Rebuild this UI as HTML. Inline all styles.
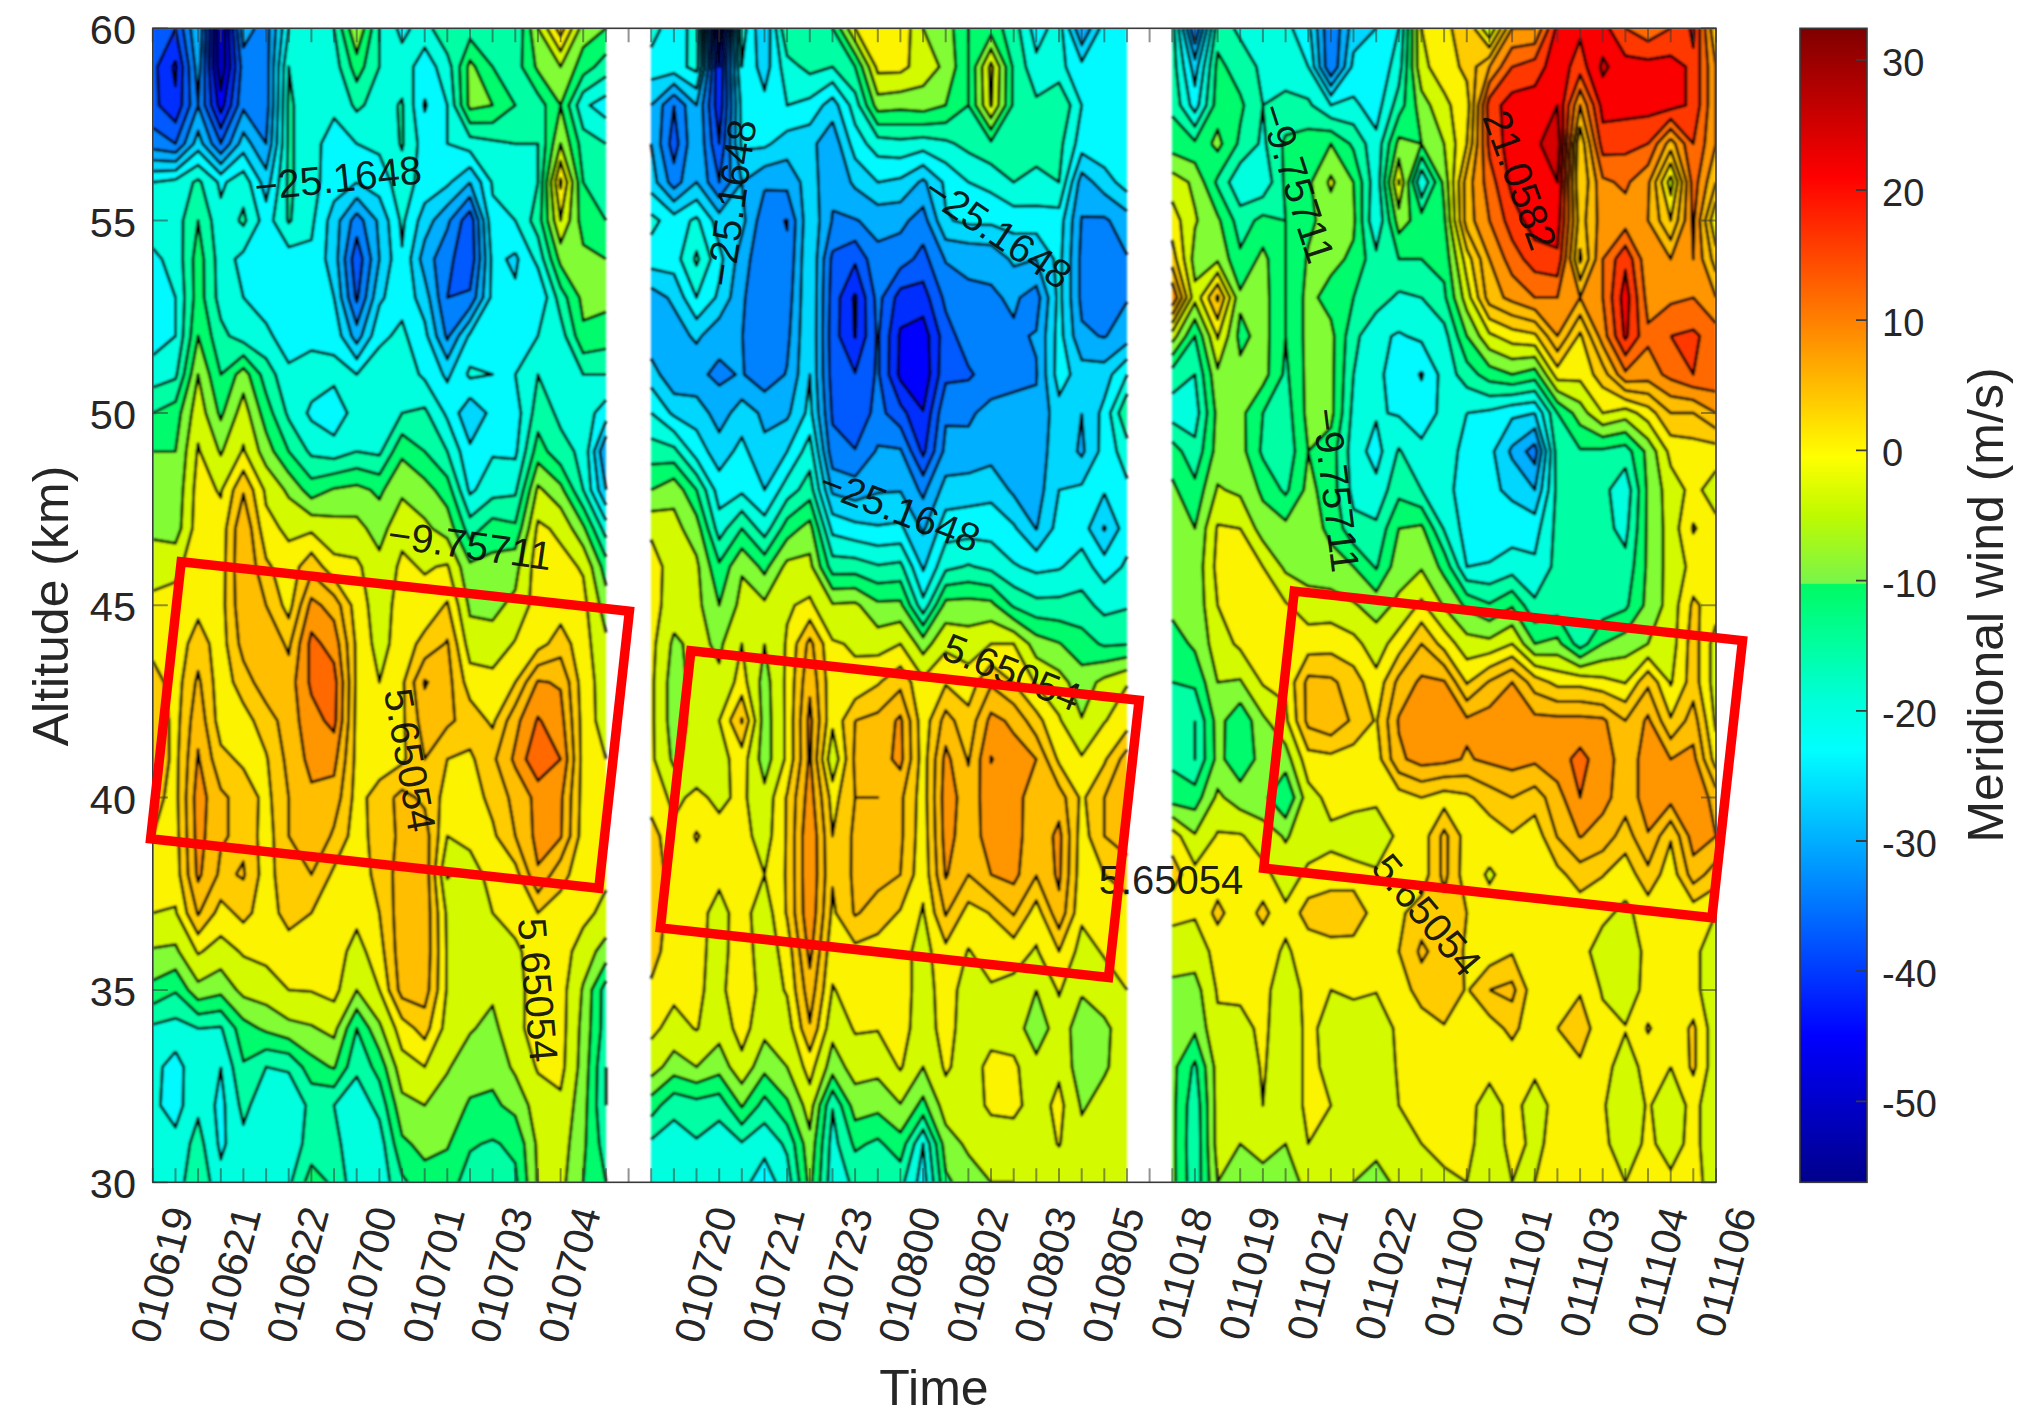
<!DOCTYPE html>
<html><head><meta charset="utf-8"><title>Meridional wind</title>
<style>html,body{margin:0;padding:0;background:#fff}svg{display:block}</style></head>
<body>
<svg width="2027" height="1421" viewBox="0 0 2027 1421">
<rect width="2027" height="1421" fill="#fff"/>
<defs><filter id="bl" x="-2%" y="-2%" width="104%" height="104%"><feGaussianBlur stdDeviation="0.8"/></filter>
<clipPath id="pc"><rect x="152.8" y="28.3" width="1563.2" height="1154"/></clipPath></defs>
<g clip-path="url(#pc)"><g filter="url(#bl)">
<rect x="152.8" y="28.3" width="453.1" height="1154" fill="#0000c8"/>
<path d="M152.8,28.3 175.5,28.3 198.1,28.3 217,28.3 217.3,66.8 220.8,90.4 225,66.8 224.9,28.3 243.4,28.3 266.1,28.3 288.7,28.3 311.4,28.3 334,28.3 356.7,28.3 379.4,28.3 402,28.3 424.7,28.3 447.3,28.3 470,28.3 492.6,28.3 515.3,28.3 537.9,28.3 560.6,28.3 583.2,28.3 605.9,28.3 605.9,66.8 605.9,105.2 605.9,143.7 605.9,182.2 605.9,220.6 605.9,259.1 605.9,297.6 605.9,336 605.9,374.5 605.9,413 605.9,451.4 605.9,489.9 605.9,528.4 605.9,566.8 605.9,605.3 605.9,643.8 605.9,682.2 605.9,720.7 605.9,759.2 605.9,797.6 605.9,836.1 605.9,874.6 605.9,913 605.9,951.5 605.9,990 605.9,1028.4 605.9,1066.9 605.9,1105.4 605.9,1143.8 605.9,1182.3 583.2,1182.3 560.6,1182.3 537.9,1182.3 515.3,1182.3 492.6,1182.3 470,1182.3 447.3,1182.3 424.7,1182.3 402,1182.3 379.4,1182.3 356.7,1182.3 334,1182.3 311.4,1182.3 288.7,1182.3 266.1,1182.3 243.4,1182.3 220.8,1182.3 198.1,1182.3 175.5,1182.3 152.8,1182.3 152.8,1143.8 152.8,1105.4 152.8,1066.9 152.8,1028.4 152.8,990 152.8,951.5 152.8,913 152.8,874.6 152.8,836.1 152.8,797.6 152.8,759.2 152.8,720.7 152.8,682.2 152.8,643.8 152.8,605.3 152.8,566.8 152.8,528.4 152.8,489.9 152.8,451.4 152.8,413 152.8,374.5 152.8,336 152.8,297.6 152.8,259.1 152.8,220.6 152.8,182.2 152.8,143.7 152.8,105.2 152.8,66.8Z" fill="#0000ff" fill-rule="evenodd"/>
<path d="M152.8,28.3 175.5,28.3 198.1,28.3 213.2,28.3 213.1,66.8 217.5,105.2 220.8,112.9 224.2,105.2 230.2,66.8 229,28.3 243.4,28.3 266.1,28.3 288.7,28.3 311.4,28.3 334,28.3 356.7,28.3 379.4,28.3 402,28.3 424.7,28.3 447.3,28.3 470,28.3 492.6,28.3 515.3,28.3 537.9,28.3 560.6,28.3 583.2,28.3 605.9,28.3 605.9,66.8 605.9,105.2 605.9,143.7 605.9,182.2 605.9,220.6 605.9,259.1 605.9,297.6 605.9,336 605.9,374.5 605.9,413 605.9,451.4 605.9,489.9 605.9,528.4 605.9,566.8 605.9,605.3 605.9,643.8 605.9,682.2 605.9,720.7 605.9,759.2 605.9,797.6 605.9,836.1 605.9,874.6 605.9,913 605.9,951.5 605.9,990 605.9,1028.4 605.9,1066.9 605.9,1105.4 605.9,1143.8 605.9,1182.3 583.2,1182.3 560.6,1182.3 537.9,1182.3 515.3,1182.3 492.6,1182.3 470,1182.3 447.3,1182.3 424.7,1182.3 402,1182.3 379.4,1182.3 356.7,1182.3 334,1182.3 311.4,1182.3 288.7,1182.3 266.1,1182.3 243.4,1182.3 220.8,1182.3 198.1,1182.3 175.5,1182.3 152.8,1182.3 152.8,1143.8 152.8,1105.4 152.8,1066.9 152.8,1028.4 152.8,990 152.8,951.5 152.8,913 152.8,874.6 152.8,836.1 152.8,797.6 152.8,759.2 152.8,720.7 152.8,682.2 152.8,643.8 152.8,605.3 152.8,566.8 152.8,528.4 152.8,489.9 152.8,451.4 152.8,413 152.8,374.5 152.8,336 152.8,297.6 152.8,259.1 152.8,220.6 152.8,182.2 152.8,143.7 152.8,105.2 152.8,66.8ZM175.5,60.4 172.4,66.8 175.5,86 176.7,66.8Z" fill="#002dff" fill-rule="evenodd"/>
<path d="M152.8,28.3 175.5,28.3 157.3,66.8 159,105.2 175.5,122.3 181.9,105.2 182.8,66.8 175.5,28.3 198.1,28.3 209.4,28.3 208.8,66.8 211.1,105.2 220.8,128.3 231.1,105.2 235.5,66.8 233.1,28.3 243.4,28.3 266.1,28.3 288.7,28.3 311.4,28.3 334,28.3 356.7,28.3 379.4,28.3 402,28.3 424.7,28.3 447.3,28.3 470,28.3 492.6,28.3 515.3,28.3 537.9,28.3 560.6,28.3 583.2,28.3 605.9,28.3 605.9,66.8 605.9,105.2 605.9,143.7 605.9,182.2 605.9,220.6 605.9,259.1 605.9,297.6 605.9,336 605.9,374.5 605.9,413 605.9,451.4 605.9,489.9 605.9,528.4 605.9,566.8 605.9,605.3 605.9,643.8 605.9,682.2 605.9,720.7 605.9,759.2 605.9,797.6 605.9,836.1 605.9,874.6 605.9,913 605.9,951.5 605.9,990 605.9,1028.4 605.9,1066.9 605.9,1105.4 605.9,1143.8 605.9,1182.3 583.2,1182.3 560.6,1182.3 537.9,1182.3 515.3,1182.3 492.6,1182.3 470,1182.3 447.3,1182.3 424.7,1182.3 402,1182.3 379.4,1182.3 356.7,1182.3 334,1182.3 311.4,1182.3 288.7,1182.3 266.1,1182.3 243.4,1182.3 220.8,1182.3 198.1,1182.3 175.5,1182.3 152.8,1182.3 152.8,1143.8 152.8,1105.4 152.8,1066.9 152.8,1028.4 152.8,990 152.8,951.5 152.8,913 152.8,874.6 152.8,836.1 152.8,797.6 152.8,759.2 152.8,720.7 152.8,682.2 152.8,643.8 152.8,605.3 152.8,566.8 152.8,528.4 152.8,489.9 152.8,451.4 152.8,413 152.8,374.5 152.8,336 152.8,297.6 152.8,259.1 152.8,220.6 152.8,182.2 152.8,143.7 152.8,105.2 152.8,66.8Z" fill="#005aff" fill-rule="evenodd"/>
<path d="M183,28.3 198.1,28.3 205.7,28.3 204.5,66.8 204.6,105.2 220.8,143.7 220.8,143.7 220.8,143.7 237.9,105.2 240.8,66.8 237.2,28.3 243.4,28.3 266.1,28.3 288.7,28.3 311.4,28.3 334,28.3 356.7,28.3 379.4,28.3 402,28.3 424.7,28.3 447.3,28.3 470,28.3 492.6,28.3 515.3,28.3 537.9,28.3 560.6,28.3 583.2,28.3 605.9,28.3 605.9,66.8 605.9,105.2 605.9,143.7 605.9,182.2 605.9,220.6 605.9,259.1 605.9,297.6 605.9,336 605.9,374.5 605.9,413 605.9,451.4 605.9,489.9 605.9,528.4 605.9,566.8 605.9,605.3 605.9,643.8 605.9,682.2 605.9,720.7 605.9,759.2 605.9,797.6 605.9,836.1 605.9,874.6 605.9,913 605.9,951.5 605.9,990 605.9,1028.4 605.9,1066.9 605.9,1105.4 605.9,1143.8 605.9,1182.3 583.2,1182.3 560.6,1182.3 537.9,1182.3 515.3,1182.3 492.6,1182.3 470,1182.3 447.3,1182.3 424.7,1182.3 402,1182.3 379.4,1182.3 356.7,1182.3 334,1182.3 311.4,1182.3 288.7,1182.3 266.1,1182.3 243.4,1182.3 220.8,1182.3 198.1,1182.3 175.5,1182.3 152.8,1182.3 152.8,1143.8 152.8,1105.4 152.8,1066.9 152.8,1028.4 152.8,990 152.8,951.5 152.8,913 152.8,874.6 152.8,836.1 152.8,797.6 152.8,759.2 152.8,720.7 152.8,682.2 152.8,643.8 152.8,605.3 152.8,566.8 152.8,528.4 152.8,489.9 152.8,451.4 152.8,413 152.8,374.5 152.8,336 152.8,297.6 152.8,259.1 152.8,220.6 152.8,182.2 152.8,143.7 152.8,127.7 175.5,143.7 175.5,143.7 175.5,143.7 190,105.2 188.9,66.8ZM356.7,236.7 351.7,259.1 355.3,297.6 356.7,302.1 358.2,297.6 362.6,259.1ZM470,210.7 461.6,220.6 453.5,259.1 447.3,297.6 447.3,297.6 447.3,297.6 447.3,297.6 470,289.9 474.4,259.1 473.5,220.6Z" fill="#0082ff" fill-rule="evenodd"/>
<path d="M190.6,28.3 198.1,28.3 201.9,28.3 200.2,66.8 198.1,105.2 195,66.8ZM241.4,28.3 243.4,28.3 254.7,28.3 243.4,47.5ZM269.3,28.3 288.7,28.3 311.4,28.3 334,28.3 356.7,28.3 379.4,28.3 402,28.3 424.7,28.3 447.3,28.3 470,28.3 492.6,28.3 515.3,28.3 537.9,28.3 560.6,28.3 583.2,28.3 605.9,28.3 605.9,66.8 605.9,105.2 605.9,143.7 605.9,182.2 605.9,220.6 605.9,259.1 605.9,297.6 605.9,336 605.9,374.5 605.9,413 605.9,451.4 605.9,451.4 605.9,451.4 605.9,489.9 605.9,528.4 605.9,566.8 605.9,605.3 605.9,643.8 605.9,682.2 605.9,720.7 605.9,759.2 605.9,797.6 605.9,836.1 605.9,874.6 605.9,913 605.9,951.5 605.9,990 605.9,1028.4 605.9,1066.9 605.9,1105.4 605.9,1143.8 605.9,1182.3 583.2,1182.3 560.6,1182.3 537.9,1182.3 515.3,1182.3 492.6,1182.3 470,1182.3 447.3,1182.3 424.7,1182.3 402,1182.3 379.4,1182.3 356.7,1182.3 334,1182.3 311.4,1182.3 288.7,1182.3 266.1,1182.3 243.4,1182.3 220.8,1182.3 198.1,1182.3 175.5,1182.3 152.8,1182.3 152.8,1143.8 152.8,1105.4 152.8,1066.9 152.8,1028.4 152.8,990 152.8,951.5 152.8,913 152.8,874.6 152.8,836.1 152.8,797.6 152.8,759.2 152.8,720.7 152.8,682.2 152.8,643.8 152.8,605.3 152.8,566.8 152.8,528.4 152.8,489.9 152.8,451.4 152.8,413 152.8,374.5 152.8,336 152.8,297.6 152.8,259.1 152.8,220.6 152.8,182.2 152.8,149.2 175.5,152.6 184.5,143.7 198.1,105.2 211.7,143.7 220.8,153.8 229.8,143.7 243.4,109.8 266.1,143.7 266.1,143.7 266.1,143.7 268.5,105.2 268.6,66.8ZM356.7,212.9 351,220.6 344.7,259.1 348.2,297.6 356.7,324.7 365.8,297.6 371,259.1 363.4,220.6ZM470,196.4 449.7,220.6 447.3,229.2 434.1,259.1 438.3,297.6 445.5,336 447.3,339.9 449.2,336 470,307.8 475.8,297.6 479.9,259.1 478.5,220.6Z" fill="#00afff" fill-rule="evenodd"/>
<path d="M275.8,28.3 288.7,28.3 311.4,28.3 334,28.3 356.7,28.3 379.4,28.3 402,28.3 424.7,28.3 447.3,28.3 470,28.3 492.6,28.3 515.3,28.3 537.9,28.3 560.6,28.3 583.2,28.3 605.9,28.3 605.9,66.8 605.9,105.2 605.9,143.7 605.9,182.2 605.9,220.6 605.9,259.1 605.9,297.6 605.9,336 605.9,374.5 605.9,413 605.9,436 599.9,451.4 605.9,489.9 605.9,489.9 605.9,528.4 605.9,566.8 605.9,605.3 605.9,643.8 605.9,682.2 605.9,720.7 605.9,759.2 605.9,797.6 605.9,836.1 605.9,874.6 605.9,913 605.9,951.5 605.9,990 605.9,1028.4 605.9,1066.9 605.9,1105.4 605.9,1143.8 605.9,1182.3 583.2,1182.3 560.6,1182.3 537.9,1182.3 515.3,1182.3 492.6,1182.3 470,1182.3 447.3,1182.3 424.7,1182.3 402,1182.3 379.4,1182.3 356.7,1182.3 334,1182.3 311.4,1182.3 288.7,1182.3 266.1,1182.3 243.4,1182.3 220.8,1182.3 198.1,1182.3 175.5,1182.3 152.8,1182.3 152.8,1143.8 152.8,1105.4 152.8,1066.9 152.8,1028.4 152.8,990 152.8,951.5 152.8,913 152.8,874.6 152.8,836.1 152.8,797.6 152.8,759.2 152.8,720.7 152.8,682.2 152.8,643.8 152.8,605.3 152.8,566.8 152.8,528.4 152.8,489.9 152.8,451.4 152.8,413 152.8,374.5 152.8,336 152.8,297.6 152.8,259.1 152.8,220.6 152.8,182.2 152.8,160.2 175.5,161.6 193.6,143.7 198.1,130.9 202.6,143.7 220.8,163.9 238.9,143.7 243.4,132.4 251,143.7 266.1,169.3 271.5,143.7 273.3,105.2 273.6,66.8ZM356.7,197.6 339.7,220.6 337.6,259.1 341.1,297.6 351.5,336 356.7,343.7 361.6,336 373.3,297.6 379.4,259.1 379.4,259.1 379.4,259.1 376.7,220.6ZM470,182.2 470,182.2 447.3,205.2 433.4,220.6 424.7,239.9 419.9,259.1 424.7,278.3 429.2,297.6 436.4,336 447.3,359.1 458.6,336 470,320.6 483.1,297.6 485.4,259.1 483.6,220.6 470,182.2Z" fill="#00d7ff" fill-rule="evenodd"/>
<path d="M282.3,28.3 288.7,28.3 311.4,28.3 334,28.3 356.7,28.3 379.4,28.3 402,28.3 424.7,28.3 447.3,28.3 470,28.3 492.6,28.3 515.3,28.3 537.9,28.3 560.6,28.3 583.2,28.3 605.9,28.3 605.9,66.8 605.9,105.2 605.9,143.7 605.9,182.2 605.9,220.6 605.9,259.1 605.9,297.6 605.9,336 605.9,374.5 605.9,413 605.9,420.7 594,451.4 598.3,489.9 605.9,505.3 605.9,528.4 605.9,566.8 605.9,605.3 605.9,643.8 605.9,682.2 605.9,720.7 605.9,759.2 605.9,797.6 605.9,836.1 605.9,874.6 605.9,913 605.9,951.5 605.9,990 605.9,1028.4 605.9,1066.9 605.9,1105.4 605.9,1143.8 605.9,1182.3 583.2,1182.3 560.6,1182.3 537.9,1182.3 515.3,1182.3 492.6,1182.3 470,1182.3 447.3,1182.3 424.7,1182.3 402,1182.3 379.4,1182.3 356.7,1182.3 334,1182.3 311.4,1182.3 288.7,1182.3 266.1,1182.3 243.4,1182.3 220.8,1182.3 198.1,1182.3 175.5,1182.3 152.8,1182.3 152.8,1143.8 152.8,1105.4 152.8,1066.9 152.8,1028.4 152.8,990 152.8,951.5 152.8,913 152.8,874.6 152.8,836.1 152.8,797.6 152.8,759.2 152.8,720.7 152.8,682.2 152.8,643.8 152.8,605.3 152.8,566.8 152.8,528.4 152.8,489.9 152.8,451.4 152.8,413 152.8,374.5 152.8,336 152.8,297.6 152.8,259.1 152.8,220.6 152.8,182.2 152.8,171.2 175.5,170.5 198.1,150.8 220.8,174.1 243.4,152.9 260.7,182.2 266.1,201.4 270.3,182.2 276.9,143.7 278.1,105.2 278.7,66.8ZM356.7,182.2 356.7,182.2 334,201.4 327.4,220.6 325.3,259.1 334,297.6 334,297.6 341.2,336 356.7,359.1 371.5,336 379.4,305.3 384.4,297.6 391.3,259.1 388.4,220.6 379.4,197 356.7,182.2ZM424.7,98.8 423.6,105.2 424.7,111.6 426.7,105.2ZM470,166.8 451.1,182.2 447.3,186 424.7,203.1 418,220.6 410.5,259.1 415.2,297.6 424.7,321.6 427.4,336 442.8,374.5 447.3,382.2 450.6,374.5 468.1,336 470,333.5 490.4,297.6 491,259.1 488.6,220.6 480.8,182.2ZM515.3,252.7 506.2,259.1 515.3,278.3 518.3,259.1ZM537.9,297.6 537.9,297.6 537.9,297.6 537.9,297.6ZM470,397.6 458.6,413 470,443.7 486.4,413Z" fill="#00faff" fill-rule="evenodd"/>
<path d="M283.7,66.8 288.7,28.3 288.7,28.3 311.4,28.3 334,28.3 356.7,28.3 379.4,28.3 396.8,28.3 402,42.7 410.5,28.3 424.7,28.3 447.3,28.3 470,28.3 492.6,28.3 515.3,28.3 537.9,28.3 560.6,28.3 583.2,28.3 605.9,28.3 605.9,66.8 605.9,95.6 589.7,105.2 605.9,118.1 605.9,143.7 605.9,182.2 605.9,220.6 605.9,259.1 605.9,297.6 605.9,336 605.9,374.5 605.9,400.1 594.6,413 588,451.4 590.8,489.9 605.9,520.7 605.9,528.4 605.9,566.8 605.9,605.3 605.9,643.8 605.9,682.2 605.9,720.7 605.9,759.2 605.9,797.6 605.9,836.1 605.9,874.6 605.9,913 605.9,951.5 605.9,990 605.9,1028.4 605.9,1066.9 605.9,1105.4 605.9,1143.8 605.9,1182.3 583.2,1182.3 560.6,1182.3 537.9,1182.3 515.3,1182.3 492.6,1182.3 470,1182.3 447.3,1182.3 424.7,1182.3 402,1182.3 379.4,1182.3 356.7,1182.3 334,1182.3 311.4,1182.3 288.7,1182.3 266.1,1182.3 243.4,1182.3 220.8,1182.3 198.1,1182.3 175.5,1182.3 152.8,1182.3 152.8,1143.8 152.8,1105.4 152.8,1066.9 152.8,1028.4 152.8,990 152.8,951.5 152.8,913 152.8,874.6 152.8,836.1 152.8,797.6 152.8,759.2 152.8,720.7 152.8,682.2 152.8,643.8 152.8,605.3 152.8,566.8 152.8,528.4 152.8,489.9 152.8,451.4 152.8,413 152.8,374.5 152.8,355.3 175.5,336 175.5,336 175.5,297.6 175.5,297.6 161.9,259.1 152.8,248.1 152.8,220.6 152.8,182.2 152.8,182.2 175.5,179.5 198.1,165.1 217.5,182.2 220.8,197.6 226.4,182.2 243.4,171.2 249.9,182.2 259.4,220.6 243.4,251.4 234.9,259.1 243.4,297.6 243.4,297.6 266.1,323.2 272.9,336 288.7,363 311.4,350.5 334,355.3 356.7,374.5 356.7,374.5 356.7,374.5 379.4,347 390.7,336 402,320.6 407,336 419,374.5 424.7,380 444.1,413 447.3,419.4 459.9,451.4 468.3,489.9 470,494.4 475.6,489.9 492.6,456.9 515.3,459.1 517,451.4 520.9,413 515.3,374.5 537.9,336 537.9,336 547,297.6 537.9,268 533.4,259.1 515.3,220.6 515.3,220.6 492.6,195 491.5,182.2 470,151.4 447.3,143.7 447.3,105.2 447.3,105.2 436,66.8 424.7,47.5 413.3,66.8 413.3,105.2 417.6,143.7 414.6,182.2 404.7,220.6 402,246.3 399.7,220.6 390.7,182.2 379.4,154.7 356.7,143.7 356.7,143.7 334,118.1 321.1,143.7 319.9,182.2 314.1,220.6 311.4,239.9 288.7,247.1 273.2,220.6 278.7,182.2 282.3,143.7 282.9,105.2ZM175.5,1051.5 162.5,1066.9 160.4,1105.4 175.5,1127.3 183,1105.4 183.7,1066.9ZM220.8,1066.9 220.8,1066.9 214.6,1105.4 217.9,1143.8 220.8,1159.2 225.8,1143.8 225,1105.4 220.8,1066.9ZM311.4,402 306.9,413 311.4,420.7 334,435.4 347.3,413 334,386ZM466.7,374.5 470,366.8 492.6,374.5 470,378.3Z" fill="#00ffde" fill-rule="evenodd"/>
<path d="M334,28.3 356.7,28.3 379.4,28.3 379.4,66.8 364.2,105.2 356.7,111.6 352.2,105.2 339.7,66.8ZM432.2,28.3 447.3,28.3 470,28.3 492.6,28.3 515.3,28.3 515.3,28.3 515.3,28.3 537.9,28.3 560.6,28.3 583.2,28.3 605.9,28.3 605.9,66.8 605.9,76.4 583.2,91.9 576.8,105.2 583.2,128.9 605.9,143.7 605.9,143.7 605.9,182.2 605.9,220.6 605.9,259.1 605.9,297.6 605.9,336 605.9,374.5 583.2,374.5 565.5,336 560.6,316.8 556.1,297.6 543.2,259.1 537.9,236.7 530.4,220.6 537.9,182.2 537.9,182.2 537.9,143.7 537.9,143.7 515.3,143.7 492.6,140.2 470,136.8 454.2,105.2 451.4,66.8 447.3,53.9ZM287.8,105.2 288.7,66.8 293.8,105.2 293.8,143.7 293.8,182.2 291.2,220.6 288.7,223 287.3,220.6 287.1,182.2 287.7,143.7ZM397.5,105.2 402,98.8 403,105.2 403.4,143.7 402,150.1 399.5,143.7ZM193.1,182.2 198.1,179.3 201.3,182.2 211.4,220.6 215.1,259.1 216,297.6 220.8,319.5 229.3,336 243.4,342.4 266.1,358.5 275.5,374.5 286.1,413 288.7,419.4 307.6,451.4 311.4,456 334,458.8 356.7,451.4 379.4,455.3 381.6,451.4 402,413 402,413 424.7,407.5 427.9,413 447.3,451.4 447.3,451.4 459.9,489.9 470,517.1 492.6,498 515.3,495.4 516.6,489.9 525.4,451.4 532.3,413 537.9,374.5 554.1,413 560.6,428.4 574.2,451.4 583.2,489.9 583.2,489.9 601.7,528.4 605.9,538 605.9,566.8 605.9,605.3 605.9,643.8 605.9,682.2 605.9,720.7 605.9,759.2 605.9,797.6 605.9,836.1 605.9,874.6 605.9,913 605.9,951.5 605.9,990 605.9,1028.4 605.9,1066.9 605.9,1066.9 605.9,1105.4 605.9,1105.4 605.9,1143.8 605.9,1182.3 583.2,1182.3 560.6,1182.3 537.9,1182.3 515.3,1182.3 492.6,1182.3 470,1182.3 447.3,1182.3 424.7,1182.3 402,1182.3 389.9,1182.3 384.3,1143.8 379.4,1119.8 371.8,1105.4 356.7,1076.5 334,1105.4 334,1105.4 334,1105.4 340.8,1143.8 346.1,1182.3 334,1182.3 311.4,1182.3 291.4,1182.3 302.3,1143.8 305.7,1105.4 288.7,1072.4 266.1,1066.9 266.1,1066.9 266.1,1066.9 250.2,1105.4 243.4,1124.6 239.2,1105.4 232.7,1066.9 222.1,1028.4 220.8,1026.8 198.1,1028.4 175.5,1018.2 152.8,1024.4 152.8,990 152.8,951.5 152.8,913 152.8,874.6 152.8,836.1 152.8,797.6 152.8,759.2 152.8,720.7 152.8,682.2 152.8,643.8 152.8,605.3 152.8,566.8 152.8,528.4 152.8,489.9 152.8,451.4 152.8,413 152.8,387.3 175.5,379 176.9,374.5 183,336 184.5,297.6 182.7,259.1 183,220.6ZM238.4,220.6 243.4,207.8 246.1,220.6 243.4,225.8ZM189.9,1143.8 198.1,1118.2 203.8,1143.8 210.2,1182.3 198.1,1182.3 184.2,1182.3Z" fill="#00ffa5" fill-rule="evenodd"/>
<path d="M341.6,28.3 356.7,28.3 371.8,28.3 364.2,66.8 356.7,81.6 351,66.8ZM459.5,66.8 470,39 492.6,66.8 492.6,66.8 515.3,105.2 492.6,122.7 470,123.1 461,105.2ZM522.8,28.3 537.9,28.3 560.6,28.3 583.2,28.3 605.9,28.3 605.9,53.9 594.6,66.8 583.2,75.1 568.7,105.2 578.7,143.7 583.2,182.2 583.2,182.2 605.9,220.6 605.9,220.6 605.9,259.1 605.9,297.6 605.9,336 605.9,348.9 583.2,353.1 575.4,336 566.9,297.6 560.6,286.9 550.8,259.1 541.2,220.6 542.3,182.2 545.5,143.7 545.5,105.2 537.9,93.9 521.9,66.8ZM193,259.1 198.1,220.6 203.8,259.1 204.1,297.6 211.4,336 220.8,374.5 220.8,374.5 220.8,374.5 243.4,355.3 260.4,374.5 266.1,393.7 272.7,413 288.7,451.4 288.7,451.4 311.4,478.6 334,473.6 356.7,468.2 379.4,474.5 392.9,451.4 402,434.3 424.7,451.4 424.7,451.4 447.3,477.1 451.5,489.9 464.6,528.4 470,539.7 481.3,528.4 492.6,518.2 515.3,522.9 523.3,489.9 533.7,451.4 537.9,432.2 547.4,451.4 560.6,464.9 573.4,489.9 583.2,507.4 593.3,528.4 605.9,557.2 605.9,566.8 605.9,605.3 605.9,643.8 605.9,682.2 605.9,720.7 605.9,759.2 605.9,797.6 605.9,836.1 605.9,874.6 605.9,913 605.9,951.5 605.9,980.8 601.2,990 600.8,1028.4 597.2,1066.9 596.5,1105.4 599.2,1143.8 605.9,1182.3 583.2,1182.3 560.6,1182.3 537.9,1182.3 517.3,1182.3 515.3,1163.1 500.2,1143.8 492.6,1139.6 481.3,1143.8 470,1151.5 458.6,1182.3 447.3,1182.3 424.7,1182.3 407.7,1182.3 402,1174.6 394.1,1143.8 386,1105.4 379.4,1080.9 371.8,1066.9 356.7,1028.4 356.7,1028.4 356.7,1028.4 347.2,1066.9 334,1087 311.4,1083.4 302.3,1066.9 288.7,1053.6 266.1,1049.4 243.4,1061.4 235.4,1028.4 220.8,1010.8 198.1,1014.2 175.5,992.5 152.8,1004.1 152.8,990 152.8,951.5 152.8,913 152.8,874.6 152.8,836.1 152.8,797.6 152.8,759.2 152.8,720.7 152.8,682.2 152.8,643.8 152.8,605.3 152.8,566.8 152.8,528.4 152.8,489.9 152.8,451.4 152.8,413 152.8,413 175.5,401.7 184,374.5 190.6,336 193.6,297.6ZM304.7,1182.3 311.4,1164.8 327.6,1182.3 311.4,1182.3Z" fill="#00fc6c" fill-rule="evenodd"/>
<path d="M349.1,28.3 356.7,28.3 364.2,28.3 356.7,53.9ZM467.5,66.8 470,60.4 475.2,66.8 492.6,105.2 470,109.4 467.9,105.2ZM530.4,28.3 537.9,28.3 560.6,28.3 583.2,28.3 605.9,28.3 583.2,47.5 575.7,66.8 560.6,105.2 537.9,71.3 535.3,66.8ZM553,143.7 560.6,105.2 569.7,143.7 577.9,182.2 578.7,220.6 583.2,244.7 605.9,259.1 605.9,259.1 605.9,297.6 605.9,312 583.2,320.6 579.5,297.6 560.6,265.5 558.3,259.1 547.6,220.6 546.6,182.2ZM191,374.5 198.1,336 209.4,374.5 218.2,413 220.8,420 223.4,413 235.9,374.5 243.4,368.1 249.1,374.5 260.4,413 266.1,432.2 273.6,451.4 288.7,472.8 302.7,489.9 311.4,498.3 330.3,489.9 334,488.4 356.7,484.9 370.3,489.9 379.4,499.5 383.9,489.9 402,459.1 424.7,478.9 434.7,489.9 447.3,507.4 453.8,528.4 470,562.3 492.6,552.4 515.3,548.9 521.3,528.4 529.9,489.9 537.9,462.7 560.6,484.1 563.5,489.9 583.2,524.9 584.9,528.4 601.2,566.8 605.9,586.1 605.9,605.3 605.9,643.8 605.9,682.2 605.9,720.7 605.9,759.2 605.9,797.6 605.9,836.1 605.9,874.6 605.9,913 605.9,951.5 605.9,962.5 591.7,990 590.5,1028.4 588.5,1066.9 587,1105.4 585.9,1143.8 583.2,1182.3 583.2,1182.3 560.6,1182.3 537.9,1182.3 527.1,1182.3 524.3,1143.8 515.3,1115.9 501.7,1105.4 492.6,1090 470,1097.7 466.2,1105.4 449.6,1143.8 447.3,1149.3 424.7,1160.3 411.1,1143.8 402,1135.3 395.4,1105.4 385.5,1066.9 379.4,1050.4 369.3,1028.4 356.7,1009.2 346.8,1028.4 335.2,1066.9 334,1068.7 329.5,1066.9 311.4,1055.1 288.7,1038.8 266.1,1031.9 258.5,1028.4 243.4,1019.4 220.8,994.8 198.1,999.9 188.2,990 175.5,969.6 152.8,980.3 152.8,951.5 152.8,913 152.8,874.6 152.8,836.1 152.8,797.6 152.8,759.2 152.8,720.7 152.8,682.2 152.8,643.8 152.8,605.3 152.8,566.8 152.8,528.4 152.8,489.9 152.8,451.4 175.5,451.4 175.5,451.4 180.8,413Z" fill="#82fc34" fill-rule="evenodd"/>
<path d="M537.9,28.3 560.6,28.3 579.5,28.3 560.6,66.8ZM551,182.2 560.6,143.7 572.5,182.2 569.7,220.6 560.6,243.3 554.1,220.6ZM191.6,413 198.1,374.5 205.7,413 218.9,451.4 220.8,455.3 222.7,451.4 236.8,413 243.4,393.7 249.1,413 259,451.4 266.1,466.2 284.2,489.9 288.7,497.6 311.4,515 334,516.5 356.7,516.8 366.4,528.4 379.4,550.3 387.6,528.4 402,498.4 424.7,518.7 432.2,528.4 447.3,538.6 460.4,566.8 468,605.3 470,616.3 492.6,620.7 504,605.3 515.3,589.9 519.1,566.8 528.9,528.4 536.6,489.9 537.9,485.4 543,489.9 560.6,507.9 571.9,528.4 583.2,546.5 591.7,566.8 599.6,605.3 605.9,632.8 605.9,643.8 605.9,682.2 605.9,720.7 605.9,759.2 605.9,797.6 605.9,836.1 605.9,874.6 605.9,913 605.9,937.5 595.8,951.5 583.2,983.6 581.7,990 579.2,1028.4 577.9,1066.9 573.5,1105.4 569.3,1143.8 565.8,1182.3 560.6,1182.3 537.9,1182.3 537,1182.3 535.7,1143.8 528.5,1105.4 515.3,1075.4 510.2,1066.9 498.8,1028.4 492.6,1005.4 475.6,1028.4 470,1033.9 450.6,1066.9 447.3,1073.3 424.7,1105.4 402,1092.5 395.8,1066.9 382,1028.4 379.4,1022 356.7,990 356.7,990 356.7,990 337,1028.4 334,1038 317,1028.4 311.4,1025.1 288.7,1019.6 266.1,1004.8 243.4,996.8 236.6,990 220.8,969.3 198.1,981.7 178.9,951.5 175.5,944.5 152.8,948 152.8,913 152.8,874.6 152.8,836.1 152.8,797.6 152.8,759.2 152.8,720.7 152.8,682.2 152.8,643.8 152.8,605.3 152.8,566.8 152.8,539.4 175.5,543.2 181.1,528.4 183,489.9 186.2,451.4ZM447.3,871.1 446.7,874.6 447.3,878.8 451.1,874.6Z" fill="#d4fa00" fill-rule="evenodd"/>
<path d="M547,28.3 560.6,28.3 571.9,28.3 560.6,51.4ZM555.4,182.2 560.6,161.2 567.1,182.2 560.6,220.6ZM197,451.4 198.1,443.7 200,451.4 216.2,489.9 220.8,497.6 221.9,489.9 241.5,451.4 243.4,445 244.8,451.4 263.9,489.9 266.1,505.3 279.7,528.4 288.7,541.2 311.4,532.4 334,554 356.7,558.3 361.7,566.8 368,605.3 371.8,643.8 379.4,682.2 379.4,682.2 379.4,682.2 389.4,643.8 391.9,605.3 397,566.8 402,551.4 417.1,566.8 424.7,574.5 436,566.8 447.3,564.3 448.5,566.8 458.2,605.3 465.6,643.8 470,663 492.6,668.2 512.4,643.8 515.3,639.5 529.2,605.3 531.6,566.8 536.4,528.4 537.9,520.7 549.3,528.4 560.6,543.8 577.6,566.8 583.2,576.4 587,605.3 590.8,643.8 594.6,682.2 595.6,720.7 605.9,759.2 605.9,759.2 605.9,797.6 605.9,836.1 605.9,874.6 605.9,890 594.6,913 583.2,927.5 571.9,951.5 566.6,990 565.9,1028.4 564.6,1066.9 560.6,1090 537.9,1073.3 535.4,1066.9 524.3,1028.4 525,990 521.8,951.5 515.3,938.7 492.6,913 492.6,913 482.6,874.6 470,850.5 447.3,836.1 447.3,836.1 447.3,836.1 440.8,874.6 445.8,913 446.5,951.5 446.4,990 442.3,1028.4 424.7,1066.9 402,1049.8 395.3,1028.4 379.4,990 379.4,990 365.8,951.5 356.7,929.5 346.6,951.5 339.3,990 334,1001.5 311.4,991.6 288.7,990 288.7,990 266.1,965.9 243.4,956.3 238.9,951.5 220.8,936.1 202.6,951.5 198.1,954.2 196.4,951.5 176.5,913 175.5,906.6 152.8,913 152.8,874.6 152.8,836.1 152.8,797.6 152.8,759.2 152.8,720.7 152.8,682.2 152.8,643.8 152.8,605.3 152.8,590.9 175.5,582.2 181.9,566.8 192.4,528.4 193.8,489.9Z" fill="#fcf300" fill-rule="evenodd"/>
<path d="M556.1,28.3 560.6,28.3 564.4,28.3 560.6,36ZM559.7,182.2 560.6,178.7 561.7,182.2 560.6,188.6ZM233.2,489.9 243.4,470.7 253.1,489.9 260,528.4 266.1,558.3 271.7,566.8 282.3,605.3 288.7,618.1 292.1,605.3 299.2,566.8 311.4,552.7 322.7,566.8 334,578.5 351.3,605.3 355.1,643.8 355.4,682.2 354.8,720.7 354.1,759.2 352.2,797.6 348,836.1 334,866.9 330.3,874.6 311.4,913 311.4,913 288.7,930.1 278.7,913 274.8,874.6 273.6,836.1 271.3,797.6 267.7,759.2 266.1,752.8 253.5,720.7 243.4,703.6 233.1,682.2 226.7,643.8 224.9,605.3 225.3,566.8 226.2,528.4ZM444.1,605.3 447.3,601.5 448.3,605.3 456.9,643.8 464,682.2 470,699.7 487,720.7 492.6,728.4 495,720.7 515.3,682.2 515.3,682.2 537.9,649.9 548,643.8 560.6,624.5 570.9,643.8 578.5,682.2 580,720.7 580.6,759.2 579.8,797.6 578.9,836.1 569.1,874.6 560.6,891.1 537.9,913 519.2,874.6 515.3,863.6 496.4,836.1 492.6,820.7 484.1,797.6 474.5,759.2 470,749.5 447.3,759.2 447.3,759.2 439.8,797.6 438.3,836.1 434.8,874.6 437.9,913 438.4,951.5 437.7,990 429.7,1028.4 424.7,1039.4 414.6,1028.4 402,1018.3 388.8,990 383.9,951.5 379.4,913 379.4,913 370.9,874.6 368,836.1 366.8,797.6 379.4,780.1 402,764.3 405.8,759.2 404.7,720.7 404,682.2 416.2,643.8 424.7,630.9ZM187.8,643.8 198.1,619.7 209.4,643.8 213.2,682.2 215.6,720.7 220.8,744.7 234.4,759.2 243.4,768.8 258.5,797.6 257.4,836.1 259,874.6 251.9,913 243.4,922.6 233.7,913 220.8,900.2 214.7,913 198.1,934.2 186.8,913 179.7,874.6 178.7,836.1 177.9,797.6 178.3,759.2 179.8,720.7 182.1,682.2ZM152.8,682.2 152.8,660.9 164.1,682.2 169,720.7 169.3,759.2 164.1,797.6 152.8,836.1 152.8,797.6 152.8,759.2 152.8,720.7Z" fill="#ffcc00" fill-rule="evenodd"/>
<path d="M235.3,528.4 243.4,493.7 251.3,528.4 256,566.8 266.1,605.3 266.1,605.3 284.2,643.8 288.7,654.8 290.5,643.8 300.5,605.3 311.4,574 334,595.3 340.5,605.3 347,643.8 349.1,682.2 348.5,720.7 345.4,759.2 340.8,797.6 334,826.5 330.3,836.1 311.4,874.6 288.7,836.1 288.7,797.6 288.7,797.6 283.9,759.2 277.4,720.7 266.1,703.2 253.7,682.2 243.4,660.9 238.7,643.8 235.2,605.3 234.4,566.8ZM444.5,643.8 447.3,639.9 448.2,643.8 452.1,682.2 454.9,720.7 447.3,727.1 424.7,759.2 418,720.7 413.8,682.2 424.7,658.7ZM195.4,682.2 198.1,671.2 200.6,682.2 205.3,720.7 212,759.2 220.8,789.1 228.3,797.6 228.3,836.1 220.8,848.9 217.5,874.6 199.6,913 198.1,915 197.1,913 188,874.6 186.8,836.1 186,797.6 187.7,759.2 190.6,720.7ZM526.1,682.2 537.9,665.3 560.6,657.5 569.1,682.2 571.9,720.7 573.9,759.2 571,797.6 570.2,836.1 560.6,859.6 550.7,874.6 537.9,892.8 529.1,874.6 515.3,836.1 515.3,836.1 508.5,797.6 495.9,759.2 506.9,720.7 515.3,704.9ZM393.5,797.6 402,789.9 415.6,797.6 424.7,808.6 429.2,836.1 428.8,874.6 430.1,913 430.3,951.5 429,990 424.7,1007.5 402,998.1 398.2,990 395.2,951.5 393.5,913 392.6,874.6 395.5,836.1ZM235.9,874.6 243.4,861.7 244.8,874.6 243.4,879.4Z" fill="#ffbe00" fill-rule="evenodd"/>
<path d="M308.9,605.3 311.4,598.1 321.1,605.3 334,620.7 338.9,643.8 342.9,682.2 342.2,720.7 336.7,759.2 334,775.7 311.4,782.2 304.6,759.2 299,720.7 295.4,682.2 299.6,643.8ZM423.7,682.2 424.7,680.1 427.9,682.2 424.7,688.6ZM536.9,682.2 537.9,680.7 549.3,682.2 560.6,689.9 563.8,720.7 567.3,759.2 562.3,797.6 561.5,836.1 560.6,838.2 537.9,864.9 532.7,836.1 531.1,797.6 515.3,767.7 512,759.2 515.3,743.8 520.1,720.7ZM197.2,759.2 198.1,749.5 199.4,759.2 206.8,797.6 205.1,836.1 201.3,874.6 198.1,881.6 196.4,874.6 194.9,836.1 194.1,797.6Z" fill="#ff9600" fill-rule="evenodd"/>
<path d="M308.7,643.8 311.4,632.2 321.1,643.8 334,663 336.6,682.2 335.9,720.7 334,732.2 324.3,720.7 311.4,695.1 308.7,682.2ZM536.3,720.7 537.9,716.9 541.2,720.7 560.6,759.2 537.9,780.8 525.9,759.2Z" fill="#ff6900" fill-rule="evenodd"/>
<path d="M217,28.3 217.3,66.8 220.8,90.4 225,66.8 224.9,28.3M175.5,60.4 172.4,66.8 175.5,86 176.7,66.8 175.5,60.4M213.2,28.3 213.1,66.8 217.5,105.2 220.8,112.9 224.2,105.2 230.2,66.8 229,28.3M175.5,28.3 157.3,66.8 159,105.2 175.5,122.3 181.9,105.2 182.8,66.8 175.5,28.3M209.4,28.3 208.8,66.8 211.1,105.2 220.8,128.3 231.1,105.2 235.5,66.8 233.1,28.3M205.7,28.3 204.5,66.8 204.6,105.2 220.8,143.7 220.8,143.7 220.8,143.7 237.9,105.2 240.8,66.8 237.2,28.3M152.8,127.7 175.5,143.7 175.5,143.7 175.5,143.7 190,105.2 188.9,66.8 183,28.3M470,210.7 461.6,220.6 453.5,259.1 447.3,297.6 447.3,297.6 447.3,297.6 447.3,297.6 470,289.9 474.4,259.1 473.5,220.6 470,210.7M356.7,236.7 351.7,259.1 355.3,297.6 356.7,302.1 358.2,297.6 362.6,259.1 356.7,236.7M201.9,28.3 200.2,66.8 198.1,105.2 195,66.8 190.6,28.3M254.7,28.3 243.4,47.5 241.4,28.3M152.8,149.2 175.5,152.6 184.5,143.7 198.1,105.2 211.7,143.7 220.8,153.8 229.8,143.7 243.4,109.8 266.1,143.7 266.1,143.7 266.1,143.7 268.5,105.2 268.6,66.8 269.3,28.3M356.7,212.9 351,220.6 344.7,259.1 348.2,297.6 356.7,324.7 365.8,297.6 371,259.1 363.4,220.6 356.7,212.9M470,196.4 449.7,220.6 447.3,229.2 434.1,259.1 438.3,297.6 445.5,336 447.3,339.9 449.2,336 470,307.8 475.8,297.6 479.9,259.1 478.5,220.6 470,196.4M605.9,451.4 605.9,451.4 605.9,451.4M152.8,160.2 175.5,161.6 193.6,143.7 198.1,130.9 202.6,143.7 220.8,163.9 238.9,143.7 243.4,132.4 251,143.7 266.1,169.3 271.5,143.7 273.3,105.2 273.6,66.8 275.8,28.3M470,182.2 470,182.2 447.3,205.2 433.4,220.6 424.7,239.9 419.9,259.1 424.7,278.3 429.2,297.6 436.4,336 447.3,359.1 458.6,336 470,320.6 483.1,297.6 485.4,259.1 483.6,220.6 470,182.2 470,182.2M356.7,197.6 339.7,220.6 337.6,259.1 341.1,297.6 351.5,336 356.7,343.7 361.6,336 373.3,297.6 379.4,259.1 379.4,259.1 379.4,259.1 376.7,220.6 356.7,197.6M605.9,436 599.9,451.4 605.9,489.9 605.9,489.9M424.7,98.8 423.6,105.2 424.7,111.6 426.7,105.2 424.7,98.8M152.8,171.2 175.5,170.5 198.1,150.8 220.8,174.1 243.4,152.9 260.7,182.2 266.1,201.4 270.3,182.2 276.9,143.7 278.1,105.2 278.7,66.8 282.3,28.3M356.7,182.2 356.7,182.2 334,201.4 327.4,220.6 325.3,259.1 334,297.6 334,297.6 341.2,336 356.7,359.1 371.5,336 379.4,305.3 384.4,297.6 391.3,259.1 388.4,220.6 379.4,197 356.7,182.2 356.7,182.2M470,166.8 451.1,182.2 447.3,186 424.7,203.1 418,220.6 410.5,259.1 415.2,297.6 424.7,321.6 427.4,336 442.8,374.5 447.3,382.2 450.6,374.5 468.1,336 470,333.5 490.4,297.6 491,259.1 488.6,220.6 480.8,182.2 470,166.8M515.3,252.7 506.2,259.1 515.3,278.3 518.3,259.1 515.3,252.7M537.9,297.6 537.9,297.6 537.9,297.6 537.9,297.6 537.9,297.6M470,397.6 458.6,413 470,443.7 486.4,413 470,397.6M605.9,420.7 594,451.4 598.3,489.9 605.9,505.3M396.8,28.3 402,42.7 410.5,28.3M605.9,95.6 589.7,105.2 605.9,118.1M152.8,182.2 152.8,182.2 175.5,179.5 198.1,165.1 217.5,182.2 220.8,197.6 226.4,182.2 243.4,171.2 249.9,182.2 259.4,220.6 243.4,251.4 234.9,259.1 243.4,297.6 243.4,297.6 266.1,323.2 272.9,336 288.7,363 311.4,350.5 334,355.3 356.7,374.5 356.7,374.5 356.7,374.5 379.4,347 390.7,336 402,320.6 407,336 419,374.5 424.7,380 444.1,413 447.3,419.4 459.9,451.4 468.3,489.9 470,494.4 475.6,489.9 492.6,456.9 515.3,459.1 517,451.4 520.9,413 515.3,374.5 537.9,336 537.9,336 547,297.6 537.9,268 533.4,259.1 515.3,220.6 515.3,220.6 492.6,195 491.5,182.2 470,151.4 447.3,143.7 447.3,105.2 447.3,105.2 436,66.8 424.7,47.5 413.3,66.8 413.3,105.2 417.6,143.7 414.6,182.2 404.7,220.6 402,246.3 399.7,220.6 390.7,182.2 379.4,154.7 356.7,143.7 356.7,143.7 334,118.1 321.1,143.7 319.9,182.2 314.1,220.6 311.4,239.9 288.7,247.1 273.2,220.6 278.7,182.2 282.3,143.7 282.9,105.2 283.7,66.8 288.7,28.3 288.7,28.3M152.8,355.3 175.5,336 175.5,336 175.5,297.6 175.5,297.6 161.9,259.1 152.8,248.1M466.7,374.5 470,366.8 492.6,374.5 470,378.3 466.7,374.5M311.4,402 306.9,413 311.4,420.7 334,435.4 347.3,413 334,386 311.4,402M605.9,400.1 594.6,413 588,451.4 590.8,489.9 605.9,520.7M175.5,1051.5 162.5,1066.9 160.4,1105.4 175.5,1127.3 183,1105.4 183.7,1066.9 175.5,1051.5M220.8,1066.9 220.8,1066.9 214.6,1105.4 217.9,1143.8 220.8,1159.2 225.8,1143.8 225,1105.4 220.8,1066.9 220.8,1066.9M379.4,28.3 379.4,66.8 364.2,105.2 356.7,111.6 352.2,105.2 339.7,66.8 334,28.3M515.3,28.3 515.3,28.3 515.3,28.3M287.8,105.2 288.7,66.8 293.8,105.2 293.8,143.7 293.8,182.2 291.2,220.6 288.7,223 287.3,220.6 287.1,182.2 287.7,143.7 287.8,105.2M397.5,105.2 402,98.8 403,105.2 403.4,143.7 402,150.1 399.5,143.7 397.5,105.2M605.9,76.4 583.2,91.9 576.8,105.2 583.2,128.9 605.9,143.7 605.9,143.7M238.4,220.6 243.4,207.8 246.1,220.6 243.4,225.8 238.4,220.6M605.9,374.5 583.2,374.5 565.5,336 560.6,316.8 556.1,297.6 543.2,259.1 537.9,236.7 530.4,220.6 537.9,182.2 537.9,182.2 537.9,143.7 537.9,143.7 515.3,143.7 492.6,140.2 470,136.8 454.2,105.2 451.4,66.8 447.3,53.9 432.2,28.3M152.8,387.3 175.5,379 176.9,374.5 183,336 184.5,297.6 182.7,259.1 183,220.6 193.1,182.2 198.1,179.3 201.3,182.2 211.4,220.6 215.1,259.1 216,297.6 220.8,319.5 229.3,336 243.4,342.4 266.1,358.5 275.5,374.5 286.1,413 288.7,419.4 307.6,451.4 311.4,456 334,458.8 356.7,451.4 379.4,455.3 381.6,451.4 402,413 402,413 424.7,407.5 427.9,413 447.3,451.4 447.3,451.4 459.9,489.9 470,517.1 492.6,498 515.3,495.4 516.6,489.9 525.4,451.4 532.3,413 537.9,374.5 554.1,413 560.6,428.4 574.2,451.4 583.2,489.9 583.2,489.9 601.7,528.4 605.9,538M605.9,1066.9 605.9,1066.9 605.9,1105.4 605.9,1105.4M184.2,1182.3 189.9,1143.8 198.1,1118.2 203.8,1143.8 210.2,1182.3M291.4,1182.3 302.3,1143.8 305.7,1105.4 288.7,1072.4 266.1,1066.9 266.1,1066.9 266.1,1066.9 250.2,1105.4 243.4,1124.6 239.2,1105.4 232.7,1066.9 222.1,1028.4 220.8,1026.8 198.1,1028.4 175.5,1018.2 152.8,1024.4M389.9,1182.3 384.3,1143.8 379.4,1119.8 371.8,1105.4 356.7,1076.5 334,1105.4 334,1105.4 334,1105.4 340.8,1143.8 346.1,1182.3M371.8,28.3 364.2,66.8 356.7,81.6 351,66.8 341.6,28.3M459.5,66.8 470,39 492.6,66.8 492.6,66.8 515.3,105.2 492.6,122.7 470,123.1 461,105.2 459.5,66.8M605.9,53.9 594.6,66.8 583.2,75.1 568.7,105.2 578.7,143.7 583.2,182.2 583.2,182.2 605.9,220.6 605.9,220.6M605.9,348.9 583.2,353.1 575.4,336 566.9,297.6 560.6,286.9 550.8,259.1 541.2,220.6 542.3,182.2 545.5,143.7 545.5,105.2 537.9,93.9 521.9,66.8 522.8,28.3M152.8,413 152.8,413 175.5,401.7 184,374.5 190.6,336 193.6,297.6 193,259.1 198.1,220.6 203.8,259.1 204.1,297.6 211.4,336 220.8,374.5 220.8,374.5 220.8,374.5 243.4,355.3 260.4,374.5 266.1,393.7 272.7,413 288.7,451.4 288.7,451.4 311.4,478.6 334,473.6 356.7,468.2 379.4,474.5 392.9,451.4 402,434.3 424.7,451.4 424.7,451.4 447.3,477.1 451.5,489.9 464.6,528.4 470,539.7 481.3,528.4 492.6,518.2 515.3,522.9 523.3,489.9 533.7,451.4 537.9,432.2 547.4,451.4 560.6,464.9 573.4,489.9 583.2,507.4 593.3,528.4 605.9,557.2M605.9,980.8 601.2,990 600.8,1028.4 597.2,1066.9 596.5,1105.4 599.2,1143.8 605.9,1182.3M304.7,1182.3 311.4,1164.8 327.6,1182.3M407.7,1182.3 402,1174.6 394.1,1143.8 386,1105.4 379.4,1080.9 371.8,1066.9 356.7,1028.4 356.7,1028.4 356.7,1028.4 347.2,1066.9 334,1087 311.4,1083.4 302.3,1066.9 288.7,1053.6 266.1,1049.4 243.4,1061.4 235.4,1028.4 220.8,1010.8 198.1,1014.2 175.5,992.5 152.8,1004.1M517.3,1182.3 515.3,1163.1 500.2,1143.8 492.6,1139.6 481.3,1143.8 470,1151.5 458.6,1182.3M364.2,28.3 356.7,53.9 349.1,28.3M467.5,66.8 470,60.4 475.2,66.8 492.6,105.2 470,109.4 467.9,105.2 467.5,66.8M605.9,28.3 583.2,47.5 575.7,66.8 560.6,105.2 537.9,71.3 535.3,66.8 530.4,28.3M605.9,312 583.2,320.6 579.5,297.6 560.6,265.5 558.3,259.1 547.6,220.6 546.6,182.2 553,143.7 560.6,105.2 569.7,143.7 577.9,182.2 578.7,220.6 583.2,244.7 605.9,259.1 605.9,259.1M152.8,451.4 175.5,451.4 175.5,451.4 180.8,413 191,374.5 198.1,336 209.4,374.5 218.2,413 220.8,420 223.4,413 235.9,374.5 243.4,368.1 249.1,374.5 260.4,413 266.1,432.2 273.6,451.4 288.7,472.8 302.7,489.9 311.4,498.3 330.3,489.9 334,488.4 356.7,484.9 370.3,489.9 379.4,499.5 383.9,489.9 402,459.1 424.7,478.9 434.7,489.9 447.3,507.4 453.8,528.4 470,562.3 492.6,552.4 515.3,548.9 521.3,528.4 529.9,489.9 537.9,462.7 560.6,484.1 563.5,489.9 583.2,524.9 584.9,528.4 601.2,566.8 605.9,586.1M605.9,962.5 591.7,990 590.5,1028.4 588.5,1066.9 587,1105.4 585.9,1143.8 583.2,1182.3 583.2,1182.3M527.1,1182.3 524.3,1143.8 515.3,1115.9 501.7,1105.4 492.6,1090 470,1097.7 466.2,1105.4 449.6,1143.8 447.3,1149.3 424.7,1160.3 411.1,1143.8 402,1135.3 395.4,1105.4 385.5,1066.9 379.4,1050.4 369.3,1028.4 356.7,1009.2 346.8,1028.4 335.2,1066.9 334,1068.7 329.5,1066.9 311.4,1055.1 288.7,1038.8 266.1,1031.9 258.5,1028.4 243.4,1019.4 220.8,994.8 198.1,999.9 188.2,990 175.5,969.6 152.8,980.3M579.5,28.3 560.6,66.8 537.9,28.3M551,182.2 560.6,143.7 572.5,182.2 569.7,220.6 560.6,243.3 554.1,220.6 551,182.2M152.8,539.4 175.5,543.2 181.1,528.4 183,489.9 186.2,451.4 191.6,413 198.1,374.5 205.7,413 218.9,451.4 220.8,455.3 222.7,451.4 236.8,413 243.4,393.7 249.1,413 259,451.4 266.1,466.2 284.2,489.9 288.7,497.6 311.4,515 334,516.5 356.7,516.8 366.4,528.4 379.4,550.3 387.6,528.4 402,498.4 424.7,518.7 432.2,528.4 447.3,538.6 460.4,566.8 468,605.3 470,616.3 492.6,620.7 504,605.3 515.3,589.9 519.1,566.8 528.9,528.4 536.6,489.9 537.9,485.4 543,489.9 560.6,507.9 571.9,528.4 583.2,546.5 591.7,566.8 599.6,605.3 605.9,632.8M447.3,871.1 446.7,874.6 447.3,878.8 451.1,874.6 447.3,871.1M605.9,937.5 595.8,951.5 583.2,983.6 581.7,990 579.2,1028.4 577.9,1066.9 573.5,1105.4 569.3,1143.8 565.8,1182.3M537,1182.3 535.7,1143.8 528.5,1105.4 515.3,1075.4 510.2,1066.9 498.8,1028.4 492.6,1005.4 475.6,1028.4 470,1033.9 450.6,1066.9 447.3,1073.3 424.7,1105.4 402,1092.5 395.8,1066.9 382,1028.4 379.4,1022 356.7,990 356.7,990 356.7,990 337,1028.4 334,1038 317,1028.4 311.4,1025.1 288.7,1019.6 266.1,1004.8 243.4,996.8 236.6,990 220.8,969.3 198.1,981.7 178.9,951.5 175.5,944.5 152.8,948M571.9,28.3 560.6,51.4 547,28.3M555.4,182.2 560.6,161.2 567.1,182.2 560.6,220.6 555.4,182.2M152.8,590.9 175.5,582.2 181.9,566.8 192.4,528.4 193.8,489.9 197,451.4 198.1,443.7 200,451.4 216.2,489.9 220.8,497.6 221.9,489.9 241.5,451.4 243.4,445 244.8,451.4 263.9,489.9 266.1,505.3 279.7,528.4 288.7,541.2 311.4,532.4 334,554 356.7,558.3 361.7,566.8 368,605.3 371.8,643.8 379.4,682.2 379.4,682.2 379.4,682.2 389.4,643.8 391.9,605.3 397,566.8 402,551.4 417.1,566.8 424.7,574.5 436,566.8 447.3,564.3 448.5,566.8 458.2,605.3 465.6,643.8 470,663 492.6,668.2 512.4,643.8 515.3,639.5 529.2,605.3 531.6,566.8 536.4,528.4 537.9,520.7 549.3,528.4 560.6,543.8 577.6,566.8 583.2,576.4 587,605.3 590.8,643.8 594.6,682.2 595.6,720.7 605.9,759.2 605.9,759.2M605.9,890 594.6,913 583.2,927.5 571.9,951.5 566.6,990 565.9,1028.4 564.6,1066.9 560.6,1090 537.9,1073.3 535.4,1066.9 524.3,1028.4 525,990 521.8,951.5 515.3,938.7 492.6,913 492.6,913 482.6,874.6 470,850.5 447.3,836.1 447.3,836.1 447.3,836.1 440.8,874.6 445.8,913 446.5,951.5 446.4,990 442.3,1028.4 424.7,1066.9 402,1049.8 395.3,1028.4 379.4,990 379.4,990 365.8,951.5 356.7,929.5 346.6,951.5 339.3,990 334,1001.5 311.4,991.6 288.7,990 288.7,990 266.1,965.9 243.4,956.3 238.9,951.5 220.8,936.1 202.6,951.5 198.1,954.2 196.4,951.5 176.5,913 175.5,906.6 152.8,913M564.4,28.3 560.6,36 556.1,28.3M559.7,182.2 560.6,178.7 561.7,182.2 560.6,188.6 559.7,182.2M233.2,489.9 243.4,470.7 253.1,489.9 260,528.4 266.1,558.3 271.7,566.8 282.3,605.3 288.7,618.1 292.1,605.3 299.2,566.8 311.4,552.7 322.7,566.8 334,578.5 351.3,605.3 355.1,643.8 355.4,682.2 354.8,720.7 354.1,759.2 352.2,797.6 348,836.1 334,866.9 330.3,874.6 311.4,913 311.4,913 288.7,930.1 278.7,913 274.8,874.6 273.6,836.1 271.3,797.6 267.7,759.2 266.1,752.8 253.5,720.7 243.4,703.6 233.1,682.2 226.7,643.8 224.9,605.3 225.3,566.8 226.2,528.4 233.2,489.9M444.1,605.3 447.3,601.5 448.3,605.3 456.9,643.8 464,682.2 470,699.7 487,720.7 492.6,728.4 495,720.7 515.3,682.2 515.3,682.2 537.9,649.9 548,643.8 560.6,624.5 570.9,643.8 578.5,682.2 580,720.7 580.6,759.2 579.8,797.6 578.9,836.1 569.1,874.6 560.6,891.1 537.9,913 519.2,874.6 515.3,863.6 496.4,836.1 492.6,820.7 484.1,797.6 474.5,759.2 470,749.5 447.3,759.2 447.3,759.2 439.8,797.6 438.3,836.1 434.8,874.6 437.9,913 438.4,951.5 437.7,990 429.7,1028.4 424.7,1039.4 414.6,1028.4 402,1018.3 388.8,990 383.9,951.5 379.4,913 379.4,913 370.9,874.6 368,836.1 366.8,797.6 379.4,780.1 402,764.3 405.8,759.2 404.7,720.7 404,682.2 416.2,643.8 424.7,630.9 444.1,605.3M187.8,643.8 198.1,619.7 209.4,643.8 213.2,682.2 215.6,720.7 220.8,744.7 234.4,759.2 243.4,768.8 258.5,797.6 257.4,836.1 259,874.6 251.9,913 243.4,922.6 233.7,913 220.8,900.2 214.7,913 198.1,934.2 186.8,913 179.7,874.6 178.7,836.1 177.9,797.6 178.3,759.2 179.8,720.7 182.1,682.2 187.8,643.8M152.8,660.9 164.1,682.2 169,720.7 169.3,759.2 164.1,797.6 152.8,836.1M235.3,528.4 243.4,493.7 251.3,528.4 256,566.8 266.1,605.3 266.1,605.3 284.2,643.8 288.7,654.8 290.5,643.8 300.5,605.3 311.4,574 334,595.3 340.5,605.3 347,643.8 349.1,682.2 348.5,720.7 345.4,759.2 340.8,797.6 334,826.5 330.3,836.1 311.4,874.6 288.7,836.1 288.7,797.6 288.7,797.6 283.9,759.2 277.4,720.7 266.1,703.2 253.7,682.2 243.4,660.9 238.7,643.8 235.2,605.3 234.4,566.8 235.3,528.4M444.5,643.8 447.3,639.9 448.2,643.8 452.1,682.2 454.9,720.7 447.3,727.1 424.7,759.2 418,720.7 413.8,682.2 424.7,658.7 444.5,643.8M195.4,682.2 198.1,671.2 200.6,682.2 205.3,720.7 212,759.2 220.8,789.1 228.3,797.6 228.3,836.1 220.8,848.9 217.5,874.6 199.6,913 198.1,915 197.1,913 188,874.6 186.8,836.1 186,797.6 187.7,759.2 190.6,720.7 195.4,682.2M526.1,682.2 537.9,665.3 560.6,657.5 569.1,682.2 571.9,720.7 573.9,759.2 571,797.6 570.2,836.1 560.6,859.6 550.7,874.6 537.9,892.8 529.1,874.6 515.3,836.1 515.3,836.1 508.5,797.6 495.9,759.2 506.9,720.7 515.3,704.9 526.1,682.2M393.5,797.6 402,789.9 415.6,797.6 424.7,808.6 429.2,836.1 428.8,874.6 430.1,913 430.3,951.5 429,990 424.7,1007.5 402,998.1 398.2,990 395.2,951.5 393.5,913 392.6,874.6 395.5,836.1 393.5,797.6M235.9,874.6 243.4,861.7 244.8,874.6 243.4,879.4 235.9,874.6M308.9,605.3 311.4,598.1 321.1,605.3 334,620.7 338.9,643.8 342.9,682.2 342.2,720.7 336.7,759.2 334,775.7 311.4,782.2 304.6,759.2 299,720.7 295.4,682.2 299.6,643.8 308.9,605.3M423.7,682.2 424.7,680.1 427.9,682.2 424.7,688.6 423.7,682.2M536.9,682.2 537.9,680.7 549.3,682.2 560.6,689.9 563.8,720.7 567.3,759.2 562.3,797.6 561.5,836.1 560.6,838.2 537.9,864.9 532.7,836.1 531.1,797.6 515.3,767.7 512,759.2 515.3,743.8 520.1,720.7 536.9,682.2M197.2,759.2 198.1,749.5 199.4,759.2 206.8,797.6 205.1,836.1 201.3,874.6 198.1,881.6 196.4,874.6 194.9,836.1 194.1,797.6 197.2,759.2M308.7,643.8 311.4,632.2 321.1,643.8 334,663 336.6,682.2 335.9,720.7 334,732.2 324.3,720.7 311.4,695.1 308.7,682.2 308.7,643.8M536.3,720.7 537.9,716.9 541.2,720.7 560.6,759.2 537.9,780.8 525.9,759.2 536.3,720.7" fill="none" stroke="#000" stroke-opacity="1" stroke-width="3" stroke-linejoin="round"/>
<rect x="651.2" y="28.3" width="475.8" height="1154" fill="#0000ff"/>
<path d="M651.2,28.3 673.9,28.3 696.5,28.3 717.6,28.3 719.2,66.8 719.2,66.8 719.2,66.8 720.8,28.3 741.8,28.3 764.5,28.3 787.1,28.3 809.8,28.3 832.5,28.3 855.1,28.3 877.8,28.3 900.4,28.3 923.1,28.3 945.7,28.3 968.4,28.3 991,28.3 1013.7,28.3 1036.3,28.3 1059,28.3 1081.7,28.3 1104.3,28.3 1127,28.3 1127,66.8 1127,105.2 1127,143.7 1127,182.2 1127,220.6 1127,259.1 1127,297.6 1127,336 1127,374.5 1127,413 1127,451.4 1127,489.9 1127,528.4 1127,566.8 1127,605.3 1127,643.8 1127,682.2 1127,720.7 1127,759.2 1127,797.6 1127,836.1 1127,874.6 1127,913 1127,951.5 1127,990 1127,1028.4 1127,1066.9 1127,1105.4 1127,1143.8 1127,1182.3 1104.3,1182.3 1081.7,1182.3 1059,1182.3 1036.3,1182.3 1013.7,1182.3 991,1182.3 968.4,1182.3 945.7,1182.3 923.1,1182.3 900.4,1182.3 877.8,1182.3 855.1,1182.3 832.5,1182.3 809.8,1182.3 787.1,1182.3 764.5,1182.3 741.8,1182.3 719.2,1182.3 696.5,1182.3 673.9,1182.3 651.2,1182.3 651.2,1143.8 651.2,1105.4 651.2,1066.9 651.2,1028.4 651.2,990 651.2,951.5 651.2,913 651.2,874.6 651.2,836.1 651.2,797.6 651.2,759.2 651.2,720.7 651.2,682.2 651.2,643.8 651.2,605.3 651.2,566.8 651.2,528.4 651.2,489.9 651.2,451.4 651.2,413 651.2,374.5 651.2,336 651.2,297.6 651.2,259.1 651.2,220.6 651.2,182.2 651.2,143.7 651.2,105.2 651.2,66.8ZM855.1,293.1 853.1,297.6 854.4,336 855.1,337.8 855.6,336 856.5,297.6ZM900.4,327.8 898.9,336 898.1,374.5 900.4,380.5 923.1,410.6 929.9,374.5 929,336 923.1,316.8Z" fill="#002dff" fill-rule="evenodd"/>
<path d="M651.2,28.3 673.9,28.3 696.5,28.3 714.3,28.3 715.6,66.8 714.9,105.2 719.2,143.7 719.2,143.7 719.2,143.7 722.3,105.2 723,66.8 724,28.3 741.8,28.3 764.5,28.3 787.1,28.3 809.8,28.3 832.5,28.3 855.1,28.3 877.8,28.3 900.4,28.3 923.1,28.3 945.7,28.3 968.4,28.3 991,28.3 1013.7,28.3 1036.3,28.3 1059,28.3 1081.7,28.3 1104.3,28.3 1127,28.3 1127,66.8 1127,105.2 1127,143.7 1127,182.2 1127,220.6 1127,259.1 1127,297.6 1127,336 1127,374.5 1127,413 1127,451.4 1127,489.9 1127,528.4 1127,566.8 1127,605.3 1127,643.8 1127,682.2 1127,720.7 1127,759.2 1127,797.6 1127,836.1 1127,874.6 1127,913 1127,951.5 1127,990 1127,1028.4 1127,1066.9 1127,1105.4 1127,1143.8 1127,1182.3 1104.3,1182.3 1081.7,1182.3 1059,1182.3 1036.3,1182.3 1013.7,1182.3 991,1182.3 968.4,1182.3 945.7,1182.3 923.1,1182.3 900.4,1182.3 877.8,1182.3 855.1,1182.3 832.5,1182.3 809.8,1182.3 787.1,1182.3 764.5,1182.3 741.8,1182.3 719.2,1182.3 696.5,1182.3 673.9,1182.3 651.2,1182.3 651.2,1143.8 651.2,1105.4 651.2,1066.9 651.2,1028.4 651.2,990 651.2,951.5 651.2,913 651.2,874.6 651.2,836.1 651.2,797.6 651.2,759.2 651.2,720.7 651.2,682.2 651.2,643.8 651.2,605.3 651.2,566.8 651.2,528.4 651.2,489.9 651.2,451.4 651.2,413 651.2,374.5 651.2,336 651.2,297.6 651.2,259.1 651.2,220.6 651.2,182.2 651.2,143.7 651.2,105.2 651.2,66.8ZM855.1,263.5 839.8,297.6 839.2,336 855.1,372.8 865.9,336 865.5,297.6ZM900.4,288.5 894.8,297.6 889.1,336 888.6,374.5 900.4,404.6 906.5,413 920.7,451.4 923.1,456.2 925.3,451.4 930.8,413 938.9,374.5 939.8,336 929.1,297.6 923.1,281.8Z" fill="#005aff" fill-rule="evenodd"/>
<path d="M651.2,28.3 673.9,28.3 696.5,28.3 711.1,28.3 712,66.8 708.8,105.2 711.6,143.7 719.2,182.2 719.2,182.2 719.2,182.2 724.6,143.7 726.9,105.2 726.7,66.8 727.3,28.3 741.8,28.3 764.5,28.3 787.1,28.3 809.8,28.3 832.5,28.3 855.1,28.3 877.8,28.3 900.4,28.3 923.1,28.3 945.7,28.3 968.4,28.3 991,28.3 1013.7,28.3 1036.3,28.3 1059,28.3 1081.7,28.3 1104.3,28.3 1127,28.3 1127,66.8 1127,105.2 1127,143.7 1127,182.2 1127,220.6 1127,259.1 1127,297.6 1127,336 1127,374.5 1127,413 1127,451.4 1127,489.9 1127,528.4 1127,566.8 1127,605.3 1127,643.8 1127,682.2 1127,720.7 1127,759.2 1127,797.6 1127,836.1 1127,874.6 1127,913 1127,951.5 1127,990 1127,1028.4 1127,1066.9 1127,1105.4 1127,1143.8 1127,1182.3 1104.3,1182.3 1081.7,1182.3 1059,1182.3 1036.3,1182.3 1013.7,1182.3 991,1182.3 968.4,1182.3 945.7,1182.3 923.1,1182.3 900.4,1182.3 877.8,1182.3 855.1,1182.3 832.5,1182.3 809.8,1182.3 787.1,1182.3 764.5,1182.3 741.8,1182.3 719.2,1182.3 696.5,1182.3 673.9,1182.3 651.2,1182.3 651.2,1143.8 651.2,1105.4 651.2,1066.9 651.2,1028.4 651.2,990 651.2,951.5 651.2,913 651.2,874.6 651.2,836.1 651.2,797.6 651.2,759.2 651.2,720.7 651.2,682.2 651.2,643.8 651.2,605.3 651.2,566.8 651.2,528.4 651.2,489.9 651.2,451.4 651.2,413 651.2,374.5 651.2,336 651.2,297.6 651.2,259.1 651.2,220.6 651.2,182.2 651.2,143.7 651.2,105.2 651.2,66.8ZM673.9,105.2 673.9,105.2 669.3,143.7 673.9,162.9 678.4,143.7 673.9,105.2ZM787.1,219.2 784.3,220.6 787.1,230.2 787.5,220.6ZM832.5,251 830.7,259.1 829.5,297.6 828.9,336 829.5,374.5 831.5,413 832.5,424.5 855.1,449 870.6,413 874.7,374.5 876.2,336 874.6,297.6 867.1,259.1 855.1,240.8ZM923.1,244.1 913.2,259.1 900.4,268.2 882.2,297.6 879.2,336 879.2,374.5 885.7,413 900.4,427.1 911.1,451.4 923.1,475.5 934.2,451.4 938.9,413 945.7,383.2 968.4,380.3 974,374.5 968.4,366.3 955.9,336 945.7,311.3 942.4,297.6 928.6,259.1Z" fill="#0082ff" fill-rule="evenodd"/>
<path d="M651.2,28.3 673.9,28.3 696.5,28.3 707.8,28.3 708.4,66.8 702.6,105.2 704.1,143.7 707.8,182.2 719.2,197.6 730.5,182.2 730,143.7 731.4,105.2 730.5,66.8 730.5,28.3 741.8,28.3 764.5,28.3 787.1,28.3 809.8,28.3 832.5,28.3 855.1,28.3 877.8,28.3 900.4,28.3 923.1,28.3 945.7,28.3 968.4,28.3 991,28.3 1013.7,28.3 1036.3,28.3 1059,28.3 1081.7,28.3 1081.7,28.3 1081.7,28.3 1104.3,28.3 1127,28.3 1127,66.8 1127,105.2 1127,143.7 1127,182.2 1127,220.6 1127,255 1109.5,220.6 1104.3,217.1 1081.7,216.5 1081.1,220.6 1079.4,259.1 1079.4,297.6 1081.7,320.7 1098.3,336 1104.3,337.5 1106.7,336 1127,301.7 1127,336 1127,374.5 1127,413 1127,451.4 1127,489.9 1127,528.4 1127,566.8 1127,605.3 1127,643.8 1127,682.2 1127,720.7 1127,759.2 1127,797.6 1127,836.1 1127,874.6 1127,913 1127,951.5 1127,990 1127,1028.4 1127,1066.9 1127,1105.4 1127,1143.8 1127,1182.3 1104.3,1182.3 1081.7,1182.3 1059,1182.3 1036.3,1182.3 1013.7,1182.3 991,1182.3 968.4,1182.3 945.7,1182.3 923.1,1182.3 900.4,1182.3 877.8,1182.3 855.1,1182.3 832.5,1182.3 809.8,1182.3 787.1,1182.3 764.5,1182.3 741.8,1182.3 719.2,1182.3 696.5,1182.3 673.9,1182.3 651.2,1182.3 651.2,1143.8 651.2,1105.4 651.2,1066.9 651.2,1028.4 651.2,990 651.2,951.5 651.2,913 651.2,874.6 651.2,836.1 651.2,797.6 651.2,759.2 651.2,720.7 651.2,682.2 651.2,643.8 651.2,605.3 651.2,566.8 651.2,528.4 651.2,489.9 651.2,451.4 651.2,413 651.2,374.5 651.2,336 651.2,297.6 651.2,259.1 651.2,220.6 651.2,182.2 651.2,143.7 651.2,105.2 651.2,66.8ZM673.9,94.5 662.5,105.2 660.3,143.7 668.2,182.2 673.9,188.6 681.4,182.2 687.5,143.7 685.2,105.2ZM719.2,359.1 707.8,374.5 719.2,385.5 735.7,374.5ZM764.5,190 756.9,220.6 750.2,259.1 745.2,297.6 742.5,336 744.2,374.5 764.5,391.7 784.8,374.5 787.1,365.6 789.7,336 792,297.6 793.9,259.1 795.5,220.6 787.1,190.7ZM832.5,210.4 831.7,220.6 823.7,259.1 822.9,297.6 822.6,336 822.9,374.5 824.9,413 828.9,451.4 832.5,468.7 855.1,476.6 875.2,451.4 877.8,445.4 900.4,448.8 901.6,451.4 918.4,489.9 923.1,498.6 926.5,489.9 943.1,451.4 945.7,425.8 968.4,426.5 975.9,413 991,399.4 1013.7,392 1036.3,384.8 1036.9,374.5 1036.3,357.4 1028.8,336 1036.3,330.5 1040.1,297.6 1036.3,285.6 1019.8,297.6 1013.7,317.7 1001.8,297.6 991,284.7 968.4,279.2 945.7,262.6 944.5,259.1 927.4,220.6 923.1,206.8 908.6,220.6 900.4,232.8 877.8,241.6 858.9,220.6 855.1,218.8Z" fill="#00afff" fill-rule="evenodd"/>
<path d="M651.2,28.3 673.9,28.3 696.5,28.3 704.6,28.3 704.8,66.8 696.5,105.2 673.9,83.9 651.2,105.2 651.2,66.8ZM733.7,28.3 741.8,28.3 764.5,28.3 764.5,28.3 764.5,28.3 787.1,28.3 809.8,28.3 832.5,28.3 855.1,28.3 877.8,28.3 900.4,28.3 923.1,28.3 945.7,28.3 968.4,28.3 991,28.3 1013.7,28.3 1036.3,28.3 1059,28.3 1075.2,28.3 1081.7,45 1090.7,28.3 1104.3,28.3 1127,28.3 1127,66.8 1127,105.2 1127,143.7 1127,182.2 1127,211 1104.3,193.8 1093,182.2 1081.7,172.5 1078.4,182.2 1072.3,220.6 1070.6,259.1 1070.6,297.6 1073.2,336 1081.7,360.1 1104.3,362.2 1127,343.7 1127,374.5 1127,413 1127,451.4 1127,489.9 1127,528.4 1127,566.8 1127,605.3 1127,643.8 1127,682.2 1127,720.7 1127,759.2 1127,797.6 1127,836.1 1127,874.6 1127,913 1127,951.5 1127,990 1127,1028.4 1127,1066.9 1127,1105.4 1127,1143.8 1127,1182.3 1104.3,1182.3 1081.7,1182.3 1059,1182.3 1036.3,1182.3 1013.7,1182.3 991,1182.3 968.4,1182.3 945.7,1182.3 923.1,1182.3 900.4,1182.3 877.8,1182.3 855.1,1182.3 832.5,1182.3 809.8,1182.3 787.1,1182.3 764.5,1182.3 741.8,1182.3 719.2,1182.3 696.5,1182.3 673.9,1182.3 651.2,1182.3 651.2,1143.8 651.2,1105.4 651.2,1066.9 651.2,1028.4 651.2,990 651.2,951.5 651.2,913 651.2,874.6 651.2,836.1 651.2,797.6 651.2,759.2 651.2,720.7 651.2,682.2 651.2,643.8 651.2,605.3 651.2,566.8 651.2,528.4 651.2,489.9 651.2,451.4 651.2,413 651.2,374.5 651.2,358.5 659.9,374.5 673.9,393.7 696.5,396.5 708.9,413 719.2,432.2 730.5,413 741.8,399.5 758,413 764.5,432.2 787.1,419.4 790.2,413 798,374.5 799.7,336 800.9,297.6 801.8,259.1 803.4,220.6 800.4,182.2 787.1,159.7 764.5,166.4 741.8,182.2 735.4,143.7 735.9,105.2 734.3,66.8ZM832.5,121.3 816.6,143.7 818.3,182.2 819.5,220.6 816.8,259.1 816.4,297.6 816.2,336 816.4,374.5 818.3,413 823.4,451.4 831.2,489.9 832.5,493.9 855.1,500.6 877.8,493.1 900.4,491.4 920.6,528.4 923.1,534.1 925.1,528.4 940.2,489.9 945.7,475.9 968.4,473.3 991,465.4 1008.7,489.9 1013.7,495.6 1035.4,528.4 1036.3,529.4 1037.1,528.4 1043.9,489.9 1047.3,451.4 1049.5,413 1045.7,374.5 1045.4,336 1048.3,297.6 1036.3,259.1 1036.3,259.1 1036.3,259.1 1013.7,266.5 1008.7,259.1 991,244.9 968.4,243.3 945.7,239.6 937.1,220.6 926.3,182.2 923.1,179.3 918.5,182.2 900.4,202.1 877.8,204.8 855.1,188.3 850.7,182.2 839.7,143.7ZM1081.7,413 1081.7,413 1077.1,451.4 1081.7,456.9 1084.5,451.4 1081.7,413ZM1104.3,525.2 1102.9,528.4 1104.3,530.8 1105.6,528.4ZM651.2,182.2 651.2,143.7 656.9,182.2 673.9,201.4 696.5,182.2 719.2,212.9 741.8,182.2 745.3,220.6 741.8,235.1 735.5,259.1 730.3,297.6 719.2,318.1 701.6,336 696.5,343.7 690,336 673.9,308.6 667.4,297.6 651.2,287.9 651.2,259.1 651.2,220.6Z" fill="#00d7ff" fill-rule="evenodd"/>
<path d="M651.2,28.3 673.9,28.3 696.5,28.3 701.4,28.3 701.2,66.8 696.5,88.5 673.9,73.2 651.2,79.6 651.2,66.8ZM737,28.3 741.8,28.3 755.4,28.3 756.9,66.8 764.5,90.8 769.9,66.8 770.2,28.3 787.1,28.3 809.8,28.3 832.5,28.3 855.1,28.3 877.8,28.3 900.4,28.3 923.1,28.3 945.7,28.3 968.4,28.3 991,28.3 1013.7,28.3 1036.3,28.3 1059,28.3 1068.7,28.3 1081.7,61.7 1099.8,28.3 1104.3,28.3 1127,28.3 1127,66.8 1127,105.2 1127,143.7 1127,182.2 1127,191.8 1115.6,182.2 1104.3,167.4 1081.7,153.3 1071.9,182.2 1063.4,220.6 1061.7,259.1 1061.7,297.6 1063.1,336 1070.3,374.5 1059,395.9 1054.6,374.5 1055.1,336 1056.5,297.6 1053.8,259.1 1036.3,233.5 1013.7,233.5 991,224.7 968.4,224.4 953.3,220.6 945.7,207.8 942.5,182.2 923.1,165.1 900.4,178.1 877.8,182.2 855.1,158.5 850,143.7 838.1,105.2 832.5,97.5 823,105.2 809.8,124.5 787.1,130.9 771,143.7 764.5,147.5 741.8,150.1 740.8,143.7 740.5,105.2 738.1,66.8ZM651.2,220.6 651.2,192.9 673.9,214.2 696.5,199.7 712.5,220.6 719.2,244.7 723,259.1 719.2,282.2 715.4,297.6 696.5,318.9 683.9,297.6 673.9,273.9 651.2,268.7 651.2,259.1ZM1111.9,374.5 1127,359.1 1127,374.5 1127,413 1127,451.4 1127,489.9 1127,528.4 1127,566.8 1127,605.3 1127,643.8 1127,682.2 1127,720.7 1127,759.2 1127,797.6 1127,836.1 1127,874.6 1127,913 1127,951.5 1127,990 1127,1028.4 1127,1066.9 1127,1105.4 1127,1143.8 1127,1182.3 1104.3,1182.3 1081.7,1182.3 1059,1182.3 1036.3,1182.3 1013.7,1182.3 991,1182.3 968.4,1182.3 945.7,1182.3 923.1,1182.3 900.4,1182.3 877.8,1182.3 855.1,1182.3 832.5,1182.3 809.8,1182.3 787.1,1182.3 764.5,1182.3 741.8,1182.3 719.2,1182.3 696.5,1182.3 673.9,1182.3 651.2,1182.3 651.2,1143.8 651.2,1105.4 651.2,1066.9 651.2,1028.4 651.2,990 651.2,951.5 651.2,913 651.2,874.6 651.2,836.1 651.2,797.6 651.2,759.2 651.2,720.7 651.2,682.2 651.2,643.8 651.2,605.3 651.2,566.8 651.2,528.4 651.2,489.9 651.2,451.4 651.2,413 651.2,387.3 670.1,413 673.9,416 696.5,430.1 707.8,451.4 719.2,470.7 733.3,451.4 741.8,437 748,451.4 764.5,489.9 764.5,489.9 764.5,489.9 787.1,451.4 787.1,451.4 805.3,413 809.8,374.5 811.8,413 818,451.4 825.1,489.9 832.5,514.2 855.1,522 877.8,525.2 900.4,522.2 903.8,528.4 921.7,566.8 923.1,570.8 924.9,566.8 938.4,528.4 945.7,510 968.4,506.4 991,502.7 1013.7,524.1 1016.5,528.4 1036.3,550.8 1052.8,528.4 1059,489.9 1059,489.9 1081.7,484.4 1098.6,451.4 1099.1,413 1104.3,398.5ZM1104.3,493.1 1088.7,528.4 1104.3,554.8 1119,528.4Z" fill="#00faff" fill-rule="evenodd"/>
<path d="M651.2,28.3 660.7,28.3 651.2,47.5ZM687.1,28.3 696.5,28.3 698.1,28.3 697.6,66.8 696.5,71.8 686.8,66.8ZM740.2,28.3 741.8,28.3 746.4,28.3 741.8,66.8ZM775.8,28.3 787.1,28.3 809.8,28.3 832.5,28.3 855.1,28.3 877.8,28.3 900.4,28.3 923.1,28.3 945.7,28.3 968.4,28.3 991,28.3 1013.7,28.3 1030.7,28.3 1036.3,52.3 1047.7,28.3 1059,28.3 1062.2,28.3 1065.8,66.8 1081.7,105.2 1075.4,143.7 1065.5,182.2 1059,207.8 1036.3,205.8 1013.7,206.2 991,192.7 968.4,182.2 968.4,182.2 945.7,162.9 923.1,150.8 900.4,157.9 877.8,156.5 866.4,143.7 855.1,124.5 849.4,105.2 832.5,82.2 809.8,98 787.1,105.2 780.7,66.8ZM651.2,220.6 651.2,214.2 659.7,220.6 651.2,235.1ZM690,220.6 696.5,217.1 699.2,220.6 710.8,259.1 696.5,297.6 680.5,259.1ZM1110.2,413 1127,374.5 1127,413 1127,451.4 1127,478.9 1116.7,451.4ZM651.2,451.4 651.2,413 673.9,431.4 690.2,451.4 696.5,459.1 714.6,489.9 719.2,509.1 741.8,493.4 764.5,515.5 779.6,489.9 787.1,477.1 802.2,451.4 809.8,435.4 812.5,451.4 819,489.9 830.6,528.4 832.5,534.8 855.1,540.6 877.8,545.7 900.4,543.4 912.2,566.8 923.1,597.3 936.8,566.8 945.7,542.8 968.4,538.6 991,541.7 1013.7,562.8 1020.2,566.8 1036.3,573 1059,569.6 1063.1,566.8 1081.7,548.6 1092.4,566.8 1104.3,582.9 1121.7,566.8 1127,556.3 1127,566.8 1127,605.3 1127,643.8 1127,682.2 1127,720.7 1127,759.2 1127,797.6 1127,836.1 1127,874.6 1127,913 1127,951.5 1127,990 1127,1028.4 1127,1066.9 1127,1105.4 1127,1143.8 1127,1182.3 1104.3,1182.3 1081.7,1182.3 1059,1182.3 1036.3,1182.3 1013.7,1182.3 991,1182.3 968.4,1182.3 945.7,1182.3 926.5,1182.3 923.1,1143.8 923.1,1143.8 923.1,1143.8 916.8,1182.3 900.4,1182.3 877.8,1182.3 855.1,1182.3 832.5,1182.3 809.8,1182.3 787.1,1182.3 775.8,1182.3 764.5,1158.3 750.3,1182.3 741.8,1182.3 719.2,1182.3 696.5,1182.3 673.9,1182.3 651.2,1182.3 651.2,1143.8 651.2,1105.4 651.2,1066.9 651.2,1028.4 651.2,990 651.2,951.5 651.2,913 651.2,874.6 651.2,836.1 651.2,797.6 651.2,759.2 651.2,720.7 651.2,682.2 651.2,643.8 651.2,605.3 651.2,566.8 651.2,528.4 651.2,489.9Z" fill="#00ffde" fill-rule="evenodd"/>
<path d="M781.5,28.3 787.1,28.3 809.8,28.3 832.5,28.3 855.1,28.3 877.8,28.3 900.4,28.3 923.1,28.3 945.7,28.3 968.4,28.3 991,28.3 1013.7,28.3 1019.4,28.3 1025.8,66.8 1036.3,96.7 1059,82.6 1070.3,105.2 1062.8,143.7 1059,182.2 1036.3,166.8 1013.7,182.2 991,164.2 968.4,152.6 954.8,143.7 945.7,140.2 923.1,137.3 900.4,139.3 877.8,137.3 858.9,105.2 855.1,92.4 832.5,66.8 832.5,66.8 832.5,66.8 809.8,74 800.1,66.8 787.1,55.8ZM693.9,259.1 696.5,251.4 698.9,259.1 696.5,265.5ZM1118.6,413 1127,393.7 1127,413 1127,438.6ZM651.2,451.4 651.2,438.6 673.9,446.8 677.6,451.4 696.5,474.5 705.6,489.9 715.4,528.4 719.2,539.7 726.7,528.4 741.8,510.9 756.9,528.4 764.5,537.1 770.2,528.4 787.1,499.5 798.5,489.9 809.8,470.7 812.9,489.9 824.5,528.4 832.5,556.1 855.1,558.1 877.8,564.9 900.4,562.1 902.8,566.8 917.7,605.3 923.1,613.6 928.3,605.3 945.7,570.5 961.9,566.8 968.4,564.3 974.9,566.8 991,570.6 1013.7,586.6 1036.3,597.9 1059,597.1 1081.7,590.3 1093.9,605.3 1104.3,615.3 1127,609 1127,643.8 1127,682.2 1127,720.7 1127,759.2 1127,797.6 1127,836.1 1127,874.6 1127,913 1127,951.5 1127,990 1127,1028.4 1127,1066.9 1127,1105.4 1127,1143.8 1127,1182.3 1104.3,1182.3 1081.7,1182.3 1059,1182.3 1036.3,1182.3 1013.7,1182.3 991,1182.3 968.4,1182.3 945.7,1182.3 933.4,1182.3 929.5,1143.8 923.1,1129.6 914.4,1143.8 904.2,1182.3 900.4,1182.3 877.8,1182.3 877.8,1182.3 877.8,1182.3 855.1,1182.3 849.4,1182.3 838.1,1143.8 832.5,1109.6 829.5,1143.8 827.8,1182.3 809.8,1182.3 791.2,1182.3 787.1,1154.8 782.1,1143.8 764.5,1123.1 741.8,1142.1 719.2,1120.8 696.5,1138.3 673.9,1119.8 651.2,1139.3 651.2,1105.4 651.2,1066.9 651.2,1028.4 651.2,990 651.2,951.5 651.2,913 651.2,874.6 651.2,836.1 651.2,797.6 651.2,759.2 651.2,720.7 651.2,682.2 651.2,643.8 651.2,605.3 651.2,566.8 651.2,528.4 651.2,489.9Z" fill="#00ffa5" fill-rule="evenodd"/>
<path d="M832.5,28.3 855.1,28.3 877.8,28.3 900.4,28.3 923.1,28.3 945.7,28.3 968.4,28.3 968.4,66.8 968.4,105.2 945.7,122.7 923.1,124.5 900.4,124.5 877.8,124.5 866.4,105.2 855.1,66.8 855.1,66.8ZM968.4,28.3 991,28.3 1002.4,28.3 1012.4,66.8 1012.3,105.2 991,141.4 968.4,105.2 968.4,66.8ZM651.2,489.9 651.2,464.3 673.9,462.7 696.5,489.9 696.5,489.9 707.8,528.4 719.2,562.3 741.8,528.4 764.5,554.6 781.5,528.4 787.1,518.7 809.8,500 818.4,528.4 828.4,566.8 832.5,574.2 855.1,574 877.8,583.3 900.4,581.3 910,605.3 923.1,625.4 935.7,605.3 945.7,585.3 968.4,581.9 991,585.7 1011.3,605.3 1013.7,607.1 1036.3,617.5 1059,620.7 1081.7,628 1098.6,643.8 1104.3,646.1 1127,644.4 1127,682.2 1127,720.7 1127,759.2 1127,797.6 1127,836.1 1127,874.6 1127,913 1127,951.5 1127,990 1127,1028.4 1127,1066.9 1127,1105.4 1127,1143.8 1127,1182.3 1104.3,1182.3 1081.7,1182.3 1059,1182.3 1036.3,1182.3 1013.7,1182.3 991,1182.3 968.4,1182.3 945.7,1182.3 940.2,1182.3 936,1143.8 923.1,1115.3 905.6,1143.8 900.4,1161.6 883.4,1143.8 877.8,1138.7 866.4,1143.8 855.1,1151.5 852.3,1143.8 841.2,1105.4 832.5,1090.5 826.2,1105.4 822.2,1143.8 820,1182.3 809.8,1182.3 799.3,1182.3 794.4,1143.8 787.1,1124.6 772,1105.4 764.5,1096.3 758.4,1105.4 741.8,1124.6 727.2,1105.4 719.2,1093.8 696.5,1099 673.9,1093.1 660.7,1105.4 651.2,1116.7 651.2,1105.4 651.2,1066.9 651.2,1028.4 651.2,990 651.2,951.5 651.2,913 651.2,874.6 651.2,836.1 651.2,797.6 651.2,759.2 651.2,720.7 651.2,682.2 651.2,643.8 651.2,605.3 651.2,566.8 651.2,528.4Z" fill="#00fc6c" fill-rule="evenodd"/>
<path d="M840,28.3 855.1,28.3 877.8,28.3 900.4,28.3 923.1,28.3 945.7,28.3 953.3,28.3 955.8,66.8 945.7,105.2 945.7,105.2 923.1,111.6 900.4,109.7 877.8,111.6 874,105.2 862,66.8 855.1,53.9ZM975.2,66.8 991,35.2 1005.9,66.8 1005.5,105.2 991,129.7 975.7,105.2ZM651.2,489.9 673.9,478.7 683.2,489.9 696.5,515.5 700.3,528.4 710.1,566.8 719.2,605.3 719.2,605.3 719.2,605.3 729.8,566.8 741.8,548.6 758.8,566.8 764.5,574.5 768.7,566.8 787.1,539.1 799.7,528.4 809.8,520.3 812.2,528.4 820.3,566.8 832.5,589 855.1,588.2 877.8,601.6 900.4,600.5 902.3,605.3 923.1,637.3 943.1,605.3 945.7,600.1 968.4,598.6 991,600.8 995.7,605.3 1013.7,619.3 1036.3,635 1059,642.7 1060.9,643.8 1081.7,664.9 1104.3,661.8 1127,657.2 1127,682.2 1127,720.7 1127,759.2 1127,797.6 1127,836.1 1127,874.6 1127,913 1127,951.5 1127,990 1127,1028.4 1127,1066.9 1127,1105.4 1127,1143.8 1127,1182.3 1104.3,1182.3 1081.7,1182.3 1059,1182.3 1036.3,1182.3 1013.7,1182.3 991,1182.3 968.4,1182.3 952.2,1182.3 945.7,1171.3 942.5,1143.8 926.8,1105.4 923.1,1096.5 917.6,1105.4 900.4,1132.4 877.8,1113.1 855.1,1120.2 850.5,1105.4 832.5,1074.8 819.6,1105.4 814.9,1143.8 812.1,1182.3 809.8,1182.3 807.4,1182.3 803.5,1143.8 789.8,1105.4 787.1,1099 764.5,1073.7 743.3,1105.4 741.8,1107.1 740.5,1105.4 719.2,1074.6 696.5,1082.9 673.9,1075.6 651.2,1095.7 651.2,1066.9 651.2,1028.4 651.2,990 651.2,951.5 651.2,913 651.2,874.6 651.2,836.1 651.2,797.6 651.2,759.2 651.2,720.7 651.2,682.2 651.2,643.8 651.2,605.3 651.2,566.8 651.2,528.4 651.2,489.9Z" fill="#82fc34" fill-rule="evenodd"/>
<path d="M847.6,28.3 855.1,28.3 877.8,28.3 900.4,28.3 923.1,28.3 923.1,28.3 939.3,66.8 923.1,86 900.4,91.8 877.8,94.5 868.8,66.8 855.1,41.1ZM982.1,66.8 991,48.9 999.5,66.8 998.6,105.2 991,118.1 983,105.2ZM651.2,528.4 651.2,511.3 673.9,509.1 682.4,528.4 696.5,555.8 698.8,566.8 701.7,605.3 710.1,643.8 719.2,663 723,643.8 736.6,605.3 741.8,576.4 764.5,600.2 782.9,566.8 787.1,560.4 809.8,554 812.2,566.8 832.5,603.8 855.1,602.5 859.6,605.3 877.8,627.3 900.4,621.8 916,643.8 923.1,654.3 931.6,643.8 945.7,623.2 968.4,626.3 991,621.1 1013.7,631.6 1028.8,643.8 1036.3,657.5 1059,670.8 1068.5,682.2 1081.7,717.5 1096.3,682.2 1104.3,677.5 1127,670.1 1127,682.2 1127,720.7 1127,759.2 1127,797.6 1127,836.1 1127,874.6 1127,913 1127,951.5 1127,990 1127,1028.4 1127,1066.9 1127,1105.4 1127,1143.8 1127,1182.3 1104.3,1182.3 1081.7,1182.3 1059,1182.3 1036.3,1182.3 1013.7,1182.3 1013.7,1182.3 991,1182.3 968.4,1154.8 961.9,1143.8 945.7,1124.6 939.4,1105.4 923.1,1066.9 923.1,1066.9 923.1,1066.9 900.4,1103.7 877.8,1078.4 855.1,1084 845,1066.9 832.5,1042.9 826.5,1066.9 813.1,1105.4 809.8,1129.4 803.1,1105.4 787.1,1066.9 787.1,1066.9 764.5,1040 753.2,1066.9 741.8,1083.7 729.6,1066.9 719.2,1043.8 696.5,1066.9 673.9,1050.9 662.5,1066.9 651.2,1076.5 651.2,1066.9 651.2,1028.4 651.2,990 651.2,951.5 651.2,913 651.2,874.6 651.2,836.1 651.2,797.6 651.2,759.2 651.2,720.7 651.2,682.2 651.2,643.8 651.2,605.3 651.2,566.8ZM673.9,632.8 670.8,643.8 667.2,682.2 667.2,720.7 670.6,759.2 673.9,766.9 681.4,759.2 686.5,720.7 686.5,682.2 682.9,643.8ZM764.5,643.8 764.5,643.8 759.5,682.2 761.3,720.7 758.8,759.2 764.5,783.2 771.2,759.2 771.2,720.7 770.2,682.2 764.5,643.8ZM1036.3,990 1036.3,990 1024,1028.4 1036.3,1054.1 1048.7,1028.4 1036.3,990ZM1081.7,996.4 1070.3,1028.4 1071.9,1066.9 1080,1105.4 1081.7,1115 1087.3,1105.4 1104.3,1076.5 1108.8,1066.9 1110.8,1028.4 1104.3,1017.4Z" fill="#d4fa00" fill-rule="evenodd"/>
<path d="M855.1,28.3 877.8,28.3 900.4,28.3 910.5,28.3 908.9,66.8 900.4,72.5 877.8,73.2 875.7,66.8ZM989,66.8 991,62.6 993,66.8 991.7,105.2 991,106.4 990.3,105.2ZM651.2,566.8 651.2,539.4 662.5,566.8 661.3,605.3 655.7,643.8 653.9,682.2 653.9,720.7 654.4,759.2 667.4,797.6 673.9,816.9 685.2,797.6 696.5,788 707.8,797.6 719.2,813 730.5,797.6 729.2,759.2 719.2,720.7 734.3,682.2 741.8,643.8 746.9,682.2 755,720.7 747.5,759.2 746.9,797.6 751.9,836.1 764.5,874.6 750.9,913 753.2,951.5 756,990 750.1,1028.4 741.8,1050.4 732.8,1028.4 725.6,990 728.2,951.5 728.9,913 719.2,890 707.8,913 706.2,951.5 704.1,990 698.3,1028.4 696.5,1030.3 693.3,1028.4 673.9,1005.4 660.3,1028.4 651.2,1039.4 651.2,1028.4 651.2,990 651.2,951.5 651.2,913 651.2,874.6 651.2,836.1 651.2,797.6 651.2,759.2 651.2,720.7 651.2,682.2 651.2,643.8 651.2,605.3ZM794.7,605.3 809.8,596.8 813.9,605.3 832.5,639.9 843.8,643.8 855.1,656.6 877.8,655.6 900.4,643.8 923.1,677.6 945.7,652.1 968.4,664 991,643.8 1013.7,643.8 1034.2,682.2 1036.3,684.9 1059,715.2 1061.2,720.7 1081.7,755.5 1104.3,722.8 1106.4,720.7 1127,685.7 1127,720.7 1127,759.2 1127,797.6 1127,836.1 1127,874.6 1127,913 1127,951.5 1127,990 1104.3,957.9 1099.8,951.5 1081.7,925.9 1075.2,951.5 1061.3,990 1059,996.4 1056.9,990 1038.4,951.5 1036.3,945.1 1031.8,951.5 1013.7,973.5 991,982.3 970.9,951.5 968.4,948.5 966.9,951.5 957.1,990 955.4,1028.4 951,1066.9 945.7,1075.8 942.8,1066.9 936,1028.4 934.4,990 931.3,951.5 924.1,913 923.1,903.4 920.8,913 911.7,951.5 911.7,990 910.1,1028.4 902.5,1066.9 900.4,1070.2 897.6,1066.9 877.8,1031 855.1,1033.9 852.3,1028.4 835.7,990 832.5,984.5 832,990 826.4,1028.4 814.6,1066.9 809.8,1084 803.3,1066.9 791.9,1028.4 787.1,996.4 783.9,990 778.1,951.5 772.5,913 764.5,874.6 771.6,836.1 773.3,797.6 784.5,759.2 784.5,720.7 784.3,682.2 785.1,643.8 787.1,624.5ZM832.5,728.4 827.9,759.2 832.5,781.1 838.5,759.2ZM982.5,1066.9 991,1050.4 1013.7,1055.9 1018.7,1066.9 1022.2,1105.4 1013.7,1118.2 991,1115 984.6,1105.4ZM1050.5,1105.4 1059,1082.3 1063.9,1105.4 1060.5,1143.8 1059,1146.4 1056.9,1143.8Z" fill="#fcf300" fill-rule="evenodd"/>
<path d="M796.4,643.8 809.8,620 823.2,643.8 826.1,682.2 826.6,720.7 822.3,759.2 829.3,797.6 832.5,836.1 832.5,836.1 832.5,836.1 838.9,797.6 846,759.2 842.5,720.7 855.1,699.3 877.8,685 880.6,682.2 900.4,666.4 911,682.2 918.2,720.7 919,759.2 916.4,797.6 915.5,836.1 913.7,874.6 900.4,909.5 897.2,913 877.8,934 855.1,943.3 835.9,913 832.5,887.4 830.9,913 827.2,951.5 823.5,990 817.6,1028.4 809.8,1051.5 801.3,1028.4 795.3,990 791.8,951.5 787.1,918.5 785.8,913 785.1,874.6 785.7,836.1 785.9,797.6 787.1,793.4 793.2,759.2 793,720.7 794.1,682.2ZM977.3,682.2 991,664.6 1012.4,682.2 1013.7,683.3 1036.3,711.4 1042.7,720.7 1056.9,759.2 1059,763.7 1079,797.6 1077.6,836.1 1076.8,874.6 1074.4,913 1059,951.5 1041.5,913 1036.3,900.6 1029.3,913 1013.7,937.9 991,916 988.5,913 968.4,902 962.3,913 945.7,943.3 934.4,913 928.7,874.6 927.6,836.1 926.8,797.6 927.1,759.2 929.9,720.7 945.7,684.8 968.4,705.7ZM730,720.7 741.8,695.8 748.8,720.7 741.8,747.1ZM1106.4,759.2 1127,730.3 1127,759.2 1127,797.6 1127,836.1 1127,874.6 1127,893.8 1104.3,874.6 1104.3,874.6 1089.2,836.1 1085.4,797.6 1104.3,764.2ZM651.2,836.1 651.2,816.9 659.9,836.1 664.5,874.6 664.5,913 660.7,951.5 651.2,979 651.2,951.5 651.2,913 651.2,874.6ZM694,836.1 696.5,831.8 699.4,836.1 696.5,841.6Z" fill="#ffcc00" fill-rule="evenodd"/>
<path d="M806.7,643.8 809.8,638.3 812.9,643.8 817,682.2 819.3,720.7 816.6,759.2 821.5,797.6 824.6,836.1 825.2,874.6 823.4,913 819.6,951.5 814.9,990 809.8,1022.9 804.4,990 799.6,951.5 794.7,913 794.4,874.6 794.4,836.1 795.6,797.6 800.7,759.2 800.3,720.7 802.8,682.2ZM740.8,720.7 741.8,718.4 742.5,720.7 741.8,723.1ZM855.1,720.7 877.8,712.5 900.4,689.9 910.1,720.7 910.9,759.2 903.1,797.6 902.9,836.1 900.4,874.6 900.4,874.6 877.8,891.1 859.6,913 855.1,915.8 853.4,913 851,874.6 851.3,836.1 855.1,797.6 877.8,797.6 877.8,797.6 877.8,797.6 855.1,797.6 853.6,759.2 855.1,720.7ZM941.2,720.7 945.7,710.4 954.4,720.7 966.8,759.2 968.4,765.6 969.4,759.2 975.9,720.7 991,686.2 1013.7,704.1 1026.2,720.7 1036.3,735.9 1046.6,759.2 1059,786.3 1065.7,797.6 1069.5,836.1 1068.7,874.6 1065.3,913 1059,928.9 1051.8,913 1036.3,875.8 1015.1,913 1013.7,915.3 1011.5,913 991,894.3 968.4,874.6 968.4,874.6 968.4,874.6 947.2,913 945.7,915.8 944.7,913 936.8,874.6 935.2,836.1 934.4,797.6 935.2,759.2ZM1120.1,759.2 1127,749.5 1127,759.2 1127,797.6 1127,836.1 1127,855.3 1104.3,836.1 1104.3,797.6Z" fill="#ffbe00" fill-rule="evenodd"/>
<path d="M807.6,720.7 809.8,697.6 812,720.7 810.9,759.2 813.7,797.6 816.8,836.1 817.1,874.6 815.8,913 812.1,951.5 809.8,968 807.5,951.5 803.1,913 802.5,874.6 802.5,836.1 805.1,797.6 808.3,759.2ZM895.4,720.7 900.4,715.6 902,720.7 902.8,759.2 900.4,769.7 891.9,759.2ZM987.6,720.7 991,712.7 1004.6,720.7 1013.7,733.5 1036.3,759.2 1023.1,797.6 1022.4,836.1 1019.1,874.6 1013.7,884.2 991,874.6 991,874.6 980.7,836.1 979.7,797.6 980,759.2ZM943.3,759.2 945.7,746.3 950.6,759.2 957.1,797.6 954.8,836.1 947.8,874.6 945.7,878.4 944.9,874.6 942.7,836.1 942,797.6ZM1052.8,836.1 1059,821.7 1061.4,836.1 1060.6,874.6 1059,890 1055.1,874.6Z" fill="#ff9600" fill-rule="evenodd"/>
<path d="M990.5,759.2 991,756.6 992.8,759.2 991,762.7Z" fill="#ff6900" fill-rule="evenodd"/>
<path d="M717.6,28.3 719.2,66.8 719.2,66.8 719.2,66.8 720.8,28.3M855.1,293.1 853.1,297.6 854.4,336 855.1,337.8 855.6,336 856.5,297.6 855.1,293.1M900.4,327.8 898.9,336 898.1,374.5 900.4,380.5 923.1,410.6 929.9,374.5 929,336 923.1,316.8 900.4,327.8M714.3,28.3 715.6,66.8 714.9,105.2 719.2,143.7 719.2,143.7 719.2,143.7 722.3,105.2 723,66.8 724,28.3M855.1,263.5 839.8,297.6 839.2,336 855.1,372.8 865.9,336 865.5,297.6 855.1,263.5M900.4,288.5 894.8,297.6 889.1,336 888.6,374.5 900.4,404.6 906.5,413 920.7,451.4 923.1,456.2 925.3,451.4 930.8,413 938.9,374.5 939.8,336 929.1,297.6 923.1,281.8 900.4,288.5M711.1,28.3 712,66.8 708.8,105.2 711.6,143.7 719.2,182.2 719.2,182.2 719.2,182.2 724.6,143.7 726.9,105.2 726.7,66.8 727.3,28.3M673.9,105.2 673.9,105.2 669.3,143.7 673.9,162.9 678.4,143.7 673.9,105.2 673.9,105.2M787.1,219.2 784.3,220.6 787.1,230.2 787.5,220.6 787.1,219.2M832.5,251 830.7,259.1 829.5,297.6 828.9,336 829.5,374.5 831.5,413 832.5,424.5 855.1,449 870.6,413 874.7,374.5 876.2,336 874.6,297.6 867.1,259.1 855.1,240.8 832.5,251M923.1,244.1 913.2,259.1 900.4,268.2 882.2,297.6 879.2,336 879.2,374.5 885.7,413 900.4,427.1 911.1,451.4 923.1,475.5 934.2,451.4 938.9,413 945.7,383.2 968.4,380.3 974,374.5 968.4,366.3 955.9,336 945.7,311.3 942.4,297.6 928.6,259.1 923.1,244.1M707.8,28.3 708.4,66.8 702.6,105.2 704.1,143.7 707.8,182.2 719.2,197.6 730.5,182.2 730,143.7 731.4,105.2 730.5,66.8 730.5,28.3M1081.7,28.3 1081.7,28.3 1081.7,28.3M673.9,94.5 662.5,105.2 660.3,143.7 668.2,182.2 673.9,188.6 681.4,182.2 687.5,143.7 685.2,105.2 673.9,94.5M764.5,190 756.9,220.6 750.2,259.1 745.2,297.6 742.5,336 744.2,374.5 764.5,391.7 784.8,374.5 787.1,365.6 789.7,336 792,297.6 793.9,259.1 795.5,220.6 787.1,190.7 764.5,190M832.5,210.4 831.7,220.6 823.7,259.1 822.9,297.6 822.6,336 822.9,374.5 824.9,413 828.9,451.4 832.5,468.7 855.1,476.6 875.2,451.4 877.8,445.4 900.4,448.8 901.6,451.4 918.4,489.9 923.1,498.6 926.5,489.9 943.1,451.4 945.7,425.8 968.4,426.5 975.9,413 991,399.4 1013.7,392 1036.3,384.8 1036.9,374.5 1036.3,357.4 1028.8,336 1036.3,330.5 1040.1,297.6 1036.3,285.6 1019.8,297.6 1013.7,317.7 1001.8,297.6 991,284.7 968.4,279.2 945.7,262.6 944.5,259.1 927.4,220.6 923.1,206.8 908.6,220.6 900.4,232.8 877.8,241.6 858.9,220.6 855.1,218.8 832.5,210.4M1127,255 1109.5,220.6 1104.3,217.1 1081.7,216.5 1081.1,220.6 1079.4,259.1 1079.4,297.6 1081.7,320.7 1098.3,336 1104.3,337.5 1106.7,336 1127,301.7M719.2,359.1 707.8,374.5 719.2,385.5 735.7,374.5 719.2,359.1M704.6,28.3 704.8,66.8 696.5,105.2 673.9,83.9 651.2,105.2M764.5,28.3 764.5,28.3 764.5,28.3M1075.2,28.3 1081.7,45 1090.7,28.3M832.5,121.3 816.6,143.7 818.3,182.2 819.5,220.6 816.8,259.1 816.4,297.6 816.2,336 816.4,374.5 818.3,413 823.4,451.4 831.2,489.9 832.5,493.9 855.1,500.6 877.8,493.1 900.4,491.4 920.6,528.4 923.1,534.1 925.1,528.4 940.2,489.9 945.7,475.9 968.4,473.3 991,465.4 1008.7,489.9 1013.7,495.6 1035.4,528.4 1036.3,529.4 1037.1,528.4 1043.9,489.9 1047.3,451.4 1049.5,413 1045.7,374.5 1045.4,336 1048.3,297.6 1036.3,259.1 1036.3,259.1 1036.3,259.1 1013.7,266.5 1008.7,259.1 991,244.9 968.4,243.3 945.7,239.6 937.1,220.6 926.3,182.2 923.1,179.3 918.5,182.2 900.4,202.1 877.8,204.8 855.1,188.3 850.7,182.2 839.7,143.7 832.5,121.3M651.2,143.7 656.9,182.2 673.9,201.4 696.5,182.2 719.2,212.9 741.8,182.2 745.3,220.6 741.8,235.1 735.5,259.1 730.3,297.6 719.2,318.1 701.6,336 696.5,343.7 690,336 673.9,308.6 667.4,297.6 651.2,287.9M1127,211 1104.3,193.8 1093,182.2 1081.7,172.5 1078.4,182.2 1072.3,220.6 1070.6,259.1 1070.6,297.6 1073.2,336 1081.7,360.1 1104.3,362.2 1127,343.7M651.2,358.5 659.9,374.5 673.9,393.7 696.5,396.5 708.9,413 719.2,432.2 730.5,413 741.8,399.5 758,413 764.5,432.2 787.1,419.4 790.2,413 798,374.5 799.7,336 800.9,297.6 801.8,259.1 803.4,220.6 800.4,182.2 787.1,159.7 764.5,166.4 741.8,182.2 735.4,143.7 735.9,105.2 734.3,66.8 733.7,28.3M1081.7,413 1081.7,413 1077.1,451.4 1081.7,456.9 1084.5,451.4 1081.7,413 1081.7,413M1104.3,525.2 1102.9,528.4 1104.3,530.8 1105.6,528.4 1104.3,525.2M701.4,28.3 701.2,66.8 696.5,88.5 673.9,73.2 651.2,79.6M755.4,28.3 756.9,66.8 764.5,90.8 769.9,66.8 770.2,28.3M1068.7,28.3 1081.7,61.7 1099.8,28.3M651.2,192.9 673.9,214.2 696.5,199.7 712.5,220.6 719.2,244.7 723,259.1 719.2,282.2 715.4,297.6 696.5,318.9 683.9,297.6 673.9,273.9 651.2,268.7M1127,191.8 1115.6,182.2 1104.3,167.4 1081.7,153.3 1071.9,182.2 1063.4,220.6 1061.7,259.1 1061.7,297.6 1063.1,336 1070.3,374.5 1059,395.9 1054.6,374.5 1055.1,336 1056.5,297.6 1053.8,259.1 1036.3,233.5 1013.7,233.5 991,224.7 968.4,224.4 953.3,220.6 945.7,207.8 942.5,182.2 923.1,165.1 900.4,178.1 877.8,182.2 855.1,158.5 850,143.7 838.1,105.2 832.5,97.5 823,105.2 809.8,124.5 787.1,130.9 771,143.7 764.5,147.5 741.8,150.1 740.8,143.7 740.5,105.2 738.1,66.8 737,28.3M651.2,387.3 670.1,413 673.9,416 696.5,430.1 707.8,451.4 719.2,470.7 733.3,451.4 741.8,437 748,451.4 764.5,489.9 764.5,489.9 764.5,489.9 787.1,451.4 787.1,451.4 805.3,413 809.8,374.5 811.8,413 818,451.4 825.1,489.9 832.5,514.2 855.1,522 877.8,525.2 900.4,522.2 903.8,528.4 921.7,566.8 923.1,570.8 924.9,566.8 938.4,528.4 945.7,510 968.4,506.4 991,502.7 1013.7,524.1 1016.5,528.4 1036.3,550.8 1052.8,528.4 1059,489.9 1059,489.9 1081.7,484.4 1098.6,451.4 1099.1,413 1104.3,398.5 1111.9,374.5 1127,359.1M1104.3,493.1 1088.7,528.4 1104.3,554.8 1119,528.4 1104.3,493.1M660.7,28.3 651.2,47.5M698.1,28.3 697.6,66.8 696.5,71.8 686.8,66.8 687.1,28.3M746.4,28.3 741.8,66.8 740.2,28.3M1030.7,28.3 1036.3,52.3 1047.7,28.3M1062.2,28.3 1065.8,66.8 1081.7,105.2 1075.4,143.7 1065.5,182.2 1059,207.8 1036.3,205.8 1013.7,206.2 991,192.7 968.4,182.2 968.4,182.2 945.7,162.9 923.1,150.8 900.4,157.9 877.8,156.5 866.4,143.7 855.1,124.5 849.4,105.2 832.5,82.2 809.8,98 787.1,105.2 780.7,66.8 775.8,28.3M651.2,214.2 659.7,220.6 651.2,235.1M690,220.6 696.5,217.1 699.2,220.6 710.8,259.1 696.5,297.6 680.5,259.1 690,220.6M651.2,413 673.9,431.4 690.2,451.4 696.5,459.1 714.6,489.9 719.2,509.1 741.8,493.4 764.5,515.5 779.6,489.9 787.1,477.1 802.2,451.4 809.8,435.4 812.5,451.4 819,489.9 830.6,528.4 832.5,534.8 855.1,540.6 877.8,545.7 900.4,543.4 912.2,566.8 923.1,597.3 936.8,566.8 945.7,542.8 968.4,538.6 991,541.7 1013.7,562.8 1020.2,566.8 1036.3,573 1059,569.6 1063.1,566.8 1081.7,548.6 1092.4,566.8 1104.3,582.9 1121.7,566.8 1127,556.3M1127,478.9 1116.7,451.4 1110.2,413 1127,374.5M775.8,1182.3 764.5,1158.3 750.3,1182.3M926.5,1182.3 923.1,1143.8 923.1,1143.8 923.1,1143.8 916.8,1182.3M1019.4,28.3 1025.8,66.8 1036.3,96.7 1059,82.6 1070.3,105.2 1062.8,143.7 1059,182.2 1036.3,166.8 1013.7,182.2 991,164.2 968.4,152.6 954.8,143.7 945.7,140.2 923.1,137.3 900.4,139.3 877.8,137.3 858.9,105.2 855.1,92.4 832.5,66.8 832.5,66.8 832.5,66.8 809.8,74 800.1,66.8 787.1,55.8 781.5,28.3M693.9,259.1 696.5,251.4 698.9,259.1 696.5,265.5 693.9,259.1M651.2,438.6 673.9,446.8 677.6,451.4 696.5,474.5 705.6,489.9 715.4,528.4 719.2,539.7 726.7,528.4 741.8,510.9 756.9,528.4 764.5,537.1 770.2,528.4 787.1,499.5 798.5,489.9 809.8,470.7 812.9,489.9 824.5,528.4 832.5,556.1 855.1,558.1 877.8,564.9 900.4,562.1 902.8,566.8 917.7,605.3 923.1,613.6 928.3,605.3 945.7,570.5 961.9,566.8 968.4,564.3 974.9,566.8 991,570.6 1013.7,586.6 1036.3,597.9 1059,597.1 1081.7,590.3 1093.9,605.3 1104.3,615.3 1127,609M1127,438.6 1118.6,413 1127,393.7M791.2,1182.3 787.1,1154.8 782.1,1143.8 764.5,1123.1 741.8,1142.1 719.2,1120.8 696.5,1138.3 673.9,1119.8 651.2,1139.3M849.4,1182.3 838.1,1143.8 832.5,1109.6 829.5,1143.8 827.8,1182.3M877.8,1182.3 877.8,1182.3 877.8,1182.3M933.4,1182.3 929.5,1143.8 923.1,1129.6 914.4,1143.8 904.2,1182.3M968.4,28.3 968.4,66.8 968.4,105.2 945.7,122.7 923.1,124.5 900.4,124.5 877.8,124.5 866.4,105.2 855.1,66.8 855.1,66.8 832.5,28.3M1002.4,28.3 1012.4,66.8 1012.3,105.2 991,141.4 968.4,105.2 968.4,66.8 968.4,28.3M651.2,464.3 673.9,462.7 696.5,489.9 696.5,489.9 707.8,528.4 719.2,562.3 741.8,528.4 764.5,554.6 781.5,528.4 787.1,518.7 809.8,500 818.4,528.4 828.4,566.8 832.5,574.2 855.1,574 877.8,583.3 900.4,581.3 910,605.3 923.1,625.4 935.7,605.3 945.7,585.3 968.4,581.9 991,585.7 1011.3,605.3 1013.7,607.1 1036.3,617.5 1059,620.7 1081.7,628 1098.6,643.8 1104.3,646.1 1127,644.4M799.3,1182.3 794.4,1143.8 787.1,1124.6 772,1105.4 764.5,1096.3 758.4,1105.4 741.8,1124.6 727.2,1105.4 719.2,1093.8 696.5,1099 673.9,1093.1 660.7,1105.4 651.2,1116.7M940.2,1182.3 936,1143.8 923.1,1115.3 905.6,1143.8 900.4,1161.6 883.4,1143.8 877.8,1138.7 866.4,1143.8 855.1,1151.5 852.3,1143.8 841.2,1105.4 832.5,1090.5 826.2,1105.4 822.2,1143.8 820,1182.3M953.3,28.3 955.8,66.8 945.7,105.2 945.7,105.2 923.1,111.6 900.4,109.7 877.8,111.6 874,105.2 862,66.8 855.1,53.9 840,28.3M975.2,66.8 991,35.2 1005.9,66.8 1005.5,105.2 991,129.7 975.7,105.2 975.2,66.8M651.2,489.9 651.2,489.9 673.9,478.7 683.2,489.9 696.5,515.5 700.3,528.4 710.1,566.8 719.2,605.3 719.2,605.3 719.2,605.3 729.8,566.8 741.8,548.6 758.8,566.8 764.5,574.5 768.7,566.8 787.1,539.1 799.7,528.4 809.8,520.3 812.2,528.4 820.3,566.8 832.5,589 855.1,588.2 877.8,601.6 900.4,600.5 902.3,605.3 923.1,637.3 943.1,605.3 945.7,600.1 968.4,598.6 991,600.8 995.7,605.3 1013.7,619.3 1036.3,635 1059,642.7 1060.9,643.8 1081.7,664.9 1104.3,661.8 1127,657.2M807.4,1182.3 803.5,1143.8 789.8,1105.4 787.1,1099 764.5,1073.7 743.3,1105.4 741.8,1107.1 740.5,1105.4 719.2,1074.6 696.5,1082.9 673.9,1075.6 651.2,1095.7M952.2,1182.3 945.7,1171.3 942.5,1143.8 926.8,1105.4 923.1,1096.5 917.6,1105.4 900.4,1132.4 877.8,1113.1 855.1,1120.2 850.5,1105.4 832.5,1074.8 819.6,1105.4 814.9,1143.8 812.1,1182.3M923.1,28.3 923.1,28.3 939.3,66.8 923.1,86 900.4,91.8 877.8,94.5 868.8,66.8 855.1,41.1 847.6,28.3M982.1,66.8 991,48.9 999.5,66.8 998.6,105.2 991,118.1 983,105.2 982.1,66.8M651.2,511.3 673.9,509.1 682.4,528.4 696.5,555.8 698.8,566.8 701.7,605.3 710.1,643.8 719.2,663 723,643.8 736.6,605.3 741.8,576.4 764.5,600.2 782.9,566.8 787.1,560.4 809.8,554 812.2,566.8 832.5,603.8 855.1,602.5 859.6,605.3 877.8,627.3 900.4,621.8 916,643.8 923.1,654.3 931.6,643.8 945.7,623.2 968.4,626.3 991,621.1 1013.7,631.6 1028.8,643.8 1036.3,657.5 1059,670.8 1068.5,682.2 1081.7,717.5 1096.3,682.2 1104.3,677.5 1127,670.1M673.9,632.8 670.8,643.8 667.2,682.2 667.2,720.7 670.6,759.2 673.9,766.9 681.4,759.2 686.5,720.7 686.5,682.2 682.9,643.8 673.9,632.8M764.5,643.8 764.5,643.8 759.5,682.2 761.3,720.7 758.8,759.2 764.5,783.2 771.2,759.2 771.2,720.7 770.2,682.2 764.5,643.8 764.5,643.8M1036.3,990 1036.3,990 1024,1028.4 1036.3,1054.1 1048.7,1028.4 1036.3,990 1036.3,990M1081.7,996.4 1070.3,1028.4 1071.9,1066.9 1080,1105.4 1081.7,1115 1087.3,1105.4 1104.3,1076.5 1108.8,1066.9 1110.8,1028.4 1104.3,1017.4 1081.7,996.4M1013.7,1182.3 1013.7,1182.3 991,1182.3 968.4,1154.8 961.9,1143.8 945.7,1124.6 939.4,1105.4 923.1,1066.9 923.1,1066.9 923.1,1066.9 900.4,1103.7 877.8,1078.4 855.1,1084 845,1066.9 832.5,1042.9 826.5,1066.9 813.1,1105.4 809.8,1129.4 803.1,1105.4 787.1,1066.9 787.1,1066.9 764.5,1040 753.2,1066.9 741.8,1083.7 729.6,1066.9 719.2,1043.8 696.5,1066.9 673.9,1050.9 662.5,1066.9 651.2,1076.5M910.5,28.3 908.9,66.8 900.4,72.5 877.8,73.2 875.7,66.8 855.1,28.3M989,66.8 991,62.6 993,66.8 991.7,105.2 991,106.4 990.3,105.2 989,66.8M651.2,539.4 662.5,566.8 661.3,605.3 655.7,643.8 653.9,682.2 653.9,720.7 654.4,759.2 667.4,797.6 673.9,816.9 685.2,797.6 696.5,788 707.8,797.6 719.2,813 730.5,797.6 729.2,759.2 719.2,720.7 734.3,682.2 741.8,643.8 746.9,682.2 755,720.7 747.5,759.2 746.9,797.6 751.9,836.1 764.5,874.6 750.9,913 753.2,951.5 756,990 750.1,1028.4 741.8,1050.4 732.8,1028.4 725.6,990 728.2,951.5 728.9,913 719.2,890 707.8,913 706.2,951.5 704.1,990 698.3,1028.4 696.5,1030.3 693.3,1028.4 673.9,1005.4 660.3,1028.4 651.2,1039.4M832.5,728.4 827.9,759.2 832.5,781.1 838.5,759.2 832.5,728.4M1127,990 1104.3,957.9 1099.8,951.5 1081.7,925.9 1075.2,951.5 1061.3,990 1059,996.4 1056.9,990 1038.4,951.5 1036.3,945.1 1031.8,951.5 1013.7,973.5 991,982.3 970.9,951.5 968.4,948.5 966.9,951.5 957.1,990 955.4,1028.4 951,1066.9 945.7,1075.8 942.8,1066.9 936,1028.4 934.4,990 931.3,951.5 924.1,913 923.1,903.4 920.8,913 911.7,951.5 911.7,990 910.1,1028.4 902.5,1066.9 900.4,1070.2 897.6,1066.9 877.8,1031 855.1,1033.9 852.3,1028.4 835.7,990 832.5,984.5 832,990 826.4,1028.4 814.6,1066.9 809.8,1084 803.3,1066.9 791.9,1028.4 787.1,996.4 783.9,990 778.1,951.5 772.5,913 764.5,874.6 771.6,836.1 773.3,797.6 784.5,759.2 784.5,720.7 784.3,682.2 785.1,643.8 787.1,624.5 794.7,605.3 809.8,596.8 813.9,605.3 832.5,639.9 843.8,643.8 855.1,656.6 877.8,655.6 900.4,643.8 923.1,677.6 945.7,652.1 968.4,664 991,643.8 1013.7,643.8 1034.2,682.2 1036.3,684.9 1059,715.2 1061.2,720.7 1081.7,755.5 1104.3,722.8 1106.4,720.7 1127,685.7M982.5,1066.9 991,1050.4 1013.7,1055.9 1018.7,1066.9 1022.2,1105.4 1013.7,1118.2 991,1115 984.6,1105.4 982.5,1066.9M1050.5,1105.4 1059,1082.3 1063.9,1105.4 1060.5,1143.8 1059,1146.4 1056.9,1143.8 1050.5,1105.4M796.4,643.8 809.8,620 823.2,643.8 826.1,682.2 826.6,720.7 822.3,759.2 829.3,797.6 832.5,836.1 832.5,836.1 832.5,836.1 838.9,797.6 846,759.2 842.5,720.7 855.1,699.3 877.8,685 880.6,682.2 900.4,666.4 911,682.2 918.2,720.7 919,759.2 916.4,797.6 915.5,836.1 913.7,874.6 900.4,909.5 897.2,913 877.8,934 855.1,943.3 835.9,913 832.5,887.4 830.9,913 827.2,951.5 823.5,990 817.6,1028.4 809.8,1051.5 801.3,1028.4 795.3,990 791.8,951.5 787.1,918.5 785.8,913 785.1,874.6 785.7,836.1 785.9,797.6 787.1,793.4 793.2,759.2 793,720.7 794.1,682.2 796.4,643.8M977.3,682.2 991,664.6 1012.4,682.2 1013.7,683.3 1036.3,711.4 1042.7,720.7 1056.9,759.2 1059,763.7 1079,797.6 1077.6,836.1 1076.8,874.6 1074.4,913 1059,951.5 1041.5,913 1036.3,900.6 1029.3,913 1013.7,937.9 991,916 988.5,913 968.4,902 962.3,913 945.7,943.3 934.4,913 928.7,874.6 927.6,836.1 926.8,797.6 927.1,759.2 929.9,720.7 945.7,684.8 968.4,705.7 977.3,682.2M730,720.7 741.8,695.8 748.8,720.7 741.8,747.1 730,720.7M651.2,816.9 659.9,836.1 664.5,874.6 664.5,913 660.7,951.5 651.2,979M694,836.1 696.5,831.8 699.4,836.1 696.5,841.6 694,836.1M1127,893.8 1104.3,874.6 1104.3,874.6 1089.2,836.1 1085.4,797.6 1104.3,764.2 1106.4,759.2 1127,730.3M806.7,643.8 809.8,638.3 812.9,643.8 817,682.2 819.3,720.7 816.6,759.2 821.5,797.6 824.6,836.1 825.2,874.6 823.4,913 819.6,951.5 814.9,990 809.8,1022.9 804.4,990 799.6,951.5 794.7,913 794.4,874.6 794.4,836.1 795.6,797.6 800.7,759.2 800.3,720.7 802.8,682.2 806.7,643.8M740.8,720.7 741.8,718.4 742.5,720.7 741.8,723.1 740.8,720.7M855.1,720.7 877.8,712.5 900.4,689.9 910.1,720.7 910.9,759.2 903.1,797.6 902.9,836.1 900.4,874.6 900.4,874.6 877.8,891.1 859.6,913 855.1,915.8 853.4,913 851,874.6 851.3,836.1 855.1,797.6 877.8,797.6 877.8,797.6 877.8,797.6 855.1,797.6 853.6,759.2 855.1,720.7 855.1,720.7M941.2,720.7 945.7,710.4 954.4,720.7 966.8,759.2 968.4,765.6 969.4,759.2 975.9,720.7 991,686.2 1013.7,704.1 1026.2,720.7 1036.3,735.9 1046.6,759.2 1059,786.3 1065.7,797.6 1069.5,836.1 1068.7,874.6 1065.3,913 1059,928.9 1051.8,913 1036.3,875.8 1015.1,913 1013.7,915.3 1011.5,913 991,894.3 968.4,874.6 968.4,874.6 968.4,874.6 947.2,913 945.7,915.8 944.7,913 936.8,874.6 935.2,836.1 934.4,797.6 935.2,759.2 941.2,720.7M1127,855.3 1104.3,836.1 1104.3,797.6 1120.1,759.2 1127,749.5M807.6,720.7 809.8,697.6 812,720.7 810.9,759.2 813.7,797.6 816.8,836.1 817.1,874.6 815.8,913 812.1,951.5 809.8,968 807.5,951.5 803.1,913 802.5,874.6 802.5,836.1 805.1,797.6 808.3,759.2 807.6,720.7M895.4,720.7 900.4,715.6 902,720.7 902.8,759.2 900.4,769.7 891.9,759.2 895.4,720.7M987.6,720.7 991,712.7 1004.6,720.7 1013.7,733.5 1036.3,759.2 1023.1,797.6 1022.4,836.1 1019.1,874.6 1013.7,884.2 991,874.6 991,874.6 980.7,836.1 979.7,797.6 980,759.2 987.6,720.7M943.3,759.2 945.7,746.3 950.6,759.2 957.1,797.6 954.8,836.1 947.8,874.6 945.7,878.4 944.9,874.6 942.7,836.1 942,797.6 943.3,759.2M1052.8,836.1 1059,821.7 1061.4,836.1 1060.6,874.6 1059,890 1055.1,874.6 1052.8,836.1M990.5,759.2 991,756.6 992.8,759.2 991,762.7 990.5,759.2" fill="none" stroke="#000" stroke-opacity="1" stroke-width="3" stroke-linejoin="round"/>
<rect x="1172.3" y="28.3" width="543.7" height="1154" fill="#0082ff"/>
<path d="M1172.3,28.3 1190.8,28.3 1194.9,43.7 1199.1,28.3 1217.6,28.3 1240.2,28.3 1262.9,28.3 1285.6,28.3 1308.2,28.3 1324,28.3 1325.2,66.8 1330.9,76.4 1337.7,66.8 1339.9,28.3 1353.5,28.3 1376.2,28.3 1398.8,28.3 1421.5,28.3 1444.1,28.3 1466.8,28.3 1489.4,28.3 1512.1,28.3 1534.8,28.3 1557.4,28.3 1580.1,28.3 1602.7,28.3 1625.4,28.3 1648,28.3 1670.7,28.3 1693.3,28.3 1716,28.3 1716,66.8 1716,105.2 1716,143.7 1716,182.2 1716,220.6 1716,259.1 1716,297.6 1716,336 1716,374.5 1716,413 1716,451.4 1716,489.9 1716,528.4 1716,566.8 1716,605.3 1716,643.8 1716,682.2 1716,720.7 1716,759.2 1716,797.6 1716,836.1 1716,874.6 1716,913 1716,951.5 1716,990 1716,1028.4 1716,1066.9 1716,1105.4 1716,1143.8 1716,1182.3 1693.3,1182.3 1670.7,1182.3 1648,1182.3 1625.4,1182.3 1602.7,1182.3 1580.1,1182.3 1557.4,1182.3 1534.8,1182.3 1512.1,1182.3 1489.4,1182.3 1466.8,1182.3 1444.1,1182.3 1421.5,1182.3 1398.8,1182.3 1376.2,1182.3 1353.5,1182.3 1330.9,1182.3 1308.2,1182.3 1285.6,1182.3 1262.9,1182.3 1240.2,1182.3 1217.6,1182.3 1194.9,1182.3 1172.3,1182.3 1172.3,1143.8 1172.3,1105.4 1172.3,1066.9 1172.3,1028.4 1172.3,990 1172.3,951.5 1172.3,913 1172.3,874.6 1172.3,836.1 1172.3,797.6 1172.3,759.2 1172.3,720.7 1172.3,682.2 1172.3,643.8 1172.3,605.3 1172.3,566.8 1172.3,528.4 1172.3,489.9 1172.3,451.4 1172.3,413 1172.3,374.5 1172.3,336 1172.3,297.6 1172.3,259.1 1172.3,220.6 1172.3,182.2 1172.3,143.7 1172.3,105.2 1172.3,66.8ZM1534.8,443.7 1526,451.4 1534.8,464.3 1537,451.4Z" fill="#00afff" fill-rule="evenodd"/>
<path d="M1172.3,28.3 1186.7,28.3 1194.9,59.1 1203.2,28.3 1217.6,28.3 1240.2,28.3 1262.9,28.3 1285.6,28.3 1308.2,28.3 1317.1,28.3 1319.5,66.8 1330.9,86 1344.6,66.8 1349,28.3 1353.5,28.3 1376.2,28.3 1398.8,28.3 1421.5,28.3 1444.1,28.3 1466.8,28.3 1489.4,28.3 1512.1,28.3 1534.8,28.3 1557.4,28.3 1580.1,28.3 1602.7,28.3 1625.4,28.3 1648,28.3 1670.7,28.3 1693.3,28.3 1716,28.3 1716,66.8 1716,105.2 1716,143.7 1716,182.2 1716,220.6 1716,259.1 1716,297.6 1716,336 1716,374.5 1716,413 1716,451.4 1716,489.9 1716,528.4 1716,566.8 1716,605.3 1716,643.8 1716,682.2 1716,720.7 1716,759.2 1716,797.6 1716,836.1 1716,874.6 1716,913 1716,951.5 1716,990 1716,1028.4 1716,1066.9 1716,1105.4 1716,1143.8 1716,1182.3 1693.3,1182.3 1670.7,1182.3 1648,1182.3 1625.4,1182.3 1602.7,1182.3 1580.1,1182.3 1557.4,1182.3 1534.8,1182.3 1512.1,1182.3 1489.4,1182.3 1466.8,1182.3 1444.1,1182.3 1421.5,1182.3 1398.8,1182.3 1376.2,1182.3 1353.5,1182.3 1330.9,1182.3 1308.2,1182.3 1285.6,1182.3 1262.9,1182.3 1240.2,1182.3 1217.6,1182.3 1194.9,1182.3 1172.3,1182.3 1172.3,1143.8 1172.3,1105.4 1172.3,1066.9 1172.3,1028.4 1172.3,990 1172.3,951.5 1172.3,913 1172.3,874.6 1172.3,836.1 1172.3,797.6 1172.3,759.2 1172.3,720.7 1172.3,682.2 1172.3,643.8 1172.3,605.3 1172.3,566.8 1172.3,528.4 1172.3,489.9 1172.3,451.4 1172.3,413 1172.3,374.5 1172.3,336 1172.3,297.6 1172.3,259.1 1172.3,220.6 1172.3,182.2 1172.3,143.7 1172.3,105.2 1172.3,66.8ZM1512.1,445.9 1509.1,451.4 1512.1,459.1 1534.8,489.9 1534.8,489.9 1534.8,489.9 1541.6,451.4 1534.8,428.4Z" fill="#00d7ff" fill-rule="evenodd"/>
<path d="M1172.3,28.3 1182.6,28.3 1191.2,66.8 1194.9,86 1197.9,66.8 1207.3,28.3 1217.6,28.3 1240.2,28.3 1262.9,28.3 1285.6,28.3 1308.2,28.3 1310.3,28.3 1313.9,66.8 1330.9,95.6 1351.5,66.8 1353.5,52.3 1376.2,28.3 1376.2,28.3 1398.8,28.3 1421.5,28.3 1444.1,28.3 1466.8,28.3 1489.4,28.3 1512.1,28.3 1534.8,28.3 1557.4,28.3 1580.1,28.3 1602.7,28.3 1625.4,28.3 1648,28.3 1670.7,28.3 1693.3,28.3 1716,28.3 1716,66.8 1716,105.2 1716,143.7 1716,182.2 1716,220.6 1716,259.1 1716,297.6 1716,336 1716,374.5 1716,413 1716,451.4 1716,489.9 1716,528.4 1716,566.8 1716,605.3 1716,643.8 1716,682.2 1716,720.7 1716,759.2 1716,797.6 1716,836.1 1716,874.6 1716,913 1716,951.5 1716,990 1716,1028.4 1716,1066.9 1716,1105.4 1716,1143.8 1716,1182.3 1693.3,1182.3 1670.7,1182.3 1648,1182.3 1625.4,1182.3 1602.7,1182.3 1580.1,1182.3 1557.4,1182.3 1534.8,1182.3 1512.1,1182.3 1489.4,1182.3 1466.8,1182.3 1444.1,1182.3 1421.5,1182.3 1398.8,1182.3 1376.2,1182.3 1353.5,1182.3 1330.9,1182.3 1308.2,1182.3 1285.6,1182.3 1262.9,1182.3 1240.2,1182.3 1217.6,1182.3 1194.9,1182.3 1172.3,1182.3 1172.3,1143.8 1172.3,1105.4 1172.3,1066.9 1172.3,1028.4 1172.3,990 1172.3,951.5 1172.3,913 1172.3,874.6 1172.3,836.1 1172.3,797.6 1172.3,759.2 1172.3,720.7 1172.3,682.2 1172.3,643.8 1172.3,605.3 1172.3,566.8 1172.3,528.4 1172.3,489.9 1172.3,451.4 1172.3,413 1172.3,374.5 1172.3,336 1172.3,297.6 1172.3,259.1 1172.3,220.6 1172.3,182.2 1172.3,143.7 1172.3,105.2 1172.3,66.8ZM1421.5,371.5 1419,374.5 1421.5,380 1423,374.5ZM1534.8,413 1534.8,413 1512.1,418.5 1494,451.4 1500.8,489.9 1512.1,500.9 1534.8,513.9 1541.6,489.9 1546.1,451.4 1534.8,413Z" fill="#00faff" fill-rule="evenodd"/>
<path d="M1172.3,28.3 1178.5,28.3 1183.6,66.8 1190,105.2 1194.9,112.4 1198.7,105.2 1203.9,66.8 1211.4,28.3 1217.6,28.3 1240.2,28.3 1262.9,28.3 1285.6,28.3 1292.4,28.3 1308.2,66.8 1308.2,66.8 1330.9,105.2 1330.9,105.2 1330.9,105.2 1353.5,96.7 1360,105.2 1376.2,129.3 1381.8,105.2 1390.1,66.8 1398.8,28.3 1398.8,28.3 1421.5,28.3 1444.1,28.3 1466.8,28.3 1489.4,28.3 1512.1,28.3 1534.8,28.3 1557.4,28.3 1580.1,28.3 1602.7,28.3 1625.4,28.3 1648,28.3 1670.7,28.3 1693.3,28.3 1716,28.3 1716,66.8 1716,105.2 1716,143.7 1716,182.2 1716,220.6 1716,259.1 1716,297.6 1716,336 1716,374.5 1716,413 1716,451.4 1716,489.9 1716,528.4 1716,566.8 1716,605.3 1716,643.8 1716,682.2 1716,720.7 1716,759.2 1716,797.6 1716,836.1 1716,874.6 1716,913 1716,951.5 1716,990 1716,1028.4 1716,1066.9 1716,1105.4 1716,1143.8 1716,1182.3 1693.3,1182.3 1670.7,1182.3 1648,1182.3 1625.4,1182.3 1602.7,1182.3 1580.1,1182.3 1557.4,1182.3 1534.8,1182.3 1512.1,1182.3 1489.4,1182.3 1466.8,1182.3 1444.1,1182.3 1421.5,1182.3 1398.8,1182.3 1376.2,1182.3 1353.5,1182.3 1330.9,1182.3 1308.2,1182.3 1285.6,1182.3 1262.9,1182.3 1240.2,1182.3 1217.6,1182.3 1194.9,1182.3 1172.3,1182.3 1172.3,1143.8 1172.3,1105.4 1172.3,1066.9 1172.3,1028.4 1172.3,990 1172.3,951.5 1172.3,913 1172.3,874.6 1172.3,836.1 1172.3,797.6 1172.3,759.2 1172.3,720.7 1172.3,682.2 1172.3,643.8 1172.3,605.3 1172.3,566.8 1172.3,528.4 1172.3,489.9 1172.3,451.4 1172.3,413 1172.3,374.5 1172.3,336 1172.3,297.6 1172.3,259.1 1172.3,220.6 1172.3,182.2 1172.3,143.7 1172.3,105.2 1172.3,66.8ZM1376.2,220.6 1376.2,220.6 1376.2,220.6 1376.2,220.6ZM1398.8,331.8 1391.3,336 1383.7,374.5 1387.5,413 1398.8,416.2 1421.5,438.6 1436.6,413 1438.1,374.5 1421.5,342 1406.4,336ZM1421.5,182.2 1421.5,182.2 1421.5,182.2 1421.5,182.2ZM1466.8,413 1466.8,413 1457.7,451.4 1453.6,489.9 1459.8,528.4 1466.8,566.8 1466.8,566.8 1466.8,566.8 1489.4,562 1512.1,547.6 1534.8,554 1540.1,528.4 1548.5,489.9 1550.6,451.4 1542.3,413 1534.8,402 1512.1,404.9 1489.4,410.1ZM1376.2,420.7 1366.1,451.4 1376.2,473.4 1382.2,451.4Z" fill="#00ffde" fill-rule="evenodd"/>
<path d="M1172.3,28.3 1174.3,28.3 1176.1,66.8 1180.2,105.2 1194.9,126.6 1206.3,105.2 1209.8,66.8 1215.5,28.3 1217.6,28.3 1233.8,28.3 1240.2,39.3 1256.4,66.8 1262.9,105.2 1258.4,143.7 1240.2,162.9 1228.9,182.2 1240.2,205.8 1262.9,196.8 1272,182.2 1266.1,143.7 1262.9,105.2 1285.6,90.8 1308.2,98.8 1312,105.2 1330.9,118.1 1353.5,124.5 1365.6,143.7 1370.3,182.2 1369.1,220.6 1376.2,250.2 1382.6,220.6 1379.5,182.2 1381.5,143.7 1393.2,105.2 1398.8,86 1401.5,66.8 1403.4,28.3 1421.5,28.3 1444.1,28.3 1466.8,28.3 1489.4,28.3 1512.1,28.3 1534.8,28.3 1557.4,28.3 1580.1,28.3 1602.7,28.3 1625.4,28.3 1648,28.3 1670.7,28.3 1693.3,28.3 1716,28.3 1716,66.8 1716,105.2 1716,143.7 1716,182.2 1716,220.6 1716,259.1 1716,297.6 1716,336 1716,374.5 1716,413 1716,451.4 1716,489.9 1716,528.4 1716,566.8 1716,605.3 1716,643.8 1716,682.2 1716,720.7 1716,759.2 1716,797.6 1716,836.1 1716,874.6 1716,913 1716,951.5 1716,990 1716,1028.4 1716,1066.9 1716,1105.4 1716,1143.8 1716,1182.3 1693.3,1182.3 1670.7,1182.3 1648,1182.3 1625.4,1182.3 1602.7,1182.3 1580.1,1182.3 1557.4,1182.3 1534.8,1182.3 1512.1,1182.3 1489.4,1182.3 1466.8,1182.3 1444.1,1182.3 1421.5,1182.3 1398.8,1182.3 1376.2,1182.3 1353.5,1182.3 1330.9,1182.3 1308.2,1182.3 1285.6,1182.3 1262.9,1182.3 1240.2,1182.3 1217.6,1182.3 1194.9,1182.3 1172.3,1182.3 1172.3,1143.8 1172.3,1105.4 1172.3,1066.9 1172.3,1028.4 1172.3,990 1172.3,951.5 1172.3,913 1172.3,874.6 1172.3,836.1 1172.3,797.6 1172.3,759.2 1172.3,720.7 1172.3,682.2 1172.3,643.8 1172.3,605.3 1172.3,566.8 1172.3,528.4 1172.3,489.9 1172.3,451.4 1172.3,422.6 1194.9,437 1199,413 1194.9,374.5 1194.9,374.5 1194.9,374.5 1172.3,393.7 1172.3,374.5 1172.3,336 1172.3,297.6 1172.3,259.1 1172.3,220.6 1172.3,182.2 1172.3,143.7 1172.3,105.2 1172.3,66.8ZM1398.8,291.2 1392.4,297.6 1376.2,312.4 1359.7,336 1353.5,374.5 1353.5,374.5 1350.9,413 1347.9,451.4 1349.7,489.9 1353.5,509.1 1376.2,519.8 1387.5,489.9 1397.3,451.4 1398.8,448.2 1401.3,451.4 1421.5,489.9 1421.5,489.9 1443.2,528.4 1444.1,530.5 1458.4,566.8 1466.8,580.6 1489.4,584.1 1512.1,574.8 1534.8,597.6 1551.2,566.8 1553.4,528.4 1555.4,489.9 1555.1,451.4 1549.9,413 1534.8,391 1512.1,394.7 1489.4,395.9 1466.8,387.3 1456.5,374.5 1447.9,336 1444.1,323.2 1421.5,297.6 1421.5,297.6ZM1421.5,169.3 1417,182.2 1421.5,197.6 1428.3,182.2ZM1625.4,467.5 1609.5,489.9 1614.1,528.4 1625.4,547.6 1628.1,528.4 1630.8,489.9ZM1194.9,720.7 1194.9,720.7 1194.9,759.2 1194.9,759.2 1194.9,759.2 1194.9,720.7Z" fill="#00ffa5" fill-rule="evenodd"/>
<path d="M1215.8,66.8 1217.6,52.3 1226.1,66.8 1240.2,94.2 1244,105.2 1240.2,124.5 1237.2,143.7 1217.6,177 1215.3,182.2 1217.6,187.7 1233.6,220.6 1240.2,248.1 1254.4,220.6 1262.9,215.1 1285.6,220.6 1285.6,259.1 1285.6,297.6 1285.6,336 1282.7,374.5 1262.9,413 1262.9,413 1260.1,451.4 1262.9,459.1 1281,489.9 1285.6,495 1288.6,489.9 1294.9,451.4 1291.8,413 1288.6,374.5 1285.6,336 1285.6,297.6 1285.6,259.1 1285.6,220.6 1285.6,220.6 1283.3,182.2 1282.3,143.7 1285.6,135.2 1308.2,128.9 1330.9,130.9 1349.7,143.7 1353.5,150.1 1361.9,182.2 1362,220.6 1365.6,259.1 1353.5,297.6 1353.5,297.6 1345.6,336 1343.7,374.5 1342.2,413 1336.5,451.4 1337.2,489.9 1342.9,528.4 1353.5,544.2 1374.1,566.8 1376.2,569.1 1377.5,566.8 1386.2,528.4 1398.8,498.8 1421.5,507.4 1433.3,528.4 1444.1,551.9 1450,566.8 1466.8,594.3 1489.4,603.4 1512.1,590.9 1524.1,605.3 1534.8,622.4 1557.4,616 1573.8,643.8 1580.1,648.3 1587.6,643.8 1602.7,619.7 1625.4,609.8 1628.4,605.3 1633.7,566.8 1637.2,528.4 1638.7,489.9 1631.7,451.4 1625.4,445 1602.7,449 1580.1,449 1557.4,413 1557.4,413 1534.8,380 1512.1,384.6 1489.4,381.6 1478.1,374.5 1466.8,361.7 1457.4,336 1445.8,297.6 1444.1,282.2 1421.5,259.1 1421.5,259.1 1398.8,259.1 1389.1,220.6 1384.2,182.2 1389,143.7 1398.8,115.9 1404.5,105.2 1406.7,66.8 1407.9,28.3 1421.5,28.3 1444.1,28.3 1466.8,28.3 1489.4,28.3 1512.1,28.3 1534.8,28.3 1557.4,28.3 1580.1,28.3 1602.7,28.3 1625.4,28.3 1648,28.3 1670.7,28.3 1693.3,28.3 1716,28.3 1716,66.8 1716,105.2 1716,143.7 1716,182.2 1716,220.6 1716,259.1 1716,297.6 1716,336 1716,374.5 1716,413 1716,451.4 1716,489.9 1716,528.4 1716,566.8 1716,605.3 1716,643.8 1716,682.2 1716,720.7 1716,759.2 1716,797.6 1716,836.1 1716,874.6 1716,913 1716,951.5 1716,990 1716,1028.4 1716,1066.9 1716,1105.4 1716,1143.8 1716,1182.3 1693.3,1182.3 1670.7,1182.3 1648,1182.3 1625.4,1182.3 1602.7,1182.3 1580.1,1182.3 1557.4,1182.3 1534.8,1182.3 1512.1,1182.3 1489.4,1182.3 1466.8,1182.3 1444.1,1182.3 1421.5,1182.3 1398.8,1182.3 1376.2,1182.3 1353.5,1182.3 1330.9,1182.3 1308.2,1182.3 1285.6,1182.3 1262.9,1182.3 1240.2,1182.3 1217.6,1182.3 1200.8,1182.3 1200.6,1143.8 1200,1105.4 1196.7,1066.9 1194.9,1061.4 1191.9,1066.9 1187,1105.4 1186.3,1143.8 1187,1182.3 1172.3,1182.3 1172.3,1143.8 1172.3,1105.4 1172.3,1066.9 1172.3,1028.4 1172.3,990 1172.3,951.5 1172.3,913 1172.3,874.6 1172.3,836.1 1172.3,797.6 1172.3,770.2 1194.9,784.8 1204.8,759.2 1204.4,720.7 1194.9,688.6 1172.3,682.2 1172.3,682.2 1172.3,643.8 1172.3,605.3 1172.3,566.8 1172.3,528.4 1172.3,489.9 1172.3,451.4 1172.3,441.8 1181.7,451.4 1194.9,478.4 1202.5,451.4 1207.1,413 1203,374.5 1194.9,336 1194.9,336 1194.9,336 1172.3,368.1 1172.3,336 1172.3,297.6 1172.3,259.1 1172.3,220.6 1172.3,182.2 1172.3,143.7 1172.3,116.2 1194.9,140.9 1213.8,105.2ZM1285.6,797.6 1285.6,797.6 1285.6,797.6 1285.6,797.6ZM1421.5,156.5 1412.6,182.2 1421.5,212.9 1435.2,182.2Z" fill="#00fc6c" fill-rule="evenodd"/>
<path d="M1412.4,28.3 1421.5,28.3 1444.1,28.3 1466.8,28.3 1489.4,28.3 1512.1,28.3 1534.8,28.3 1557.4,28.3 1580.1,28.3 1602.7,28.3 1625.4,28.3 1648,28.3 1670.7,28.3 1693.3,28.3 1716,28.3 1716,66.8 1716,105.2 1716,143.7 1716,182.2 1716,220.6 1716,259.1 1716,297.6 1716,336 1716,374.5 1716,413 1716,451.4 1716,489.9 1716,528.4 1716,566.8 1716,605.3 1716,643.8 1716,682.2 1716,720.7 1716,759.2 1716,797.6 1716,836.1 1716,874.6 1716,913 1716,951.5 1716,990 1716,1028.4 1716,1066.9 1716,1105.4 1716,1143.8 1716,1182.3 1693.3,1182.3 1670.7,1182.3 1648,1182.3 1625.4,1182.3 1602.7,1182.3 1580.1,1182.3 1557.4,1182.3 1534.8,1182.3 1512.1,1182.3 1489.4,1182.3 1466.8,1182.3 1444.1,1182.3 1421.5,1182.3 1398.8,1182.3 1376.2,1182.3 1353.5,1182.3 1330.9,1182.3 1308.2,1182.3 1285.6,1182.3 1262.9,1182.3 1240.2,1182.3 1217.6,1182.3 1209.2,1182.3 1207.7,1143.8 1207.4,1105.4 1205.4,1066.9 1194.9,1033.9 1176.8,1066.9 1175.7,1105.4 1175.5,1143.8 1175.7,1182.3 1172.3,1182.3 1172.3,1143.8 1172.3,1105.4 1172.3,1066.9 1172.3,1028.4 1172.3,990 1172.3,951.5 1172.3,913 1172.3,874.6 1172.3,836.1 1172.3,804 1194.9,809.7 1201.6,797.6 1214.6,759.2 1213.8,720.7 1205,682.2 1194.9,651.5 1188.5,643.8 1172.3,619.7 1172.3,605.3 1172.3,566.8 1172.3,528.4 1172.3,489.9 1172.3,478.9 1177.3,489.9 1194.9,528.4 1194.9,528.4 1194.9,528.4 1203.7,489.9 1213.3,451.4 1215.2,413 1211.1,374.5 1202.2,336 1194.9,319.3 1185.9,336 1172.3,355.3 1172.3,336 1172.3,297.6 1172.3,259.1 1172.3,220.6 1172.3,182.2 1172.3,153.3 1194.9,162.9 1204,182.2 1217.6,215.1 1220.3,220.6 1228.9,259.1 1240.2,289.9 1256.7,259.1 1262.9,247.6 1268.1,259.1 1269.4,297.6 1269.4,336 1268.6,374.5 1262.9,385.5 1245.5,413 1245.9,451.4 1258.4,489.9 1262.9,500.9 1285.6,520.7 1303.7,489.9 1308.2,451.4 1316.7,489.9 1323.3,528.4 1330.9,543.8 1353.5,566.8 1353.5,566.8 1376.2,591.7 1390.8,566.8 1398.8,528.4 1398.8,528.4 1421.5,524.9 1423.5,528.4 1438.5,566.8 1444.1,576.4 1462.7,605.3 1466.8,610.1 1489.4,621 1512.1,607.1 1534.8,643.8 1534.8,643.8 1534.8,643.8 1557.4,637.4 1561.2,643.8 1580.1,657.5 1602.7,643.8 1602.7,643.8 1625.4,632.5 1643.5,605.3 1645.7,566.8 1646.2,528.4 1646.5,489.9 1644.3,451.4 1625.4,432.2 1602.7,437 1580.1,425 1572.5,413 1557.4,402 1538.5,374.5 1534.8,368.7 1512.1,374.5 1489.4,366.1 1466.8,336 1466.8,336 1454.2,297.6 1449.1,259.1 1445.1,220.6 1444.1,205.2 1442.1,182.2 1421.5,143.7 1421.5,143.7 1415.8,105.2 1412,66.8ZM1240.2,313 1237.4,336 1240.2,355.3 1250,336ZM1285.6,772 1268.1,797.6 1285.6,817.9 1294.3,797.6ZM1240.2,702.6 1225.1,720.7 1224.4,759.2 1240.2,781.6 1254.7,759.2 1251.6,720.7ZM1211.4,143.7 1217.6,129.3 1222.1,143.7 1217.6,151.4ZM1396.6,143.7 1398.8,137.3 1421.5,143.7 1408.2,182.2 1410.2,220.6 1398.8,233.5 1395.6,220.6 1388.9,182.2ZM1311.4,182.2 1330.9,143.7 1353.5,182.2 1353.5,182.2 1354.9,220.6 1353.5,239.9 1344.5,259.1 1330.9,275.6 1317.9,297.6 1330.9,319.5 1334.3,336 1333.8,374.5 1333.5,413 1330.9,427.4 1308.2,451.4 1304.4,413 1303.7,374.5 1303,336 1303,297.6 1306.1,259.1 1308.2,246.3 1315.8,220.6Z" fill="#82fc34" fill-rule="evenodd"/>
<path d="M1417,28.3 1421.5,28.3 1444.1,28.3 1466.8,28.3 1489.4,28.3 1489.4,28.3 1489.4,28.3 1512.1,28.3 1534.8,28.3 1557.4,28.3 1580.1,28.3 1602.7,28.3 1625.4,28.3 1648,28.3 1670.7,28.3 1693.3,28.3 1716,28.3 1716,66.8 1716,105.2 1716,143.7 1716,182.2 1716,220.6 1716,259.1 1716,297.6 1716,336 1716,374.5 1716,413 1716,451.4 1716,489.9 1716,528.4 1716,566.8 1716,605.3 1716,643.8 1716,682.2 1716,720.7 1716,759.2 1716,797.6 1716,836.1 1716,874.6 1716,913 1716,951.5 1716,990 1716,1028.4 1716,1066.9 1716,1105.4 1716,1143.8 1716,1182.3 1693.3,1182.3 1670.7,1182.3 1648,1182.3 1625.4,1182.3 1602.7,1182.3 1580.1,1182.3 1557.4,1182.3 1534.8,1182.3 1512.1,1182.3 1489.4,1182.3 1466.8,1182.3 1444.1,1182.3 1421.5,1182.3 1398.8,1182.3 1390.3,1182.3 1376.2,1160.9 1353.5,1182.3 1353.5,1182.3 1330.9,1182.3 1308.2,1182.3 1299.7,1182.3 1285.6,1143.8 1285.6,1143.8 1285.6,1143.8 1262.9,1163.1 1240.2,1143.8 1240.2,1143.8 1240.2,1143.8 1217.6,1182.3 1214.8,1143.8 1214.7,1105.4 1214.1,1066.9 1206.3,1028.4 1201,990 1194.9,972.9 1172.3,977.1 1172.3,951.5 1172.3,913 1172.3,874.6 1172.3,836.1 1172.3,816.9 1194.9,833.7 1214.9,797.6 1217.6,789.1 1224.1,797.6 1240.2,809.7 1262.9,820.1 1281.8,836.1 1285.6,842.5 1289.3,836.1 1303,797.6 1290.9,759.2 1285.6,744.4 1267.4,720.7 1262.9,714.8 1242.1,682.2 1240.2,679.3 1217.6,682.2 1208.9,643.8 1204.3,605.3 1202.9,566.8 1205.7,528.4 1216.3,489.9 1217.6,484.4 1225.1,489.9 1240.2,496.3 1255.3,528.4 1262.9,541.2 1281.8,566.8 1285.6,572.8 1308.2,586.1 1330.9,589.3 1353.5,601.8 1358,605.3 1376.2,622.4 1391.3,605.3 1398.8,592.5 1421.5,569.8 1442.4,605.3 1444.1,607.6 1466.8,634.1 1489.4,638.5 1512.1,625.4 1523.4,643.8 1534.8,654.8 1557.4,655 1580.1,666.7 1602.7,660.5 1625.4,657 1648,643.8 1648,643.8 1662.5,605.3 1663.1,566.8 1663.1,528.4 1662,489.9 1656,451.4 1648,439.2 1625.4,419.4 1602.7,425 1587.6,413 1580.1,402.3 1557.4,391 1546.1,374.5 1534.8,357 1512.1,359.1 1489.4,349.4 1479.4,336 1466.8,310.4 1462.6,297.6 1456.2,259.1 1449.9,220.6 1447.9,182.2 1444.1,143.7 1444.1,143.7 1430.2,105.2 1421.5,90.4 1417.3,66.8ZM1172.3,182.2 1172.3,172.5 1188.5,182.2 1194.9,207.8 1197.5,220.6 1194.9,228.3 1191.8,259.1 1194.9,281.1 1217.6,261.4 1235.7,297.6 1228,336 1217.6,368.6 1209.5,336 1194.9,302.6 1176.8,336 1172.3,342.4 1172.3,336 1172.3,297.6 1172.3,259.1 1172.3,220.6ZM1327.6,182.2 1330.9,175.8 1334.6,182.2 1330.9,191.8ZM1393.6,182.2 1398.8,158.7 1403.7,182.2 1398.8,208.6Z" fill="#d4fa00" fill-rule="evenodd"/>
<path d="M1421.5,28.3 1444.1,28.3 1466.8,28.3 1481.9,28.3 1489.4,37.9 1495.1,28.3 1512.1,28.3 1534.8,28.3 1557.4,28.3 1580.1,28.3 1602.7,28.3 1625.4,28.3 1648,28.3 1670.7,28.3 1693.3,28.3 1716,28.3 1716,66.8 1716,105.2 1716,143.7 1716,182.2 1716,220.6 1716,220.6 1716,220.6 1716,259.1 1716,297.6 1716,336 1716,374.5 1716,413 1716,451.4 1716,470.7 1701.8,489.9 1716,513.9 1716,528.4 1716,566.8 1716,605.3 1716,624.5 1710.3,643.8 1710.3,682.2 1714.3,720.7 1716,731.7 1716,759.2 1716,797.6 1716,836.1 1716,874.6 1716,913 1716,913 1700.1,951.5 1700.1,990 1707.7,1028.4 1707.7,1066.9 1700.1,1105.4 1700.1,1143.8 1702.8,1182.3 1693.3,1182.3 1670.7,1182.3 1648,1182.3 1625.4,1182.3 1641.6,1143.8 1645.2,1105.4 1638.3,1066.9 1625.4,1032.7 1612.4,1066.9 1605.6,1105.4 1609.2,1143.8 1625.4,1182.3 1602.7,1182.3 1580.1,1182.3 1557.4,1182.3 1534.8,1182.3 1543.8,1143.8 1547.7,1105.4 1534.8,1079.7 1521.8,1105.4 1525.7,1143.8 1512.1,1182.3 1504.6,1143.8 1502.4,1105.4 1489.4,1083.4 1476.5,1105.4 1474.3,1143.8 1466.8,1182.3 1444.1,1166.9 1421.5,1143.8 1421.5,1143.8 1398.8,1105.4 1398.8,1105.4 1395.6,1066.9 1393.2,1028.4 1376.2,992.9 1353.5,999.6 1330.9,990 1330.9,990 1330.9,990 1317.3,1028.4 1319.5,1066.9 1330.9,1105.4 1308.2,1143.8 1302.5,1105.4 1302.5,1066.9 1302.5,1028.4 1300.7,990 1291.2,951.5 1285.6,938.7 1279.9,951.5 1270.5,990 1268.6,1028.4 1266.1,1066.9 1262.9,1105.4 1259.7,1066.9 1253.8,1028.4 1240.2,1005.4 1217.6,1002.8 1216.1,990 1209.1,951.5 1194.9,919.4 1172.3,925.9 1172.3,913 1172.3,874.6 1172.3,836.1 1172.3,829.7 1180.4,836.1 1194.9,864.9 1215.3,836.1 1217.6,831.8 1240.2,833.7 1244,836.1 1262.9,860.1 1271.4,874.6 1285.6,902 1301.7,874.6 1308.2,863.6 1330.9,851.5 1353.5,860.1 1376.2,867.6 1393.2,836.1 1376.2,807.2 1353.5,812.1 1330.9,820.7 1321.2,797.6 1308.2,782.2 1301.7,759.2 1287.4,720.7 1285.6,701.5 1262.9,685.2 1261,682.2 1240.2,649.7 1233.8,643.8 1217.6,605.3 1217.6,605.3 1214.2,566.8 1216.5,528.4 1217.6,524.5 1240.2,528.4 1240.2,528.4 1262.9,566.8 1262.9,566.8 1285.6,602.3 1289.3,605.3 1308.2,624.5 1330.9,622.8 1353.5,634.1 1362,643.8 1376.2,667.8 1387.5,643.8 1398.8,629 1417,605.3 1421.5,599.4 1425,605.3 1444.1,630.2 1455.5,643.8 1466.8,659.2 1489.4,653.4 1512.1,643.8 1534.8,665.7 1557.4,671 1580.1,675.8 1602.7,677.2 1622.1,682.2 1625.4,683.2 1626,682.2 1648,657.5 1669.5,682.2 1670.7,685.4 1672.1,682.2 1676.4,643.8 1678.2,605.3 1685.8,566.8 1678.7,528.4 1684.8,489.9 1670.7,465.9 1667.3,451.4 1648,421.7 1636.7,413 1625.4,408.5 1602.7,413 1580.1,380.9 1557.4,380 1553.6,374.5 1534.8,345.4 1512.1,343.7 1495.9,336 1489.4,333.2 1470.6,297.6 1466.8,278.3 1463.3,259.1 1454.7,220.6 1453.3,182.2 1455.5,143.7 1450.6,105.2 1444.1,92.4 1429,66.8ZM1670.7,175.8 1667.6,182.2 1670.7,195 1673,182.2ZM1489.4,866.9 1484.9,874.6 1489.4,884.2 1495.1,874.6ZM1625.4,900.2 1614.1,913 1602.7,925.9 1589.8,951.5 1600.5,990 1602.7,999.6 1625.4,1024.9 1639.5,990 1641.2,951.5 1632.9,913ZM1670.7,1066.9 1670.7,1066.9 1651.3,1105.4 1655.6,1143.8 1670.7,1169.5 1683.6,1143.8 1685.8,1105.4 1670.7,1066.9ZM1398.4,182.2 1398.8,180 1399.3,182.2 1398.8,184.6ZM1172.3,220.6 1172.3,201.4 1180.4,220.6 1184,259.1 1191.6,297.6 1172.3,331.8 1172.3,297.6 1172.3,259.1ZM1200.4,297.6 1217.6,272.7 1230,297.6 1218.5,336 1217.6,339 1216.9,336Z" fill="#fcf300" fill-rule="evenodd"/>
<path d="M1451.7,28.3 1466.8,28.3 1474.3,28.3 1489.4,47.5 1500.8,28.3 1512.1,28.3 1534.8,28.3 1557.4,28.3 1580.1,28.3 1602.7,28.3 1625.4,28.3 1648,28.3 1670.7,28.3 1693.3,28.3 1716,28.3 1716,66.8 1716,105.2 1716,143.7 1716,182.2 1716,201.4 1710.6,220.6 1716,246.3 1716,259.1 1716,297.6 1716,336 1716,374.5 1716,413 1716,443.7 1693.3,438.6 1670.7,435.6 1655.6,413 1648,406.6 1625.4,399.5 1602.7,387.3 1593.3,374.5 1581.7,336 1580.1,332.5 1578,336 1557.4,366.8 1536.8,336 1534.8,333.6 1512.1,329.2 1489.4,318.9 1478.1,297.6 1471.3,259.1 1466.8,249.5 1459.6,220.6 1458.7,182.2 1466.8,143.7 1466.8,143.7 1469.1,105.2 1466.8,81.2 1459.2,66.8ZM1580.1,182.2 1580.1,182.2 1580.1,182.2 1580.1,182.2ZM1670.7,162.9 1661.5,182.2 1670.7,220.6 1670.7,220.6 1670.7,220.6 1677.5,182.2ZM1580.1,248.1 1579.2,259.1 1580.1,262.6 1581.5,259.1ZM1172.3,259.1 1172.3,239.9 1176.2,259.1 1186.7,297.6 1172.3,323.2 1172.3,297.6ZM1208.2,297.6 1217.6,284 1224.4,297.6 1217.6,319.5ZM1692,528.4 1693.3,523.6 1696.2,528.4 1693.3,533.2ZM1690.8,605.3 1693.3,596.8 1699.8,605.3 1699,643.8 1699,682.2 1705.9,720.7 1712,759.2 1716,768.8 1716,797.6 1716,836.1 1716,874.6 1716,887.4 1693.3,902 1677.2,874.6 1670.7,841.6 1660.2,874.6 1648,895.3 1635.8,874.6 1625.4,853.6 1604.5,874.6 1602.7,876.8 1580.1,892.1 1565.9,874.6 1557.4,866 1543,836.1 1534.8,815.1 1512.1,832.6 1489.4,815.1 1473.3,797.6 1466.8,794 1444.1,790.8 1421.5,797.6 1398.8,789.3 1381.1,759.2 1377.2,720.7 1384.1,682.2 1398.8,654.5 1406.4,643.8 1421.5,622.4 1437.7,643.8 1444.1,649.9 1465.8,682.2 1466.8,683.9 1468.7,682.2 1489.4,667.1 1512.1,656.6 1534.8,676.7 1548.9,682.2 1557.4,686.7 1580.1,686.7 1602.7,691.5 1625.4,701.9 1638.2,682.2 1648,671.2 1657.6,682.2 1670.7,717.5 1686.3,682.2 1687.7,643.8ZM1294.2,682.2 1308.2,654.5 1330.9,653.4 1353.5,666.2 1363,682.2 1373.7,720.7 1353.5,744.4 1330.9,753.7 1308.2,750.1 1296.4,720.7ZM1428.6,836.1 1444.1,808.3 1460.5,836.1 1459.6,874.6 1466.8,913 1463,951.5 1464.3,990 1444.1,1024.2 1421.5,1007.5 1411.2,990 1398.8,951.5 1405.3,913 1421.5,895.5 1428.6,874.6ZM1172.3,874.6 1172.3,855.3 1181.7,874.6 1172.3,890.6ZM1211.9,913 1217.6,900.2 1224.4,913 1217.6,924.6ZM1256.1,913 1262.9,901.5 1269.1,913 1262.9,924.6ZM1299.5,913 1308.2,898.2 1330.9,890.4 1353.5,890.4 1366.8,913 1353.5,935.7 1330.9,937.1 1308.2,929.1ZM1468.9,990 1489.4,965.9 1512.1,954.2 1526.8,990 1518.9,1028.4 1512.1,1040 1503.6,1028.4 1489.4,1015.6ZM1557.4,1028.4 1580.1,995.5 1590.5,1028.4 1580.1,1057.3ZM1645.9,1028.4 1648,1023.6 1650.9,1028.4 1648,1033.2ZM1688.3,1028.4 1693.3,1019.9 1695.7,1028.4 1695.7,1066.9 1693.3,1075.4 1689.6,1066.9Z" fill="#ffcc00" fill-rule="evenodd"/>
<path d="M1476.1,66.8 1489.4,57.1 1506.4,28.3 1512.1,28.3 1534.8,28.3 1557.4,28.3 1580.1,28.3 1602.7,28.3 1625.4,28.3 1648,28.3 1670.7,28.3 1693.3,28.3 1716,28.3 1716,28.3 1716,66.8 1716,105.2 1716,143.7 1716,182.2 1716,182.2 1705.2,220.6 1711.5,259.1 1716,271.9 1716,297.6 1716,336 1716,374.5 1716,413 1716,428.4 1693.3,413 1693.3,413 1670.7,413 1648,393.7 1625.4,390.6 1607.6,374.5 1602.7,364.9 1590.1,336 1580.1,315.1 1567.7,336 1557.4,351.4 1547.1,336 1534.8,321.6 1512.1,315.4 1489.4,304.7 1485.7,297.6 1480.4,259.1 1466.8,230.2 1464.4,220.6 1464.1,182.2 1466.8,169.3 1472.1,143.7 1473.6,105.2ZM1580.1,126.6 1577.2,143.7 1576.3,182.2 1577.8,220.6 1574.6,259.1 1580.1,280.1 1588.6,259.1 1585.7,220.6 1588.2,182.2 1584.3,143.7ZM1670.7,150.1 1655.4,182.2 1659.4,220.6 1670.7,239.9 1677.8,220.6 1682,182.2ZM1172.3,297.6 1172.3,266.8 1181.9,297.6 1172.3,314.7ZM1216,297.6 1217.6,295.3 1218.7,297.6 1217.6,301.2ZM1305,682.2 1308.2,675.8 1330.9,677.4 1337.3,682.2 1349,720.7 1330.9,735.4 1308.2,727.5 1305.5,720.7ZM1395.4,682.2 1398.8,675.8 1421.5,643.8 1444.1,665.3 1455.5,682.2 1466.8,700.6 1487.6,682.2 1489.4,680.9 1512.1,669.4 1527.2,682.2 1534.8,692.9 1557.4,701.5 1580.1,701.5 1602.7,704.8 1625.4,720.7 1625.4,720.7 1625.4,720.7 1648,687.7 1661,720.7 1670.7,738.9 1685.3,720.7 1693.3,701.5 1697.5,720.7 1703.9,759.2 1716,788 1716,797.6 1716,836.1 1716,861.7 1704.7,874.6 1693.3,883.7 1688,874.6 1679.2,836.1 1670.7,821 1659.7,836.1 1648,865.3 1633.2,836.1 1625.4,816.9 1615.1,836.1 1602.7,851 1580.1,862.2 1557.4,837.5 1556.7,836.1 1545.1,797.6 1534.8,786.3 1512.1,797.6 1489.4,786.3 1466.8,775.7 1444.1,777 1421.5,781.6 1398.8,772.5 1390.9,759.2 1387.5,720.7ZM1440.6,836.1 1444.1,829.7 1447.9,836.1 1447.7,874.6 1444.1,891.1 1440.6,874.6ZM1417.7,951.5 1421.5,940.5 1428,951.5 1421.5,962.5ZM1489.4,990 1512.1,981.7 1515.5,990 1512.1,1001.5Z" fill="#ffbe00" fill-rule="evenodd"/>
<path d="M1489.4,66.8 1512.1,28.3 1534.8,28.3 1534.8,28.3 1557.4,28.3 1580.1,28.3 1602.7,28.3 1625.4,28.3 1648,28.3 1670.7,28.3 1693.3,28.3 1710.6,28.3 1716,66.8 1716,105.2 1716,143.7 1706.9,182.2 1699.8,220.6 1702.4,259.1 1716,297.6 1716,297.6 1716,336 1716,374.5 1716,413 1693.3,400.1 1670.7,396.2 1648,380.9 1625.4,381.7 1617.5,374.5 1602.7,345.6 1598.5,336 1580.1,297.6 1595.6,259.1 1597.1,220.6 1596.3,182.2 1589.6,143.7 1580.1,105.2 1580.1,105.2 1580.1,105.2 1573.7,143.7 1572.5,182.2 1573.3,220.6 1570.1,259.1 1580.1,297.6 1557.4,336 1534.8,309.6 1512.1,301.7 1503.6,297.6 1489.4,259.1 1489.4,259.1 1474.3,220.6 1472.5,182.2 1477.3,143.7 1478.1,105.2 1489.4,66.8ZM1670.7,138.8 1666.2,143.7 1649.3,182.2 1648,220.6 1648,220.6 1648,220.6 1670.7,259.1 1670.7,259.1 1670.7,259.1 1684.8,220.6 1686.5,182.2 1675.2,143.7ZM1172.3,297.6 1172.3,282.2 1177.1,297.6 1172.3,306.1ZM1416.4,682.2 1421.5,675.8 1444.1,680.7 1445.2,682.2 1466.8,717.4 1489.4,707 1512.1,682.2 1534.8,714.3 1557.4,716.3 1580.1,716.3 1602.7,718 1606.5,720.7 1614.1,759.2 1611.2,797.6 1602.7,814.1 1582.6,836.1 1580.1,837.3 1578.9,836.1 1563.9,797.6 1557.4,782.2 1534.8,763.7 1512.1,770.2 1489.4,763.7 1474.3,759.2 1466.8,746.3 1461.1,759.2 1444.1,763.3 1421.5,765.6 1406.4,759.2 1398.8,733.5 1397.8,720.7 1398.8,715.9ZM1644.3,720.7 1648,715.2 1650.2,720.7 1670.7,759.2 1670.7,759.2 1670.7,759.2 1693.3,744.7 1695.8,759.2 1708.4,797.6 1716,836.1 1693.3,855.3 1688.6,836.1 1670.7,804.3 1648,831.8 1638,797.6 1638,759.2Z" fill="#ff9600" fill-rule="evenodd"/>
<path d="M1500.8,66.8 1512.1,47.5 1534.8,43.7 1541.6,28.3 1557.4,28.3 1580.1,28.3 1602.7,28.3 1625.4,28.3 1648,28.3 1670.7,28.3 1693.3,28.3 1705.2,28.3 1707.9,66.8 1707.9,105.2 1704.7,143.7 1697.9,182.2 1694.4,220.6 1693.3,259.1 1691.9,220.6 1691.1,182.2 1684.3,143.7 1670.7,128.9 1657.1,143.7 1648,165.1 1629.9,182.2 1625.4,193.2 1614.1,182.2 1602.7,177.6 1594.8,143.7 1586.7,105.2 1580.1,89.8 1574.4,105.2 1570.2,143.7 1568.7,182.2 1568.7,220.6 1565.6,259.1 1557.4,297.6 1534.8,297.6 1512.1,275.1 1504.6,259.1 1489.4,220.6 1489.4,220.6 1483.8,182.2 1482.6,143.7 1482.7,105.2 1489.4,82.2ZM1602.7,259.1 1625.4,229 1641.1,259.1 1644.9,297.6 1648,323.2 1670.7,304 1693.3,297.6 1716,323.2 1716,336 1716,374.5 1716,391.6 1693.3,387.3 1670.7,379.5 1662.2,374.5 1648,347 1625.4,371.3 1606.9,336 1602.7,297.6ZM1570.4,759.2 1580.1,747.6 1588.6,759.2 1580.1,797.6Z" fill="#ff6900" fill-rule="evenodd"/>
<path d="M1512.1,66.8 1534.8,59.1 1548.5,28.3 1557.4,28.3 1580.1,28.3 1602.7,28.3 1625.4,28.3 1625.4,28.3 1648,41.1 1670.7,28.3 1670.7,28.3 1693.3,28.3 1699.8,28.3 1699.8,66.8 1699.8,105.2 1693.3,143.7 1670.7,119 1648,143.7 1648,143.7 1625.4,154.2 1602.7,155 1600.1,143.7 1593.4,105.2 1580.1,74.5 1568.7,105.2 1566.6,143.7 1565,182.2 1564.2,220.6 1561,259.1 1557.4,276.2 1534.8,271.9 1523.4,259.1 1512.1,239.9 1504.6,220.6 1495.7,182.2 1489.4,158.1 1487.9,143.7 1487.2,105.2 1489.4,97.5 1512.1,66.8ZM1615.3,259.1 1625.4,245.7 1632.4,259.1 1637.1,297.6 1639,336 1625.4,355.3 1615.3,336 1611.8,297.6ZM1670.7,336 1693.3,329.6 1699.8,336 1693.3,374.5Z" fill="#ff3700" fill-rule="evenodd"/>
<path d="M1555.4,28.3 1557.4,28.3 1580.1,28.3 1602.7,28.3 1609.2,28.3 1625.4,55.8 1648,59.4 1670.7,55.8 1685.8,66.8 1685.8,105.2 1670.7,109.2 1648,116.2 1625.4,119.2 1602.7,122.3 1600.1,105.2 1586.7,66.8 1580.1,39.3 1569.8,66.8 1563.1,105.2 1563.1,143.7 1561.2,182.2 1559.7,220.6 1557.4,248.1 1534.8,239.9 1523.4,220.6 1512.1,196.6 1508.3,182.2 1502.7,143.7 1500.8,105.2 1512.1,92.4 1534.8,86 1545.1,66.8ZM1689.6,28.3 1693.3,28.3 1694.4,28.3 1693.3,47.5ZM1620.8,297.6 1625.4,270.1 1629.3,297.6 1627.6,336 1625.4,339.2 1623.7,336Z" fill="#fa0500" fill-rule="evenodd"/>
<path d="M1600.1,66.8 1602.7,57.2 1608.4,66.8 1602.7,76.4ZM1540.4,143.7 1557.4,105.2 1559.5,143.7 1557.4,182.2Z" fill="#d60000" fill-rule="evenodd"/>
<path d="M1190.8,28.3 1194.9,43.7 1199.1,28.3M1324,28.3 1325.2,66.8 1330.9,76.4 1337.7,66.8 1339.9,28.3M1534.8,443.7 1526,451.4 1534.8,464.3 1537,451.4 1534.8,443.7M1186.7,28.3 1194.9,59.1 1203.2,28.3M1317.1,28.3 1319.5,66.8 1330.9,86 1344.6,66.8 1349,28.3M1512.1,445.9 1509.1,451.4 1512.1,459.1 1534.8,489.9 1534.8,489.9 1534.8,489.9 1541.6,451.4 1534.8,428.4 1512.1,445.9M1182.6,28.3 1191.2,66.8 1194.9,86 1197.9,66.8 1207.3,28.3M1310.3,28.3 1313.9,66.8 1330.9,95.6 1351.5,66.8 1353.5,52.3 1376.2,28.3 1376.2,28.3M1421.5,371.5 1419,374.5 1421.5,380 1423,374.5 1421.5,371.5M1534.8,413 1534.8,413 1512.1,418.5 1494,451.4 1500.8,489.9 1512.1,500.9 1534.8,513.9 1541.6,489.9 1546.1,451.4 1534.8,413 1534.8,413M1178.5,28.3 1183.6,66.8 1190,105.2 1194.9,112.4 1198.7,105.2 1203.9,66.8 1211.4,28.3M1292.4,28.3 1308.2,66.8 1308.2,66.8 1330.9,105.2 1330.9,105.2 1330.9,105.2 1353.5,96.7 1360,105.2 1376.2,129.3 1381.8,105.2 1390.1,66.8 1398.8,28.3 1398.8,28.3M1421.5,182.2 1421.5,182.2 1421.5,182.2 1421.5,182.2 1421.5,182.2M1376.2,220.6 1376.2,220.6 1376.2,220.6 1376.2,220.6 1376.2,220.6M1398.8,331.8 1391.3,336 1383.7,374.5 1387.5,413 1398.8,416.2 1421.5,438.6 1436.6,413 1438.1,374.5 1421.5,342 1406.4,336 1398.8,331.8M1466.8,413 1466.8,413 1457.7,451.4 1453.6,489.9 1459.8,528.4 1466.8,566.8 1466.8,566.8 1466.8,566.8 1489.4,562 1512.1,547.6 1534.8,554 1540.1,528.4 1548.5,489.9 1550.6,451.4 1542.3,413 1534.8,402 1512.1,404.9 1489.4,410.1 1466.8,413M1376.2,420.7 1366.1,451.4 1376.2,473.4 1382.2,451.4 1376.2,420.7M1174.3,28.3 1176.1,66.8 1180.2,105.2 1194.9,126.6 1206.3,105.2 1209.8,66.8 1215.5,28.3M1233.8,28.3 1240.2,39.3 1256.4,66.8 1262.9,105.2 1258.4,143.7 1240.2,162.9 1228.9,182.2 1240.2,205.8 1262.9,196.8 1272,182.2 1266.1,143.7 1262.9,105.2 1285.6,90.8 1308.2,98.8 1312,105.2 1330.9,118.1 1353.5,124.5 1365.6,143.7 1370.3,182.2 1369.1,220.6 1376.2,250.2 1382.6,220.6 1379.5,182.2 1381.5,143.7 1393.2,105.2 1398.8,86 1401.5,66.8 1403.4,28.3M1421.5,169.3 1417,182.2 1421.5,197.6 1428.3,182.2 1421.5,169.3M1398.8,291.2 1392.4,297.6 1376.2,312.4 1359.7,336 1353.5,374.5 1353.5,374.5 1350.9,413 1347.9,451.4 1349.7,489.9 1353.5,509.1 1376.2,519.8 1387.5,489.9 1397.3,451.4 1398.8,448.2 1401.3,451.4 1421.5,489.9 1421.5,489.9 1443.2,528.4 1444.1,530.5 1458.4,566.8 1466.8,580.6 1489.4,584.1 1512.1,574.8 1534.8,597.6 1551.2,566.8 1553.4,528.4 1555.4,489.9 1555.1,451.4 1549.9,413 1534.8,391 1512.1,394.7 1489.4,395.9 1466.8,387.3 1456.5,374.5 1447.9,336 1444.1,323.2 1421.5,297.6 1421.5,297.6 1398.8,291.2M1172.3,422.6 1194.9,437 1199,413 1194.9,374.5 1194.9,374.5 1194.9,374.5 1172.3,393.7M1625.4,467.5 1609.5,489.9 1614.1,528.4 1625.4,547.6 1628.1,528.4 1630.8,489.9 1625.4,467.5M1194.9,720.7 1194.9,720.7 1194.9,759.2 1194.9,759.2 1194.9,759.2 1194.9,720.7 1194.9,720.7M1172.3,116.2 1194.9,140.9 1213.8,105.2 1215.8,66.8 1217.6,52.3 1226.1,66.8 1240.2,94.2 1244,105.2 1240.2,124.5 1237.2,143.7 1217.6,177 1215.3,182.2 1217.6,187.7 1233.6,220.6 1240.2,248.1 1254.4,220.6 1262.9,215.1 1285.6,220.6 1285.6,259.1 1285.6,297.6 1285.6,336 1282.7,374.5 1262.9,413 1262.9,413 1260.1,451.4 1262.9,459.1 1281,489.9 1285.6,495 1288.6,489.9 1294.9,451.4 1291.8,413 1288.6,374.5 1285.6,336 1285.6,297.6 1285.6,259.1 1285.6,220.6 1285.6,220.6 1283.3,182.2 1282.3,143.7 1285.6,135.2 1308.2,128.9 1330.9,130.9 1349.7,143.7 1353.5,150.1 1361.9,182.2 1362,220.6 1365.6,259.1 1353.5,297.6 1353.5,297.6 1345.6,336 1343.7,374.5 1342.2,413 1336.5,451.4 1337.2,489.9 1342.9,528.4 1353.5,544.2 1374.1,566.8 1376.2,569.1 1377.5,566.8 1386.2,528.4 1398.8,498.8 1421.5,507.4 1433.3,528.4 1444.1,551.9 1450,566.8 1466.8,594.3 1489.4,603.4 1512.1,590.9 1524.1,605.3 1534.8,622.4 1557.4,616 1573.8,643.8 1580.1,648.3 1587.6,643.8 1602.7,619.7 1625.4,609.8 1628.4,605.3 1633.7,566.8 1637.2,528.4 1638.7,489.9 1631.7,451.4 1625.4,445 1602.7,449 1580.1,449 1557.4,413 1557.4,413 1534.8,380 1512.1,384.6 1489.4,381.6 1478.1,374.5 1466.8,361.7 1457.4,336 1445.8,297.6 1444.1,282.2 1421.5,259.1 1421.5,259.1 1398.8,259.1 1389.1,220.6 1384.2,182.2 1389,143.7 1398.8,115.9 1404.5,105.2 1406.7,66.8 1407.9,28.3M1421.5,156.5 1412.6,182.2 1421.5,212.9 1435.2,182.2 1421.5,156.5M1172.3,441.8 1181.7,451.4 1194.9,478.4 1202.5,451.4 1207.1,413 1203,374.5 1194.9,336 1194.9,336 1194.9,336 1172.3,368.1M1172.3,770.2 1194.9,784.8 1204.8,759.2 1204.4,720.7 1194.9,688.6 1172.3,682.2 1172.3,682.2M1285.6,797.6 1285.6,797.6 1285.6,797.6 1285.6,797.6 1285.6,797.6M1200.8,1182.3 1200.6,1143.8 1200,1105.4 1196.7,1066.9 1194.9,1061.4 1191.9,1066.9 1187,1105.4 1186.3,1143.8 1187,1182.3M1211.4,143.7 1217.6,129.3 1222.1,143.7 1217.6,151.4 1211.4,143.7M1396.6,143.7 1398.8,137.3 1421.5,143.7 1408.2,182.2 1410.2,220.6 1398.8,233.5 1395.6,220.6 1388.9,182.2 1396.6,143.7M1172.3,153.3 1194.9,162.9 1204,182.2 1217.6,215.1 1220.3,220.6 1228.9,259.1 1240.2,289.9 1256.7,259.1 1262.9,247.6 1268.1,259.1 1269.4,297.6 1269.4,336 1268.6,374.5 1262.9,385.5 1245.5,413 1245.9,451.4 1258.4,489.9 1262.9,500.9 1285.6,520.7 1303.7,489.9 1308.2,451.4 1316.7,489.9 1323.3,528.4 1330.9,543.8 1353.5,566.8 1353.5,566.8 1376.2,591.7 1390.8,566.8 1398.8,528.4 1398.8,528.4 1421.5,524.9 1423.5,528.4 1438.5,566.8 1444.1,576.4 1462.7,605.3 1466.8,610.1 1489.4,621 1512.1,607.1 1534.8,643.8 1534.8,643.8 1534.8,643.8 1557.4,637.4 1561.2,643.8 1580.1,657.5 1602.7,643.8 1602.7,643.8 1625.4,632.5 1643.5,605.3 1645.7,566.8 1646.2,528.4 1646.5,489.9 1644.3,451.4 1625.4,432.2 1602.7,437 1580.1,425 1572.5,413 1557.4,402 1538.5,374.5 1534.8,368.7 1512.1,374.5 1489.4,366.1 1466.8,336 1466.8,336 1454.2,297.6 1449.1,259.1 1445.1,220.6 1444.1,205.2 1442.1,182.2 1421.5,143.7 1421.5,143.7 1415.8,105.2 1412,66.8 1412.4,28.3M1311.4,182.2 1330.9,143.7 1353.5,182.2 1353.5,182.2 1354.9,220.6 1353.5,239.9 1344.5,259.1 1330.9,275.6 1317.9,297.6 1330.9,319.5 1334.3,336 1333.8,374.5 1333.5,413 1330.9,427.4 1308.2,451.4 1304.4,413 1303.7,374.5 1303,336 1303,297.6 1306.1,259.1 1308.2,246.3 1315.8,220.6 1311.4,182.2M1240.2,313 1237.4,336 1240.2,355.3 1250,336 1240.2,313M1172.3,478.9 1177.3,489.9 1194.9,528.4 1194.9,528.4 1194.9,528.4 1203.7,489.9 1213.3,451.4 1215.2,413 1211.1,374.5 1202.2,336 1194.9,319.3 1185.9,336 1172.3,355.3M1240.2,702.6 1225.1,720.7 1224.4,759.2 1240.2,781.6 1254.7,759.2 1251.6,720.7 1240.2,702.6M1285.6,772 1268.1,797.6 1285.6,817.9 1294.3,797.6 1285.6,772M1172.3,804 1194.9,809.7 1201.6,797.6 1214.6,759.2 1213.8,720.7 1205,682.2 1194.9,651.5 1188.5,643.8 1172.3,619.7M1209.2,1182.3 1207.7,1143.8 1207.4,1105.4 1205.4,1066.9 1194.9,1033.9 1176.8,1066.9 1175.7,1105.4 1175.5,1143.8 1175.7,1182.3M1489.4,28.3 1489.4,28.3 1489.4,28.3M1172.3,172.5 1188.5,182.2 1194.9,207.8 1197.5,220.6 1194.9,228.3 1191.8,259.1 1194.9,281.1 1217.6,261.4 1235.7,297.6 1228,336 1217.6,368.6 1209.5,336 1194.9,302.6 1176.8,336 1172.3,342.4M1327.6,182.2 1330.9,175.8 1334.6,182.2 1330.9,191.8 1327.6,182.2M1393.6,182.2 1398.8,158.7 1403.7,182.2 1398.8,208.6 1393.6,182.2M1172.3,816.9 1194.9,833.7 1214.9,797.6 1217.6,789.1 1224.1,797.6 1240.2,809.7 1262.9,820.1 1281.8,836.1 1285.6,842.5 1289.3,836.1 1303,797.6 1290.9,759.2 1285.6,744.4 1267.4,720.7 1262.9,714.8 1242.1,682.2 1240.2,679.3 1217.6,682.2 1208.9,643.8 1204.3,605.3 1202.9,566.8 1205.7,528.4 1216.3,489.9 1217.6,484.4 1225.1,489.9 1240.2,496.3 1255.3,528.4 1262.9,541.2 1281.8,566.8 1285.6,572.8 1308.2,586.1 1330.9,589.3 1353.5,601.8 1358,605.3 1376.2,622.4 1391.3,605.3 1398.8,592.5 1421.5,569.8 1442.4,605.3 1444.1,607.6 1466.8,634.1 1489.4,638.5 1512.1,625.4 1523.4,643.8 1534.8,654.8 1557.4,655 1580.1,666.7 1602.7,660.5 1625.4,657 1648,643.8 1648,643.8 1662.5,605.3 1663.1,566.8 1663.1,528.4 1662,489.9 1656,451.4 1648,439.2 1625.4,419.4 1602.7,425 1587.6,413 1580.1,402.3 1557.4,391 1546.1,374.5 1534.8,357 1512.1,359.1 1489.4,349.4 1479.4,336 1466.8,310.4 1462.6,297.6 1456.2,259.1 1449.9,220.6 1447.9,182.2 1444.1,143.7 1444.1,143.7 1430.2,105.2 1421.5,90.4 1417.3,66.8 1417,28.3M1299.7,1182.3 1285.6,1143.8 1285.6,1143.8 1285.6,1143.8 1262.9,1163.1 1240.2,1143.8 1240.2,1143.8 1240.2,1143.8 1217.6,1182.3 1214.8,1143.8 1214.7,1105.4 1214.1,1066.9 1206.3,1028.4 1201,990 1194.9,972.9 1172.3,977.1M1390.3,1182.3 1376.2,1160.9 1353.5,1182.3 1353.5,1182.3M1481.9,28.3 1489.4,37.9 1495.1,28.3M1398.4,182.2 1398.8,180 1399.3,182.2 1398.8,184.6 1398.4,182.2M1670.7,175.8 1667.6,182.2 1670.7,195 1673,182.2 1670.7,175.8M1172.3,201.4 1180.4,220.6 1184,259.1 1191.6,297.6 1172.3,331.8M1716,220.6 1716,220.6 1716,220.6M1200.4,297.6 1217.6,272.7 1230,297.6 1218.5,336 1217.6,339 1216.9,336 1200.4,297.6M1716,470.7 1701.8,489.9 1716,513.9M1716,624.5 1710.3,643.8 1710.3,682.2 1714.3,720.7 1716,731.7M1172.3,829.7 1180.4,836.1 1194.9,864.9 1215.3,836.1 1217.6,831.8 1240.2,833.7 1244,836.1 1262.9,860.1 1271.4,874.6 1285.6,902 1301.7,874.6 1308.2,863.6 1330.9,851.5 1353.5,860.1 1376.2,867.6 1393.2,836.1 1376.2,807.2 1353.5,812.1 1330.9,820.7 1321.2,797.6 1308.2,782.2 1301.7,759.2 1287.4,720.7 1285.6,701.5 1262.9,685.2 1261,682.2 1240.2,649.7 1233.8,643.8 1217.6,605.3 1217.6,605.3 1214.2,566.8 1216.5,528.4 1217.6,524.5 1240.2,528.4 1240.2,528.4 1262.9,566.8 1262.9,566.8 1285.6,602.3 1289.3,605.3 1308.2,624.5 1330.9,622.8 1353.5,634.1 1362,643.8 1376.2,667.8 1387.5,643.8 1398.8,629 1417,605.3 1421.5,599.4 1425,605.3 1444.1,630.2 1455.5,643.8 1466.8,659.2 1489.4,653.4 1512.1,643.8 1534.8,665.7 1557.4,671 1580.1,675.8 1602.7,677.2 1622.1,682.2 1625.4,683.2 1626,682.2 1648,657.5 1669.5,682.2 1670.7,685.4 1672.1,682.2 1676.4,643.8 1678.2,605.3 1685.8,566.8 1678.7,528.4 1684.8,489.9 1670.7,465.9 1667.3,451.4 1648,421.7 1636.7,413 1625.4,408.5 1602.7,413 1580.1,380.9 1557.4,380 1553.6,374.5 1534.8,345.4 1512.1,343.7 1495.9,336 1489.4,333.2 1470.6,297.6 1466.8,278.3 1463.3,259.1 1454.7,220.6 1453.3,182.2 1455.5,143.7 1450.6,105.2 1444.1,92.4 1429,66.8 1421.5,28.3M1489.4,866.9 1484.9,874.6 1489.4,884.2 1495.1,874.6 1489.4,866.9M1625.4,900.2 1614.1,913 1602.7,925.9 1589.8,951.5 1600.5,990 1602.7,999.6 1625.4,1024.9 1639.5,990 1641.2,951.5 1632.9,913 1625.4,900.2M1716,913 1716,913 1700.1,951.5 1700.1,990 1707.7,1028.4 1707.7,1066.9 1700.1,1105.4 1700.1,1143.8 1702.8,1182.3M1670.7,1066.9 1670.7,1066.9 1651.3,1105.4 1655.6,1143.8 1670.7,1169.5 1683.6,1143.8 1685.8,1105.4 1670.7,1066.9 1670.7,1066.9M1534.8,1182.3 1543.8,1143.8 1547.7,1105.4 1534.8,1079.7 1521.8,1105.4 1525.7,1143.8 1512.1,1182.3 1504.6,1143.8 1502.4,1105.4 1489.4,1083.4 1476.5,1105.4 1474.3,1143.8 1466.8,1182.3 1444.1,1166.9 1421.5,1143.8 1421.5,1143.8 1398.8,1105.4 1398.8,1105.4 1395.6,1066.9 1393.2,1028.4 1376.2,992.9 1353.5,999.6 1330.9,990 1330.9,990 1330.9,990 1317.3,1028.4 1319.5,1066.9 1330.9,1105.4 1308.2,1143.8 1302.5,1105.4 1302.5,1066.9 1302.5,1028.4 1300.7,990 1291.2,951.5 1285.6,938.7 1279.9,951.5 1270.5,990 1268.6,1028.4 1266.1,1066.9 1262.9,1105.4 1259.7,1066.9 1253.8,1028.4 1240.2,1005.4 1217.6,1002.8 1216.1,990 1209.1,951.5 1194.9,919.4 1172.3,925.9M1625.4,1182.3 1641.6,1143.8 1645.2,1105.4 1638.3,1066.9 1625.4,1032.7 1612.4,1066.9 1605.6,1105.4 1609.2,1143.8 1625.4,1182.3M1474.3,28.3 1489.4,47.5 1500.8,28.3M1580.1,182.2 1580.1,182.2 1580.1,182.2 1580.1,182.2 1580.1,182.2M1670.7,162.9 1661.5,182.2 1670.7,220.6 1670.7,220.6 1670.7,220.6 1677.5,182.2 1670.7,162.9M1716,201.4 1710.6,220.6 1716,246.3M1172.3,239.9 1176.2,259.1 1186.7,297.6 1172.3,323.2M1580.1,248.1 1579.2,259.1 1580.1,262.6 1581.5,259.1 1580.1,248.1M1208.2,297.6 1217.6,284 1224.4,297.6 1217.6,319.5 1208.2,297.6M1716,443.7 1693.3,438.6 1670.7,435.6 1655.6,413 1648,406.6 1625.4,399.5 1602.7,387.3 1593.3,374.5 1581.7,336 1580.1,332.5 1578,336 1557.4,366.8 1536.8,336 1534.8,333.6 1512.1,329.2 1489.4,318.9 1478.1,297.6 1471.3,259.1 1466.8,249.5 1459.6,220.6 1458.7,182.2 1466.8,143.7 1466.8,143.7 1469.1,105.2 1466.8,81.2 1459.2,66.8 1451.7,28.3M1692,528.4 1693.3,523.6 1696.2,528.4 1693.3,533.2 1692,528.4M1294.2,682.2 1308.2,654.5 1330.9,653.4 1353.5,666.2 1363,682.2 1373.7,720.7 1353.5,744.4 1330.9,753.7 1308.2,750.1 1296.4,720.7 1294.2,682.2M1428.6,836.1 1444.1,808.3 1460.5,836.1 1459.6,874.6 1466.8,913 1463,951.5 1464.3,990 1444.1,1024.2 1421.5,1007.5 1411.2,990 1398.8,951.5 1405.3,913 1421.5,895.5 1428.6,874.6 1428.6,836.1M1172.3,855.3 1181.7,874.6 1172.3,890.6M1211.9,913 1217.6,900.2 1224.4,913 1217.6,924.6 1211.9,913M1256.1,913 1262.9,901.5 1269.1,913 1262.9,924.6 1256.1,913M1299.5,913 1308.2,898.2 1330.9,890.4 1353.5,890.4 1366.8,913 1353.5,935.7 1330.9,937.1 1308.2,929.1 1299.5,913M1716,887.4 1693.3,902 1677.2,874.6 1670.7,841.6 1660.2,874.6 1648,895.3 1635.8,874.6 1625.4,853.6 1604.5,874.6 1602.7,876.8 1580.1,892.1 1565.9,874.6 1557.4,866 1543,836.1 1534.8,815.1 1512.1,832.6 1489.4,815.1 1473.3,797.6 1466.8,794 1444.1,790.8 1421.5,797.6 1398.8,789.3 1381.1,759.2 1377.2,720.7 1384.1,682.2 1398.8,654.5 1406.4,643.8 1421.5,622.4 1437.7,643.8 1444.1,649.9 1465.8,682.2 1466.8,683.9 1468.7,682.2 1489.4,667.1 1512.1,656.6 1534.8,676.7 1548.9,682.2 1557.4,686.7 1580.1,686.7 1602.7,691.5 1625.4,701.9 1638.2,682.2 1648,671.2 1657.6,682.2 1670.7,717.5 1686.3,682.2 1687.7,643.8 1690.8,605.3 1693.3,596.8 1699.8,605.3 1699,643.8 1699,682.2 1705.9,720.7 1712,759.2 1716,768.8M1468.9,990 1489.4,965.9 1512.1,954.2 1526.8,990 1518.9,1028.4 1512.1,1040 1503.6,1028.4 1489.4,1015.6 1468.9,990M1557.4,1028.4 1580.1,995.5 1590.5,1028.4 1580.1,1057.3 1557.4,1028.4M1645.9,1028.4 1648,1023.6 1650.9,1028.4 1648,1033.2 1645.9,1028.4M1688.3,1028.4 1693.3,1019.9 1695.7,1028.4 1695.7,1066.9 1693.3,1075.4 1689.6,1066.9 1688.3,1028.4M1716,28.3 1716,28.3M1580.1,126.6 1577.2,143.7 1576.3,182.2 1577.8,220.6 1574.6,259.1 1580.1,280.1 1588.6,259.1 1585.7,220.6 1588.2,182.2 1584.3,143.7 1580.1,126.6M1670.7,150.1 1655.4,182.2 1659.4,220.6 1670.7,239.9 1677.8,220.6 1682,182.2 1670.7,150.1M1716,182.2 1716,182.2 1705.2,220.6 1711.5,259.1 1716,271.9M1172.3,266.8 1181.9,297.6 1172.3,314.7M1216,297.6 1217.6,295.3 1218.7,297.6 1217.6,301.2 1216,297.6M1716,428.4 1693.3,413 1693.3,413 1670.7,413 1648,393.7 1625.4,390.6 1607.6,374.5 1602.7,364.9 1590.1,336 1580.1,315.1 1567.7,336 1557.4,351.4 1547.1,336 1534.8,321.6 1512.1,315.4 1489.4,304.7 1485.7,297.6 1480.4,259.1 1466.8,230.2 1464.4,220.6 1464.1,182.2 1466.8,169.3 1472.1,143.7 1473.6,105.2 1476.1,66.8 1489.4,57.1 1506.4,28.3M1305,682.2 1308.2,675.8 1330.9,677.4 1337.3,682.2 1349,720.7 1330.9,735.4 1308.2,727.5 1305.5,720.7 1305,682.2M1440.6,836.1 1444.1,829.7 1447.9,836.1 1447.7,874.6 1444.1,891.1 1440.6,874.6 1440.6,836.1M1716,861.7 1704.7,874.6 1693.3,883.7 1688,874.6 1679.2,836.1 1670.7,821 1659.7,836.1 1648,865.3 1633.2,836.1 1625.4,816.9 1615.1,836.1 1602.7,851 1580.1,862.2 1557.4,837.5 1556.7,836.1 1545.1,797.6 1534.8,786.3 1512.1,797.6 1489.4,786.3 1466.8,775.7 1444.1,777 1421.5,781.6 1398.8,772.5 1390.9,759.2 1387.5,720.7 1395.4,682.2 1398.8,675.8 1421.5,643.8 1444.1,665.3 1455.5,682.2 1466.8,700.6 1487.6,682.2 1489.4,680.9 1512.1,669.4 1527.2,682.2 1534.8,692.9 1557.4,701.5 1580.1,701.5 1602.7,704.8 1625.4,720.7 1625.4,720.7 1625.4,720.7 1648,687.7 1661,720.7 1670.7,738.9 1685.3,720.7 1693.3,701.5 1697.5,720.7 1703.9,759.2 1716,788M1417.7,951.5 1421.5,940.5 1428,951.5 1421.5,962.5 1417.7,951.5M1489.4,990 1512.1,981.7 1515.5,990 1512.1,1001.5 1489.4,990M1710.6,28.3 1716,66.8 1716,105.2 1716,143.7 1706.9,182.2 1699.8,220.6 1702.4,259.1 1716,297.6 1716,297.6M1670.7,138.8 1666.2,143.7 1649.3,182.2 1648,220.6 1648,220.6 1648,220.6 1670.7,259.1 1670.7,259.1 1670.7,259.1 1684.8,220.6 1686.5,182.2 1675.2,143.7 1670.7,138.8M1172.3,282.2 1177.1,297.6 1172.3,306.1M1716,413 1693.3,400.1 1670.7,396.2 1648,380.9 1625.4,381.7 1617.5,374.5 1602.7,345.6 1598.5,336 1580.1,297.6 1595.6,259.1 1597.1,220.6 1596.3,182.2 1589.6,143.7 1580.1,105.2 1580.1,105.2 1580.1,105.2 1573.7,143.7 1572.5,182.2 1573.3,220.6 1570.1,259.1 1580.1,297.6 1557.4,336 1534.8,309.6 1512.1,301.7 1503.6,297.6 1489.4,259.1 1489.4,259.1 1474.3,220.6 1472.5,182.2 1477.3,143.7 1478.1,105.2 1489.4,66.8 1489.4,66.8 1512.1,28.3 1534.8,28.3 1534.8,28.3M1416.4,682.2 1421.5,675.8 1444.1,680.7 1445.2,682.2 1466.8,717.4 1489.4,707 1512.1,682.2 1534.8,714.3 1557.4,716.3 1580.1,716.3 1602.7,718 1606.5,720.7 1614.1,759.2 1611.2,797.6 1602.7,814.1 1582.6,836.1 1580.1,837.3 1578.9,836.1 1563.9,797.6 1557.4,782.2 1534.8,763.7 1512.1,770.2 1489.4,763.7 1474.3,759.2 1466.8,746.3 1461.1,759.2 1444.1,763.3 1421.5,765.6 1406.4,759.2 1398.8,733.5 1397.8,720.7 1398.8,715.9 1416.4,682.2M1644.3,720.7 1648,715.2 1650.2,720.7 1670.7,759.2 1670.7,759.2 1670.7,759.2 1693.3,744.7 1695.8,759.2 1708.4,797.6 1716,836.1 1693.3,855.3 1688.6,836.1 1670.7,804.3 1648,831.8 1638,797.6 1638,759.2 1644.3,720.7M1705.2,28.3 1707.9,66.8 1707.9,105.2 1704.7,143.7 1697.9,182.2 1694.4,220.6 1693.3,259.1 1691.9,220.6 1691.1,182.2 1684.3,143.7 1670.7,128.9 1657.1,143.7 1648,165.1 1629.9,182.2 1625.4,193.2 1614.1,182.2 1602.7,177.6 1594.8,143.7 1586.7,105.2 1580.1,89.8 1574.4,105.2 1570.2,143.7 1568.7,182.2 1568.7,220.6 1565.6,259.1 1557.4,297.6 1534.8,297.6 1512.1,275.1 1504.6,259.1 1489.4,220.6 1489.4,220.6 1483.8,182.2 1482.6,143.7 1482.7,105.2 1489.4,82.2 1500.8,66.8 1512.1,47.5 1534.8,43.7 1541.6,28.3M1716,391.6 1693.3,387.3 1670.7,379.5 1662.2,374.5 1648,347 1625.4,371.3 1606.9,336 1602.7,297.6 1602.7,259.1 1625.4,229 1641.1,259.1 1644.9,297.6 1648,323.2 1670.7,304 1693.3,297.6 1716,323.2M1570.4,759.2 1580.1,747.6 1588.6,759.2 1580.1,797.6 1570.4,759.2M1625.4,28.3 1625.4,28.3 1648,41.1 1670.7,28.3 1670.7,28.3M1699.8,28.3 1699.8,66.8 1699.8,105.2 1693.3,143.7 1670.7,119 1648,143.7 1648,143.7 1625.4,154.2 1602.7,155 1600.1,143.7 1593.4,105.2 1580.1,74.5 1568.7,105.2 1566.6,143.7 1565,182.2 1564.2,220.6 1561,259.1 1557.4,276.2 1534.8,271.9 1523.4,259.1 1512.1,239.9 1504.6,220.6 1495.7,182.2 1489.4,158.1 1487.9,143.7 1487.2,105.2 1489.4,97.5 1512.1,66.8 1512.1,66.8 1534.8,59.1 1548.5,28.3M1615.3,259.1 1625.4,245.7 1632.4,259.1 1637.1,297.6 1639,336 1625.4,355.3 1615.3,336 1611.8,297.6 1615.3,259.1M1670.7,336 1693.3,329.6 1699.8,336 1693.3,374.5 1670.7,336M1609.2,28.3 1625.4,55.8 1648,59.4 1670.7,55.8 1685.8,66.8 1685.8,105.2 1670.7,109.2 1648,116.2 1625.4,119.2 1602.7,122.3 1600.1,105.2 1586.7,66.8 1580.1,39.3 1569.8,66.8 1563.1,105.2 1563.1,143.7 1561.2,182.2 1559.7,220.6 1557.4,248.1 1534.8,239.9 1523.4,220.6 1512.1,196.6 1508.3,182.2 1502.7,143.7 1500.8,105.2 1512.1,92.4 1534.8,86 1545.1,66.8 1555.4,28.3M1694.4,28.3 1693.3,47.5 1689.6,28.3M1620.8,297.6 1625.4,270.1 1629.3,297.6 1627.6,336 1625.4,339.2 1623.7,336 1620.8,297.6M1600.1,66.8 1602.7,57.2 1608.4,66.8 1602.7,76.4 1600.1,66.8M1540.4,143.7 1557.4,105.2 1559.5,143.7 1557.4,182.2 1540.4,143.7" fill="none" stroke="#000" stroke-opacity="1" stroke-width="3" stroke-linejoin="round"/>
</g></g>
<rect x="152.8" y="28.3" width="1563.2" height="1154.0" fill="none" stroke="#3a3a3a" stroke-width="1.6"/>
<path d="M152.8,1182.3 v-14 M152.8,28.3 v14 M175.5,1182.3 v-14 M175.5,28.3 v14 M198.1,1182.3 v-14 M198.1,28.3 v14 M220.8,1182.3 v-14 M220.8,28.3 v14 M243.4,1182.3 v-14 M243.4,28.3 v14 M266.1,1182.3 v-14 M266.1,28.3 v14 M288.7,1182.3 v-14 M288.7,28.3 v14 M311.4,1182.3 v-14 M311.4,28.3 v14 M334,1182.3 v-14 M334,28.3 v14 M356.7,1182.3 v-14 M356.7,28.3 v14 M379.4,1182.3 v-14 M379.4,28.3 v14 M402,1182.3 v-14 M402,28.3 v14 M424.7,1182.3 v-14 M424.7,28.3 v14 M447.3,1182.3 v-14 M447.3,28.3 v14 M470,1182.3 v-14 M470,28.3 v14 M492.6,1182.3 v-14 M492.6,28.3 v14 M515.3,1182.3 v-14 M515.3,28.3 v14 M537.9,1182.3 v-14 M537.9,28.3 v14 M560.6,1182.3 v-14 M560.6,28.3 v14 M583.2,1182.3 v-14 M583.2,28.3 v14 M605.9,1182.3 v-14 M605.9,28.3 v14 M628.6,1182.3 v-14 M628.6,28.3 v14 M651.2,1182.3 v-14 M651.2,28.3 v14 M673.9,1182.3 v-14 M673.9,28.3 v14 M696.5,1182.3 v-14 M696.5,28.3 v14 M719.2,1182.3 v-14 M719.2,28.3 v14 M741.8,1182.3 v-14 M741.8,28.3 v14 M764.5,1182.3 v-14 M764.5,28.3 v14 M787.1,1182.3 v-14 M787.1,28.3 v14 M809.8,1182.3 v-14 M809.8,28.3 v14 M832.5,1182.3 v-14 M832.5,28.3 v14 M855.1,1182.3 v-14 M855.1,28.3 v14 M877.8,1182.3 v-14 M877.8,28.3 v14 M900.4,1182.3 v-14 M900.4,28.3 v14 M923.1,1182.3 v-14 M923.1,28.3 v14 M945.7,1182.3 v-14 M945.7,28.3 v14 M968.4,1182.3 v-14 M968.4,28.3 v14 M991,1182.3 v-14 M991,28.3 v14 M1013.7,1182.3 v-14 M1013.7,28.3 v14 M1036.3,1182.3 v-14 M1036.3,28.3 v14 M1059,1182.3 v-14 M1059,28.3 v14 M1081.7,1182.3 v-14 M1081.7,28.3 v14 M1104.3,1182.3 v-14 M1104.3,28.3 v14 M1127,1182.3 v-14 M1127,28.3 v14 M1149.6,1182.3 v-14 M1149.6,28.3 v14 M1172.3,1182.3 v-14 M1172.3,28.3 v14 M1194.9,1182.3 v-14 M1194.9,28.3 v14 M1217.6,1182.3 v-14 M1217.6,28.3 v14 M1240.2,1182.3 v-14 M1240.2,28.3 v14 M1262.9,1182.3 v-14 M1262.9,28.3 v14 M1285.6,1182.3 v-14 M1285.6,28.3 v14 M1308.2,1182.3 v-14 M1308.2,28.3 v14 M1330.9,1182.3 v-14 M1330.9,28.3 v14 M1353.5,1182.3 v-14 M1353.5,28.3 v14 M1376.2,1182.3 v-14 M1376.2,28.3 v14 M1398.8,1182.3 v-14 M1398.8,28.3 v14 M1421.5,1182.3 v-14 M1421.5,28.3 v14 M1444.1,1182.3 v-14 M1444.1,28.3 v14 M1466.8,1182.3 v-14 M1466.8,28.3 v14 M1489.4,1182.3 v-14 M1489.4,28.3 v14 M1512.1,1182.3 v-14 M1512.1,28.3 v14 M1534.8,1182.3 v-14 M1534.8,28.3 v14 M1557.4,1182.3 v-14 M1557.4,28.3 v14 M1580.1,1182.3 v-14 M1580.1,28.3 v14 M1602.7,1182.3 v-14 M1602.7,28.3 v14 M1625.4,1182.3 v-14 M1625.4,28.3 v14 M1648,1182.3 v-14 M1648,28.3 v14 M1670.7,1182.3 v-14 M1670.7,28.3 v14 M1693.3,1182.3 v-14 M1693.3,28.3 v14 M1716,1182.3 v-14 M1716,28.3 v14 M152.8,1182.3 h15 M1716.0,1182.3 h-15 M152.8,990 h15 M1716.0,990 h-15 M152.8,797.6 h15 M1716.0,797.6 h-15 M152.8,605.3 h15 M1716.0,605.3 h-15 M152.8,413 h15 M1716.0,413 h-15 M152.8,220.6 h15 M1716.0,220.6 h-15 M152.8,28.3 h15 M1716.0,28.3 h-15 " stroke="#3a3a3a" stroke-opacity="0.55" stroke-width="2" fill="none"/>
<text transform="translate(338,178) rotate(-6)" text-anchor="middle" font-size="40" dy="14" font-family="'Liberation Sans', sans-serif" fill="#0a0a0a" fill-opacity="0.92">−25.1648</text>
<text transform="translate(731,203) rotate(-82)" text-anchor="middle" font-size="40" dy="14" font-family="'Liberation Sans', sans-serif" fill="#0a0a0a" fill-opacity="0.92">−25.1648</text>
<text transform="translate(998,232) rotate(34)" text-anchor="middle" font-size="40" dy="14" font-family="'Liberation Sans', sans-serif" fill="#0a0a0a" fill-opacity="0.92">−25.1648</text>
<text transform="translate(900,510) rotate(21)" text-anchor="middle" font-size="40" dy="14" font-family="'Liberation Sans', sans-serif" fill="#0a0a0a" fill-opacity="0.92">−25.1648</text>
<text transform="translate(470,545) rotate(8)" text-anchor="middle" font-size="40" dy="14" font-family="'Liberation Sans', sans-serif" fill="#0a0a0a" fill-opacity="0.92">−9.75711</text>
<text transform="translate(410,760) rotate(80)" text-anchor="middle" font-size="40" dy="14" font-family="'Liberation Sans', sans-serif" fill="#0a0a0a" fill-opacity="0.92">5.65054</text>
<text transform="translate(538,990) rotate(85)" text-anchor="middle" font-size="40" dy="14" font-family="'Liberation Sans', sans-serif" fill="#0a0a0a" fill-opacity="0.92">5.65054</text>
<text transform="translate(1012,672) rotate(22)" text-anchor="middle" font-size="40" dy="14" font-family="'Liberation Sans', sans-serif" fill="#0a0a0a" fill-opacity="0.92">5.65054</text>
<text transform="translate(1171,880) rotate(0)" text-anchor="middle" font-size="40" dy="14" font-family="'Liberation Sans', sans-serif" fill="#0a0a0a" fill-opacity="0.92">5.65054</text>
<text transform="translate(1297,183) rotate(72)" text-anchor="middle" font-size="40" dy="14" font-family="'Liberation Sans', sans-serif" fill="#0a0a0a" fill-opacity="0.92">−9.75711</text>
<text transform="translate(1336,490) rotate(83)" text-anchor="middle" font-size="40" dy="14" font-family="'Liberation Sans', sans-serif" fill="#0a0a0a" fill-opacity="0.92">−9.75711</text>
<text transform="translate(1520,180) rotate(70)" text-anchor="middle" font-size="40" dy="14" font-family="'Liberation Sans', sans-serif" fill="#0a0a0a" fill-opacity="0.92">21.0582</text>
<text transform="translate(1427,915) rotate(50)" text-anchor="middle" font-size="40" dy="14" font-family="'Liberation Sans', sans-serif" fill="#0a0a0a" fill-opacity="0.92">5.65054</text>
<polygon points="181.2,561.7 629.4,611.2 598.8,888.3 150.6,838.8" fill="none" stroke="#ff0000" stroke-width="9.5" stroke-linejoin="miter"/>
<polygon points="690.9,650.8 1139.1,700.3 1108.5,977.4 660.3,927.9" fill="none" stroke="#ff0000" stroke-width="9.5" stroke-linejoin="miter"/>
<polygon points="1294.3,591.1 1742.5,640.6 1711.9,917.7 1263.7,868.2" fill="none" stroke="#ff0000" stroke-width="9.5" stroke-linejoin="miter"/>
<text x="136" y="1198.3" text-anchor="end" font-size="41.5" font-family="'Liberation Sans', sans-serif" fill="#262626">30</text>
<text x="136" y="1006" text-anchor="end" font-size="41.5" font-family="'Liberation Sans', sans-serif" fill="#262626">35</text>
<text x="136" y="813.6" text-anchor="end" font-size="41.5" font-family="'Liberation Sans', sans-serif" fill="#262626">40</text>
<text x="136" y="621.3" text-anchor="end" font-size="41.5" font-family="'Liberation Sans', sans-serif" fill="#262626">45</text>
<text x="136" y="429" text-anchor="end" font-size="41.5" font-family="'Liberation Sans', sans-serif" fill="#262626">50</text>
<text x="136" y="236.6" text-anchor="end" font-size="41.5" font-family="'Liberation Sans', sans-serif" fill="#262626">55</text>
<text x="136" y="44.3" text-anchor="end" font-size="41.5" font-family="'Liberation Sans', sans-serif" fill="#262626">60</text>
<text transform="translate(193.4,1211.6) rotate(-75)" text-anchor="end" font-size="41.5" font-family="'Liberation Sans', sans-serif" fill="#262626">010619</text>
<text transform="translate(261.4,1211.6) rotate(-75)" text-anchor="end" font-size="41.5" font-family="'Liberation Sans', sans-serif" fill="#262626">010621</text>
<text transform="translate(329.3,1211.6) rotate(-75)" text-anchor="end" font-size="41.5" font-family="'Liberation Sans', sans-serif" fill="#262626">010622</text>
<text transform="translate(397.3,1211.6) rotate(-75)" text-anchor="end" font-size="41.5" font-family="'Liberation Sans', sans-serif" fill="#262626">010700</text>
<text transform="translate(465.3,1211.6) rotate(-75)" text-anchor="end" font-size="41.5" font-family="'Liberation Sans', sans-serif" fill="#262626">010701</text>
<text transform="translate(533.2,1211.6) rotate(-75)" text-anchor="end" font-size="41.5" font-family="'Liberation Sans', sans-serif" fill="#262626">010703</text>
<text transform="translate(601.2,1211.6) rotate(-75)" text-anchor="end" font-size="41.5" font-family="'Liberation Sans', sans-serif" fill="#262626">010704</text>
<text transform="translate(737.1,1211.6) rotate(-75)" text-anchor="end" font-size="41.5" font-family="'Liberation Sans', sans-serif" fill="#262626">010720</text>
<text transform="translate(805.1,1211.6) rotate(-75)" text-anchor="end" font-size="41.5" font-family="'Liberation Sans', sans-serif" fill="#262626">010721</text>
<text transform="translate(873.1,1211.6) rotate(-75)" text-anchor="end" font-size="41.5" font-family="'Liberation Sans', sans-serif" fill="#262626">010723</text>
<text transform="translate(941,1211.6) rotate(-75)" text-anchor="end" font-size="41.5" font-family="'Liberation Sans', sans-serif" fill="#262626">010800</text>
<text transform="translate(1009,1211.6) rotate(-75)" text-anchor="end" font-size="41.5" font-family="'Liberation Sans', sans-serif" fill="#262626">010802</text>
<text transform="translate(1076.9,1211.6) rotate(-75)" text-anchor="end" font-size="41.5" font-family="'Liberation Sans', sans-serif" fill="#262626">010803</text>
<text transform="translate(1144.9,1211.6) rotate(-75)" text-anchor="end" font-size="41.5" font-family="'Liberation Sans', sans-serif" fill="#262626">010805</text>
<text transform="translate(1212.9,1211.6) rotate(-75)" text-anchor="end" font-size="41.5" font-family="'Liberation Sans', sans-serif" fill="#262626">011018</text>
<text transform="translate(1280.8,1211.6) rotate(-75)" text-anchor="end" font-size="41.5" font-family="'Liberation Sans', sans-serif" fill="#262626">011019</text>
<text transform="translate(1348.8,1211.6) rotate(-75)" text-anchor="end" font-size="41.5" font-family="'Liberation Sans', sans-serif" fill="#262626">011021</text>
<text transform="translate(1416.8,1211.6) rotate(-75)" text-anchor="end" font-size="41.5" font-family="'Liberation Sans', sans-serif" fill="#262626">011022</text>
<text transform="translate(1484.7,1211.6) rotate(-75)" text-anchor="end" font-size="41.5" font-family="'Liberation Sans', sans-serif" fill="#262626">011100</text>
<text transform="translate(1552.7,1211.6) rotate(-75)" text-anchor="end" font-size="41.5" font-family="'Liberation Sans', sans-serif" fill="#262626">011101</text>
<text transform="translate(1620.7,1211.6) rotate(-75)" text-anchor="end" font-size="41.5" font-family="'Liberation Sans', sans-serif" fill="#262626">011103</text>
<text transform="translate(1688.6,1211.6) rotate(-75)" text-anchor="end" font-size="41.5" font-family="'Liberation Sans', sans-serif" fill="#262626">011104</text>
<text transform="translate(1756.6,1211.6) rotate(-75)" text-anchor="end" font-size="41.5" font-family="'Liberation Sans', sans-serif" fill="#262626">011106</text>
<text x="934" y="1405" text-anchor="middle" font-size="50" font-family="'Liberation Sans', sans-serif" fill="#262626">Time</text>
<text transform="translate(68,606) rotate(-90)" text-anchor="middle" font-size="50" font-family="'Liberation Sans', sans-serif" fill="#262626">Altitude (km)</text>
<text transform="translate(2003,605) rotate(-90)" text-anchor="middle" font-size="50" font-family="'Liberation Sans', sans-serif" fill="#262626">Meridional wind (m/s)</text>
<defs><linearGradient id="cb" x1="0" y1="0" x2="0" y2="1"><stop offset="0.0000" stop-color="#800000"/><stop offset="0.1289" stop-color="#ff0000"/><stop offset="0.2530" stop-color="#ff8000"/><stop offset="0.3714" stop-color="#ffff00"/><stop offset="0.4222" stop-color="#befa00"/><stop offset="0.4809" stop-color="#78f54b"/><stop offset="0.4820" stop-color="#00fa64"/><stop offset="0.5350" stop-color="#00ffa0"/><stop offset="0.5802" stop-color="#00ffd7"/><stop offset="0.6253" stop-color="#00ffff"/><stop offset="0.7494" stop-color="#0080ff"/><stop offset="0.8735" stop-color="#0000ff"/><stop offset="1.0000" stop-color="#00008c"/></linearGradient></defs>
<rect x="1800.0" y="28.3" width="67.0" height="1154.0" fill="url(#cb)" stroke="#3a3a3a" stroke-width="1.6"/>
<text x="1882" y="1117.4" font-size="38" font-family="'Liberation Sans', sans-serif" fill="#262626">-50</text>
<text x="1882" y="987.2" font-size="38" font-family="'Liberation Sans', sans-serif" fill="#262626">-40</text>
<text x="1882" y="857" font-size="38" font-family="'Liberation Sans', sans-serif" fill="#262626">-30</text>
<text x="1882" y="726.8" font-size="38" font-family="'Liberation Sans', sans-serif" fill="#262626">-20</text>
<text x="1882" y="596.6" font-size="38" font-family="'Liberation Sans', sans-serif" fill="#262626">-10</text>
<text x="1882" y="466.4" font-size="38" font-family="'Liberation Sans', sans-serif" fill="#262626">0</text>
<text x="1882" y="336.2" font-size="38" font-family="'Liberation Sans', sans-serif" fill="#262626">10</text>
<text x="1882" y="206" font-size="38" font-family="'Liberation Sans', sans-serif" fill="#262626">20</text>
<text x="1882" y="75.8" font-size="38" font-family="'Liberation Sans', sans-serif" fill="#262626">30</text>
<path d="M1867.0,1101.4 h-11 M1867.0,971.2 h-11 M1867.0,841 h-11 M1867.0,710.8 h-11 M1867.0,580.6 h-11 M1867.0,450.4 h-11 M1867.0,320.2 h-11 M1867.0,190 h-11 M1867.0,59.8 h-11 " stroke="#3a3a3a" stroke-width="1.8" fill="none"/>
</svg>
</body></html>
